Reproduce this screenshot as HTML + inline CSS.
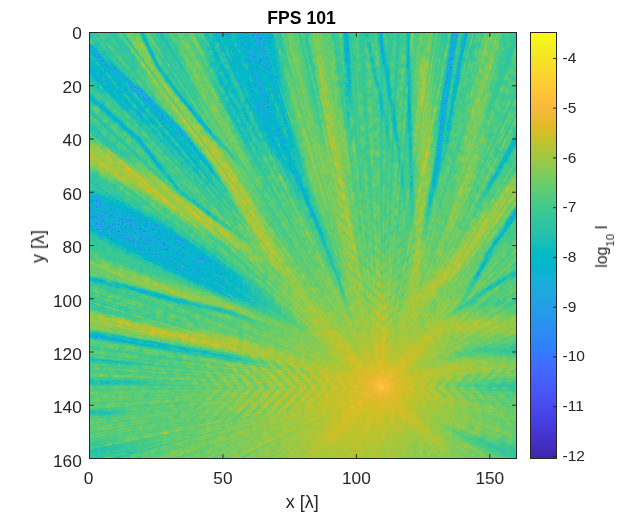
<!DOCTYPE html><html><head><meta charset="utf-8"><style>html,body{margin:0;padding:0;background:#fff;overflow:hidden}svg{position:absolute;left:0;top:0;display:block}</style></head><body><svg width="631" height="518" viewBox="0 0 631 518"><defs><filter id="b3" x="65" y="8" width="476" height="475" filterUnits="userSpaceOnUse"><feGaussianBlur stdDeviation="3"/></filter><filter id="b1" x="65" y="8" width="476" height="475" filterUnits="userSpaceOnUse"><feGaussianBlur stdDeviation="1"/></filter><linearGradient id="g0" gradientUnits="userSpaceOnUse" x1="381.5" y1="387.3" x2="270" y2="276"><stop offset="0" stop-color="rgb(0,154,0)"/><stop offset="0.4" stop-color="rgb(0,154,0)"/><stop offset="1" stop-color="rgb(0,154,0)" stop-opacity="0"/></linearGradient><linearGradient id="g1" gradientUnits="userSpaceOnUse" x1="381.5" y1="387.3" x2="493" y2="276"><stop offset="0" stop-color="rgb(0,154,0)"/><stop offset="0.4" stop-color="rgb(0,154,0)"/><stop offset="1" stop-color="rgb(0,154,0)" stop-opacity="0"/></linearGradient><linearGradient id="g2" gradientUnits="userSpaceOnUse" x1="381.5" y1="387.3" x2="300" y2="469"><stop offset="0" stop-color="rgb(0,154,0)"/><stop offset="0.5" stop-color="rgb(0,154,0)"/><stop offset="1" stop-color="rgb(0,154,0)" stop-opacity="0"/></linearGradient><linearGradient id="g3" gradientUnits="userSpaceOnUse" x1="381.5" y1="387.3" x2="463" y2="469"><stop offset="0" stop-color="rgb(0,154,0)"/><stop offset="0.5" stop-color="rgb(0,154,0)"/><stop offset="1" stop-color="rgb(0,154,0)" stop-opacity="0"/></linearGradient><linearGradient id="g4" gradientUnits="userSpaceOnUse" x1="381.5" y1="387.3" x2="381.5" y2="250"><stop offset="0" stop-color="rgb(0,163,0)"/><stop offset="0.4" stop-color="rgb(0,163,0)"/><stop offset="1" stop-color="rgb(0,163,0)" stop-opacity="0"/></linearGradient><linearGradient id="g5" gradientUnits="userSpaceOnUse" x1="381.5" y1="387.3" x2="180" y2="387"><stop offset="0" stop-color="rgb(0,154,0)"/><stop offset="0.5" stop-color="rgb(0,154,0)"/><stop offset="1" stop-color="rgb(0,154,0)" stop-opacity="0"/></linearGradient><linearGradient id="g6" gradientUnits="userSpaceOnUse" x1="381.5" y1="387.3" x2="480" y2="387"><stop offset="0" stop-color="rgb(0,154,0)"/><stop offset="0.5" stop-color="rgb(0,154,0)"/><stop offset="1" stop-color="rgb(0,154,0)" stop-opacity="0"/></linearGradient><linearGradient id="g7" gradientUnits="userSpaceOnUse" x1="84" y1="58" x2="245" y2="230"><stop offset="0" stop-color="rgb(0,87,0)"/><stop offset="0.65" stop-color="rgb(0,87,0)"/><stop offset="1" stop-color="rgb(0,87,0)" stop-opacity="0"/></linearGradient><linearGradient id="g8" gradientUnits="userSpaceOnUse" x1="128" y1="22" x2="330" y2="330"><stop offset="0" stop-color="rgb(0,159,0)"/><stop offset="0.3" stop-color="rgb(0,170,0)"/><stop offset="0.5" stop-color="rgb(0,181,0)"/><stop offset="0.68" stop-color="rgb(0,182,0)"/><stop offset="1" stop-color="rgb(0,183,0)" stop-opacity="0"/></linearGradient><linearGradient id="g12" gradientUnits="userSpaceOnUse" x1="84" y1="150" x2="290" y2="280"><stop offset="0" stop-color="rgb(0,187,0)"/><stop offset="0.55" stop-color="rgb(0,187,0)"/><stop offset="1" stop-color="rgb(0,187,0)" stop-opacity="0"/></linearGradient><linearGradient id="g13" gradientUnits="userSpaceOnUse" x1="84" y1="208" x2="320" y2="337"><stop offset="0" stop-color="rgb(0,66,0)"/><stop offset="0.65" stop-color="rgb(0,66,0)"/><stop offset="1" stop-color="rgb(0,66,0)" stop-opacity="0"/></linearGradient><linearGradient id="g14" gradientUnits="userSpaceOnUse" x1="84" y1="264" x2="320" y2="345"><stop offset="0" stop-color="rgb(0,167,0)"/><stop offset="0.6" stop-color="rgb(0,167,0)"/><stop offset="1" stop-color="rgb(0,167,0)" stop-opacity="0"/></linearGradient><linearGradient id="g16" gradientUnits="userSpaceOnUse" x1="84" y1="320" x2="330" y2="372"><stop offset="0" stop-color="rgb(0,181,0)"/><stop offset="0.6" stop-color="rgb(0,181,0)"/><stop offset="1" stop-color="rgb(0,181,0)" stop-opacity="0"/></linearGradient><linearGradient id="g21" gradientUnits="userSpaceOnUse" x1="84" y1="452" x2="180" y2="440"><stop offset="0" stop-color="rgb(0,92,0)"/><stop offset="0.4" stop-color="rgb(0,92,0)"/><stop offset="1" stop-color="rgb(0,92,0)" stop-opacity="0"/></linearGradient><linearGradient id="g22" gradientUnits="userSpaceOnUse" x1="222" y1="22" x2="272" y2="185"><stop offset="0" stop-color="rgb(0,92,0)"/><stop offset="0.6" stop-color="rgb(0,92,0)"/><stop offset="1" stop-color="rgb(0,92,0)" stop-opacity="0"/></linearGradient><linearGradient id="g23" gradientUnits="userSpaceOnUse" x1="182" y1="22" x2="275" y2="230"><stop offset="0" stop-color="rgb(0,159,0)"/><stop offset="0.6" stop-color="rgb(0,159,0)"/><stop offset="1" stop-color="rgb(0,159,0)" stop-opacity="0"/></linearGradient><linearGradient id="g24" gradientUnits="userSpaceOnUse" x1="248" y1="22" x2="346" y2="300"><stop offset="0" stop-color="rgb(0,82,0)"/><stop offset="0.7" stop-color="rgb(0,82,0)"/><stop offset="1" stop-color="rgb(0,82,0)" stop-opacity="0"/></linearGradient><linearGradient id="g25" gradientUnits="userSpaceOnUse" x1="252" y1="22" x2="346" y2="300"><stop offset="0" stop-color="rgb(0,64,0)"/><stop offset="0.7" stop-color="rgb(0,64,0)"/><stop offset="1" stop-color="rgb(0,64,0)" stop-opacity="0"/></linearGradient><linearGradient id="g26" gradientUnits="userSpaceOnUse" x1="290" y1="22" x2="342" y2="280"><stop offset="0" stop-color="rgb(0,159,0)"/><stop offset="0.6" stop-color="rgb(0,159,0)"/><stop offset="1" stop-color="rgb(0,159,0)" stop-opacity="0"/></linearGradient><linearGradient id="g27" gradientUnits="userSpaceOnUse" x1="317" y1="22" x2="375" y2="360"><stop offset="0" stop-color="rgb(0,172,0)"/><stop offset="0.65" stop-color="rgb(0,172,0)"/><stop offset="1" stop-color="rgb(0,172,0)" stop-opacity="0"/></linearGradient><linearGradient id="g32" gradientUnits="userSpaceOnUse" x1="424" y1="22" x2="411" y2="318"><stop offset="0" stop-color="rgb(0,150,0)"/><stop offset="0.7" stop-color="rgb(0,150,0)"/><stop offset="1" stop-color="rgb(0,150,0)" stop-opacity="0"/></linearGradient><linearGradient id="g33" gradientUnits="userSpaceOnUse" x1="425" y1="60" x2="405" y2="340"><stop offset="0" stop-color="rgb(0,176,0)"/><stop offset="0.65" stop-color="rgb(0,176,0)"/><stop offset="1" stop-color="rgb(0,176,0)" stop-opacity="0"/></linearGradient><linearGradient id="g37" gradientUnits="userSpaceOnUse" x1="494" y1="22" x2="430" y2="280"><stop offset="0" stop-color="rgb(0,159,0)"/><stop offset="0.6" stop-color="rgb(0,159,0)"/><stop offset="1" stop-color="rgb(0,159,0)" stop-opacity="0"/></linearGradient><linearGradient id="g39" gradientUnits="userSpaceOnUse" x1="522" y1="178" x2="395" y2="330"><stop offset="0" stop-color="rgb(0,167,0)"/><stop offset="0.6" stop-color="rgb(0,167,0)"/><stop offset="1" stop-color="rgb(0,167,0)" stop-opacity="0"/></linearGradient><linearGradient id="g42" gradientUnits="userSpaceOnUse" x1="522" y1="302" x2="430" y2="330"><stop offset="0" stop-color="rgb(0,97,0)"/><stop offset="0.5" stop-color="rgb(0,97,0)"/><stop offset="1" stop-color="rgb(0,97,0)" stop-opacity="0"/></linearGradient><linearGradient id="g43" gradientUnits="userSpaceOnUse" x1="522" y1="325" x2="405" y2="355"><stop offset="0" stop-color="rgb(0,159,0)"/><stop offset="0.5" stop-color="rgb(0,159,0)"/><stop offset="1" stop-color="rgb(0,159,0)" stop-opacity="0"/></linearGradient><linearGradient id="g44" gradientUnits="userSpaceOnUse" x1="522" y1="350" x2="410" y2="375"><stop offset="0" stop-color="rgb(0,82,0)"/><stop offset="0.5" stop-color="rgb(0,82,0)"/><stop offset="1" stop-color="rgb(0,82,0)" stop-opacity="0"/></linearGradient><linearGradient id="g45" gradientUnits="userSpaceOnUse" x1="522" y1="368" x2="410" y2="376"><stop offset="0" stop-color="rgb(0,154,0)"/><stop offset="0.5" stop-color="rgb(0,154,0)"/><stop offset="1" stop-color="rgb(0,154,0)" stop-opacity="0"/></linearGradient><linearGradient id="g46" gradientUnits="userSpaceOnUse" x1="522" y1="387" x2="415" y2="387"><stop offset="0" stop-color="rgb(0,82,0)"/><stop offset="0.5" stop-color="rgb(0,82,0)"/><stop offset="1" stop-color="rgb(0,82,0)" stop-opacity="0"/></linearGradient><linearGradient id="g47" gradientUnits="userSpaceOnUse" x1="522" y1="455" x2="415" y2="412"><stop offset="0" stop-color="rgb(0,82,0)"/><stop offset="0.5" stop-color="rgb(0,82,0)"/><stop offset="1" stop-color="rgb(0,82,0)" stop-opacity="0"/></linearGradient><linearGradient id="g9" gradientUnits="userSpaceOnUse" x1="88" y1="45" x2="245" y2="220"><stop offset="0" stop-color="rgb(0,61,0)"/><stop offset="0.7" stop-color="rgb(0,61,0)"/><stop offset="1" stop-color="rgb(0,61,0)" stop-opacity="0"/></linearGradient><linearGradient id="g10" gradientUnits="userSpaceOnUse" x1="138" y1="22" x2="250" y2="175"><stop offset="0" stop-color="rgb(0,36,0)"/><stop offset="0.7" stop-color="rgb(0,36,0)"/><stop offset="1" stop-color="rgb(0,36,0)" stop-opacity="0"/></linearGradient><linearGradient id="g11" gradientUnits="userSpaceOnUse" x1="84" y1="92" x2="260" y2="250"><stop offset="0" stop-color="rgb(0,66,0)"/><stop offset="0.7" stop-color="rgb(0,66,0)"/><stop offset="1" stop-color="rgb(0,66,0)" stop-opacity="0"/></linearGradient><linearGradient id="g15" gradientUnits="userSpaceOnUse" x1="84" y1="277" x2="290" y2="335"><stop offset="0" stop-color="rgb(0,76,0)"/><stop offset="0.7" stop-color="rgb(0,76,0)"/><stop offset="1" stop-color="rgb(0,76,0)" stop-opacity="0"/></linearGradient><linearGradient id="g17" gradientUnits="userSpaceOnUse" x1="84" y1="334" x2="290" y2="370"><stop offset="0" stop-color="rgb(0,66,0)"/><stop offset="0.7" stop-color="rgb(0,66,0)"/><stop offset="1" stop-color="rgb(0,66,0)" stop-opacity="0"/></linearGradient><linearGradient id="g18" gradientUnits="userSpaceOnUse" x1="84" y1="360" x2="160" y2="366"><stop offset="0" stop-color="rgb(0,92,0)"/><stop offset="0.5" stop-color="rgb(0,92,0)"/><stop offset="1" stop-color="rgb(0,92,0)" stop-opacity="0"/></linearGradient><linearGradient id="g19" gradientUnits="userSpaceOnUse" x1="84" y1="382" x2="180" y2="384"><stop offset="0" stop-color="rgb(0,71,0)"/><stop offset="0.5" stop-color="rgb(0,71,0)"/><stop offset="1" stop-color="rgb(0,71,0)" stop-opacity="0"/></linearGradient><linearGradient id="g20" gradientUnits="userSpaceOnUse" x1="84" y1="412" x2="140" y2="410"><stop offset="0" stop-color="rgb(0,76,0)"/><stop offset="0.5" stop-color="rgb(0,76,0)"/><stop offset="1" stop-color="rgb(0,76,0)" stop-opacity="0"/></linearGradient><linearGradient id="g28" gradientUnits="userSpaceOnUse" x1="345" y1="22" x2="352" y2="150"><stop offset="0" stop-color="rgb(0,76,0)"/><stop offset="0.5" stop-color="rgb(0,76,0)"/><stop offset="1" stop-color="rgb(0,76,0)" stop-opacity="0"/></linearGradient><linearGradient id="g29" gradientUnits="userSpaceOnUse" x1="378" y1="22" x2="408" y2="230"><stop offset="0" stop-color="rgb(0,76,0)"/><stop offset="0.6" stop-color="rgb(0,76,0)"/><stop offset="1" stop-color="rgb(0,76,0)" stop-opacity="0"/></linearGradient><linearGradient id="g30" gradientUnits="userSpaceOnUse" x1="364" y1="22" x2="398" y2="180"><stop offset="0" stop-color="rgb(0,82,0)"/><stop offset="0.6" stop-color="rgb(0,82,0)"/><stop offset="1" stop-color="rgb(0,82,0)" stop-opacity="0"/></linearGradient><linearGradient id="g31" gradientUnits="userSpaceOnUse" x1="296" y1="172" x2="355" y2="330"><stop offset="0" stop-color="rgb(0,56,0)"/><stop offset="0.7" stop-color="rgb(0,56,0)"/><stop offset="1" stop-color="rgb(0,56,0)" stop-opacity="0"/></linearGradient><linearGradient id="g34" gradientUnits="userSpaceOnUse" x1="408" y1="22" x2="414" y2="250"><stop offset="0" stop-color="rgb(0,66,0)"/><stop offset="0.7" stop-color="rgb(0,66,0)"/><stop offset="1" stop-color="rgb(0,66,0)" stop-opacity="0"/></linearGradient><linearGradient id="g35" gradientUnits="userSpaceOnUse" x1="457" y1="22" x2="418" y2="260"><stop offset="0" stop-color="rgb(0,56,0)"/><stop offset="0.7" stop-color="rgb(0,56,0)"/><stop offset="1" stop-color="rgb(0,56,0)" stop-opacity="0"/></linearGradient><linearGradient id="g36" gradientUnits="userSpaceOnUse" x1="468" y1="22" x2="432" y2="200"><stop offset="0" stop-color="rgb(0,71,0)"/><stop offset="0.6" stop-color="rgb(0,71,0)"/><stop offset="1" stop-color="rgb(0,71,0)" stop-opacity="0"/></linearGradient><linearGradient id="g38" gradientUnits="userSpaceOnUse" x1="522" y1="125" x2="475" y2="210"><stop offset="0" stop-color="rgb(0,71,0)"/><stop offset="0.6" stop-color="rgb(0,71,0)"/><stop offset="1" stop-color="rgb(0,71,0)" stop-opacity="0"/></linearGradient><linearGradient id="g40" gradientUnits="userSpaceOnUse" x1="522" y1="203" x2="450" y2="320"><stop offset="0" stop-color="rgb(0,56,0)"/><stop offset="0.6" stop-color="rgb(0,56,0)"/><stop offset="1" stop-color="rgb(0,56,0)" stop-opacity="0"/></linearGradient><linearGradient id="g41" gradientUnits="userSpaceOnUse" x1="522" y1="268" x2="440" y2="320"><stop offset="0" stop-color="rgb(0,66,0)"/><stop offset="0.6" stop-color="rgb(0,66,0)"/><stop offset="1" stop-color="rgb(0,66,0)" stop-opacity="0"/></linearGradient><pattern id="hp0" width="7.4" height="7.4" patternUnits="userSpaceOnUse" patternTransform="translate(381.5 387.3) rotate(-45)"><rect width="2" height="7.4" fill="rgb(0,92,0)"/></pattern><linearGradient id="hm0g" gradientUnits="userSpaceOnUse" x1="381.5" y1="387.3" x2="381.5" y2="170"><stop offset="0" stop-color="#fff" stop-opacity="0.15"/><stop offset="0.35" stop-color="#fff" stop-opacity="0.8"/><stop offset="1" stop-color="#fff" stop-opacity="0.2"/></linearGradient><mask id="hm0" maskUnits="userSpaceOnUse" x="65" y="8" width="476" height="475"><path d="M381.5 387.3L381.5 170L325 170Z" fill="url(#hm0g)"/></mask><pattern id="hp1" width="7.4" height="7.4" patternUnits="userSpaceOnUse" patternTransform="translate(381.5 387.3) rotate(45)"><rect width="2" height="7.4" fill="rgb(0,92,0)"/></pattern><linearGradient id="hm1g" gradientUnits="userSpaceOnUse" x1="381.5" y1="387.3" x2="381.5" y2="170"><stop offset="0" stop-color="#fff" stop-opacity="0.15"/><stop offset="0.35" stop-color="#fff" stop-opacity="0.8"/><stop offset="1" stop-color="#fff" stop-opacity="0.2"/></linearGradient><mask id="hm1" maskUnits="userSpaceOnUse" x="65" y="8" width="476" height="475"><path d="M381.5 387.3L381.5 170L438 170Z" fill="url(#hm1g)"/></mask><pattern id="hp2" width="7.4" height="7.4" patternUnits="userSpaceOnUse" patternTransform="translate(381.5 387.3) rotate(-45)"><rect width="2" height="7.4" fill="rgb(0,69,0)"/></pattern><linearGradient id="hm2g" gradientUnits="userSpaceOnUse" x1="381.5" y1="387.3" x2="120" y2="387.3"><stop offset="0" stop-color="#fff" stop-opacity="0.15"/><stop offset="0.3" stop-color="#fff" stop-opacity="0.9"/><stop offset="1" stop-color="#fff" stop-opacity="0"/></linearGradient><mask id="hm2" maskUnits="userSpaceOnUse" x="65" y="8" width="476" height="475"><path d="M381.5 387.3L240 352L89 345L89 387.3Z" fill="url(#hm2g)"/></mask><pattern id="hp3" width="7.4" height="7.4" patternUnits="userSpaceOnUse" patternTransform="translate(381.5 387.3) rotate(45)"><rect width="2" height="7.4" fill="rgb(0,69,0)"/></pattern><linearGradient id="hm3g" gradientUnits="userSpaceOnUse" x1="381.5" y1="387.3" x2="120" y2="387.3"><stop offset="0" stop-color="#fff" stop-opacity="0.15"/><stop offset="0.3" stop-color="#fff" stop-opacity="0.9"/><stop offset="1" stop-color="#fff" stop-opacity="0"/></linearGradient><mask id="hm3" maskUnits="userSpaceOnUse" x="65" y="8" width="476" height="475"><path d="M381.5 387.3L240 422L89 430L89 387.3Z" fill="url(#hm3g)"/></mask><pattern id="hp4" width="7.4" height="7.4" patternUnits="userSpaceOnUse" patternTransform="translate(381.5 387.3) rotate(45)"><rect width="2" height="7.4" fill="rgb(0,69,0)"/></pattern><linearGradient id="hm4g" gradientUnits="userSpaceOnUse" x1="381.5" y1="387.3" x2="517" y2="387.3"><stop offset="0" stop-color="#fff" stop-opacity="0.15"/><stop offset="0.45" stop-color="#fff" stop-opacity="0.9"/><stop offset="1" stop-color="#fff" stop-opacity="0.4"/></linearGradient><mask id="hm4" maskUnits="userSpaceOnUse" x="65" y="8" width="476" height="475"><path d="M381.5 387.3L517 365L517 387.3Z" fill="url(#hm4g)"/></mask><pattern id="hp5" width="7.4" height="7.4" patternUnits="userSpaceOnUse" patternTransform="translate(381.5 387.3) rotate(-45)"><rect width="2" height="7.4" fill="rgb(0,69,0)"/></pattern><linearGradient id="hm5g" gradientUnits="userSpaceOnUse" x1="381.5" y1="387.3" x2="517" y2="387.3"><stop offset="0" stop-color="#fff" stop-opacity="0.15"/><stop offset="0.45" stop-color="#fff" stop-opacity="0.9"/><stop offset="1" stop-color="#fff" stop-opacity="0.4"/></linearGradient><mask id="hm5" maskUnits="userSpaceOnUse" x="65" y="8" width="476" height="475"><path d="M381.5 387.3L517 410L517 387.3Z" fill="url(#hm5g)"/></mask><radialGradient id="rs0" gradientUnits="userSpaceOnUse" cx="381.5" cy="387.3" r="560"><stop offset="0.0000" stop-color="rgb(255,0,0)"/><stop offset="0.0003" stop-color="rgb(255,0,0)"/><stop offset="0.0011" stop-color="rgb(246,0,0)"/><stop offset="0.0018" stop-color="rgb(236,0,0)"/><stop offset="0.0025" stop-color="rgb(233,0,0)"/><stop offset="0.0044" stop-color="rgb(226,0,0)"/><stop offset="0.0054" stop-color="rgb(223,0,0)"/><stop offset="0.0069" stop-color="rgb(221,0,0)"/><stop offset="0.0100" stop-color="rgb(218,0,0)"/><stop offset="0.0136" stop-color="rgb(215,0,0)"/><stop offset="0.0143" stop-color="rgb(214,0,0)"/><stop offset="0.0178" stop-color="rgb(211,0,0)"/><stop offset="0.0225" stop-color="rgb(208,0,0)"/><stop offset="0.0268" stop-color="rgb(205,0,0)"/><stop offset="0.0278" stop-color="rgb(205,0,0)"/><stop offset="0.0336" stop-color="rgb(203,0,0)"/><stop offset="0.0400" stop-color="rgb(201,0,0)"/><stop offset="0.0469" stop-color="rgb(198,0,0)"/><stop offset="0.0536" stop-color="rgb(196,0,0)"/><stop offset="0.0544" stop-color="rgb(196,0,0)"/><stop offset="0.0625" stop-color="rgb(194,0,0)"/><stop offset="0.0711" stop-color="rgb(193,0,0)"/><stop offset="0.0803" stop-color="rgb(191,0,0)"/><stop offset="0.0900" stop-color="rgb(189,0,0)"/><stop offset="0.1003" stop-color="rgb(187,0,0)"/><stop offset="0.1071" stop-color="rgb(186,0,0)"/><stop offset="0.1111" stop-color="rgb(185,0,0)"/><stop offset="0.1225" stop-color="rgb(184,0,0)"/><stop offset="0.1344" stop-color="rgb(182,0,0)"/><stop offset="0.1469" stop-color="rgb(181,0,0)"/><stop offset="0.1600" stop-color="rgb(179,0,0)"/><stop offset="0.1736" stop-color="rgb(177,0,0)"/><stop offset="0.1786" stop-color="rgb(177,0,0)"/><stop offset="0.1878" stop-color="rgb(176,0,0)"/><stop offset="0.2025" stop-color="rgb(174,0,0)"/><stop offset="0.2178" stop-color="rgb(173,0,0)"/><stop offset="0.2336" stop-color="rgb(171,0,0)"/><stop offset="0.2500" stop-color="rgb(170,0,0)"/><stop offset="0.2669" stop-color="rgb(168,0,0)"/><stop offset="0.2679" stop-color="rgb(168,0,0)"/><stop offset="0.2844" stop-color="rgb(167,0,0)"/><stop offset="0.3025" stop-color="rgb(166,0,0)"/><stop offset="0.3211" stop-color="rgb(165,0,0)"/><stop offset="0.3403" stop-color="rgb(163,0,0)"/><stop offset="0.3600" stop-color="rgb(162,0,0)"/><stop offset="0.3803" stop-color="rgb(161,0,0)"/><stop offset="0.3929" stop-color="rgb(160,0,0)"/><stop offset="0.4011" stop-color="rgb(160,0,0)"/><stop offset="0.4225" stop-color="rgb(159,0,0)"/><stop offset="0.4444" stop-color="rgb(159,0,0)"/><stop offset="0.4669" stop-color="rgb(158,0,0)"/><stop offset="0.4900" stop-color="rgb(157,0,0)"/><stop offset="0.5136" stop-color="rgb(157,0,0)"/><stop offset="0.5357" stop-color="rgb(156,0,0)"/><stop offset="0.5378" stop-color="rgb(156,0,0)"/><stop offset="0.5625" stop-color="rgb(155,0,0)"/><stop offset="0.5878" stop-color="rgb(155,0,0)"/><stop offset="0.6136" stop-color="rgb(154,0,0)"/><stop offset="0.6400" stop-color="rgb(153,0,0)"/><stop offset="0.6669" stop-color="rgb(153,0,0)"/><stop offset="0.6944" stop-color="rgb(152,0,0)"/><stop offset="0.7143" stop-color="rgb(151,0,0)"/><stop offset="0.7225" stop-color="rgb(151,0,0)"/><stop offset="0.7511" stop-color="rgb(151,0,0)"/><stop offset="0.7803" stop-color="rgb(151,0,0)"/><stop offset="0.8100" stop-color="rgb(150,0,0)"/><stop offset="0.8403" stop-color="rgb(150,0,0)"/><stop offset="0.8711" stop-color="rgb(150,0,0)"/><stop offset="0.9025" stop-color="rgb(149,0,0)"/><stop offset="0.9344" stop-color="rgb(149,0,0)"/><stop offset="0.9669" stop-color="rgb(149,0,0)"/><stop offset="1.0000" stop-color="rgb(148,0,0)"/></radialGradient><radialGradient id="nsg" gradientUnits="userSpaceOnUse" cx="381.5" cy="387.3" r="70"><stop offset="0" stop-color="#fff" stop-opacity="0.9"/><stop offset="0.5" stop-color="#fff" stop-opacity="0.6"/><stop offset="1" stop-color="#fff" stop-opacity="0"/></radialGradient><mask id="nsm" maskUnits="userSpaceOnUse" x="65" y="8" width="476" height="475"><rect x="65" y="8" width="476" height="475" fill="url(#nsg)"/></mask><filter id="bs" x="65" y="8" width="476" height="475" filterUnits="userSpaceOnUse"><feGaussianBlur stdDeviation="18"/></filter><radialGradient id="rg" gradientUnits="userSpaceOnUse" cx="381.5" cy="387.3" r="560"><stop offset="0.0000" stop-color="rgb(254,0,0)"/><stop offset="0.0003" stop-color="rgb(250,0,0)"/><stop offset="0.0011" stop-color="rgb(237,0,0)"/><stop offset="0.0018" stop-color="rgb(227,0,0)"/><stop offset="0.0025" stop-color="rgb(225,0,0)"/><stop offset="0.0044" stop-color="rgb(217,0,0)"/><stop offset="0.0054" stop-color="rgb(214,0,0)"/><stop offset="0.0069" stop-color="rgb(212,0,0)"/><stop offset="0.0100" stop-color="rgb(209,0,0)"/><stop offset="0.0136" stop-color="rgb(206,0,0)"/><stop offset="0.0143" stop-color="rgb(205,0,0)"/><stop offset="0.0178" stop-color="rgb(202,0,0)"/><stop offset="0.0225" stop-color="rgb(199,0,0)"/><stop offset="0.0268" stop-color="rgb(196,0,0)"/><stop offset="0.0278" stop-color="rgb(196,0,0)"/><stop offset="0.0336" stop-color="rgb(194,0,0)"/><stop offset="0.0400" stop-color="rgb(192,0,0)"/><stop offset="0.0469" stop-color="rgb(189,0,0)"/><stop offset="0.0536" stop-color="rgb(187,0,0)"/><stop offset="0.0544" stop-color="rgb(187,0,0)"/><stop offset="0.0625" stop-color="rgb(185,0,0)"/><stop offset="0.0711" stop-color="rgb(184,0,0)"/><stop offset="0.0803" stop-color="rgb(182,0,0)"/><stop offset="0.0900" stop-color="rgb(180,0,0)"/><stop offset="0.1003" stop-color="rgb(178,0,0)"/><stop offset="0.1071" stop-color="rgb(177,0,0)"/><stop offset="0.1111" stop-color="rgb(176,0,0)"/><stop offset="0.1225" stop-color="rgb(175,0,0)"/><stop offset="0.1344" stop-color="rgb(173,0,0)"/><stop offset="0.1469" stop-color="rgb(172,0,0)"/><stop offset="0.1600" stop-color="rgb(170,0,0)"/><stop offset="0.1736" stop-color="rgb(168,0,0)"/><stop offset="0.1786" stop-color="rgb(168,0,0)"/><stop offset="0.1878" stop-color="rgb(167,0,0)"/><stop offset="0.2025" stop-color="rgb(165,0,0)"/><stop offset="0.2178" stop-color="rgb(164,0,0)"/><stop offset="0.2336" stop-color="rgb(162,0,0)"/><stop offset="0.2500" stop-color="rgb(161,0,0)"/><stop offset="0.2669" stop-color="rgb(159,0,0)"/><stop offset="0.2679" stop-color="rgb(159,0,0)"/><stop offset="0.2844" stop-color="rgb(158,0,0)"/><stop offset="0.3025" stop-color="rgb(157,0,0)"/><stop offset="0.3211" stop-color="rgb(156,0,0)"/><stop offset="0.3403" stop-color="rgb(155,0,0)"/><stop offset="0.3600" stop-color="rgb(153,0,0)"/><stop offset="0.3803" stop-color="rgb(152,0,0)"/><stop offset="0.3929" stop-color="rgb(151,0,0)"/><stop offset="0.4011" stop-color="rgb(151,0,0)"/><stop offset="0.4225" stop-color="rgb(151,0,0)"/><stop offset="0.4444" stop-color="rgb(150,0,0)"/><stop offset="0.4669" stop-color="rgb(149,0,0)"/><stop offset="0.4900" stop-color="rgb(148,0,0)"/><stop offset="0.5136" stop-color="rgb(148,0,0)"/><stop offset="0.5357" stop-color="rgb(147,0,0)"/><stop offset="0.5378" stop-color="rgb(147,0,0)"/><stop offset="0.5625" stop-color="rgb(146,0,0)"/><stop offset="0.5878" stop-color="rgb(146,0,0)"/><stop offset="0.6136" stop-color="rgb(145,0,0)"/><stop offset="0.6400" stop-color="rgb(144,0,0)"/><stop offset="0.6669" stop-color="rgb(144,0,0)"/><stop offset="0.6944" stop-color="rgb(143,0,0)"/><stop offset="0.7143" stop-color="rgb(143,0,0)"/><stop offset="0.7225" stop-color="rgb(142,0,0)"/><stop offset="0.7511" stop-color="rgb(142,0,0)"/><stop offset="0.7803" stop-color="rgb(142,0,0)"/><stop offset="0.8100" stop-color="rgb(142,0,0)"/><stop offset="0.8403" stop-color="rgb(141,0,0)"/><stop offset="0.8711" stop-color="rgb(141,0,0)"/><stop offset="0.9025" stop-color="rgb(141,0,0)"/><stop offset="0.9344" stop-color="rgb(140,0,0)"/><stop offset="0.9669" stop-color="rgb(140,0,0)"/><stop offset="1.0000" stop-color="rgb(140,0,0)"/></radialGradient><linearGradient id="cb" x1="0" y1="1" x2="0" y2="0"><stop offset="0" stop-color="#3e26a8"/><stop offset="0.02" stop-color="#402bb7"/><stop offset="0.04" stop-color="#4330c5"/><stop offset="0.06" stop-color="#4535d2"/><stop offset="0.08" stop-color="#463bde"/><stop offset="0.1" stop-color="#4742e6"/><stop offset="0.12" stop-color="#4849ed"/><stop offset="0.14" stop-color="#4850f3"/><stop offset="0.16" stop-color="#4757f7"/><stop offset="0.18" stop-color="#465efb"/><stop offset="0.2" stop-color="#4465fd"/><stop offset="0.22" stop-color="#406dfe"/><stop offset="0.24" stop-color="#3974ff"/><stop offset="0.25" stop-color="#327cfc"/><stop offset="0.27" stop-color="#2e83f9"/><stop offset="0.29" stop-color="#2d8af5"/><stop offset="0.31" stop-color="#2c90f0"/><stop offset="0.33" stop-color="#2797eb"/><stop offset="0.35" stop-color="#259ce7"/><stop offset="0.37" stop-color="#22a2e4"/><stop offset="0.39" stop-color="#1da8e1"/><stop offset="0.41" stop-color="#19addc"/><stop offset="0.43" stop-color="#10b2d5"/><stop offset="0.45" stop-color="#04b6ce"/><stop offset="0.47" stop-color="#00bac6"/><stop offset="0.49" stop-color="#09bdbd"/><stop offset="0.51" stop-color="#1ac0b5"/><stop offset="0.53" stop-color="#27c2ac"/><stop offset="0.55" stop-color="#2fc5a3"/><stop offset="0.57" stop-color="#36c899"/><stop offset="0.59" stop-color="#40ca8d"/><stop offset="0.61" stop-color="#4ecc81"/><stop offset="0.63" stop-color="#5ecd74"/><stop offset="0.65" stop-color="#6ecd66"/><stop offset="0.67" stop-color="#81cc59"/><stop offset="0.69" stop-color="#93ca4b"/><stop offset="0.71" stop-color="#a4c83e"/><stop offset="0.73" stop-color="#b5c533"/><stop offset="0.75" stop-color="#c5c22a"/><stop offset="0.76" stop-color="#d3bf27"/><stop offset="0.78" stop-color="#e1bc2a"/><stop offset="0.8" stop-color="#ecba32"/><stop offset="0.82" stop-color="#f7ba3d"/><stop offset="0.84" stop-color="#febe3c"/><stop offset="0.86" stop-color="#fec537"/><stop offset="0.88" stop-color="#fdcd31"/><stop offset="0.9" stop-color="#fad52e"/><stop offset="0.92" stop-color="#f7dd2a"/><stop offset="0.94" stop-color="#f5e526"/><stop offset="0.96" stop-color="#f5ec22"/><stop offset="0.98" stop-color="#f7f41c"/><stop offset="1" stop-color="#f9fb15"/><stop offset="1" stop-color="#f9fb15"/></linearGradient><filter id="cm" x="65" y="8" width="476" height="475" filterUnits="userSpaceOnUse" color-interpolation-filters="sRGB"><feColorMatrix in="SourceGraphic" type="matrix" values="1 0 0 0 0 1 0 0 0 0 1 0 0 0 0 0 0 0 1 0" result="rr"/><feComponentTransfer in="rr" result="amp"><feFuncR type="table" tableValues="0.997 0.997 0.997 0.997 0.997 0.997 0.997 0.997 0.997 0.997 0.997 0.997 0.997 0.997 0.997 0.997 0.997 0.997 0.997 0.997 0.997 0.997 0.997 0.997 0.997 0.997 0.997 0.997 0.997 0.997 0.997 0.997 0.997 0.997 0.997 0.997 0.985 0.975 0.932 0.899 0.857 0.830 0.803 0.730 0.651 0.591 0.526 0.458 0.418 0.382 0.362 0.347 0.334 0.322 0.314 0.311 0.308 0.305 0.304 0.304 0.303 0.302 0.301 0.301 0.300"/><feFuncG type="table" tableValues="0.997 0.997 0.997 0.997 0.997 0.997 0.997 0.997 0.997 0.997 0.997 0.997 0.997 0.997 0.997 0.997 0.997 0.997 0.997 0.997 0.997 0.997 0.997 0.997 0.997 0.997 0.997 0.997 0.997 0.997 0.997 0.997 0.997 0.997 0.997 0.997 0.985 0.975 0.932 0.899 0.857 0.830 0.803 0.730 0.651 0.591 0.526 0.458 0.418 0.382 0.362 0.347 0.334 0.322 0.314 0.311 0.308 0.305 0.304 0.304 0.303 0.302 0.301 0.301 0.300"/><feFuncB type="table" tableValues="0.997 0.997 0.997 0.997 0.997 0.997 0.997 0.997 0.997 0.997 0.997 0.997 0.997 0.997 0.997 0.997 0.997 0.997 0.997 0.997 0.997 0.997 0.997 0.997 0.997 0.997 0.997 0.997 0.997 0.997 0.997 0.997 0.997 0.997 0.997 0.997 0.985 0.975 0.932 0.899 0.857 0.830 0.803 0.730 0.651 0.591 0.526 0.458 0.418 0.382 0.362 0.347 0.334 0.322 0.314 0.311 0.308 0.305 0.304 0.304 0.303 0.302 0.301 0.301 0.300"/></feComponentTransfer><feColorMatrix in="SourceGraphic" type="matrix" values="0 1 0 0 0 0 1 0 0 0 0 1 0 0 0 0 0 0 1 0" result="gg"/><feColorMatrix in="SourceGraphic" type="matrix" values="0 0 1 0 0 0 0 1 0 0 0 0 1 0 0 0 0 0 1 0" result="bb"/><feTurbulence type="fractalNoise" baseFrequency="0.16" numOctaves="2" seed="3" result="tu"/><feColorMatrix in="tu" type="matrix" values="1 0 0 0 0 1 0 0 0 0 1 0 0 0 0 0 0 0 0 1" result="nz0"/><feComponentTransfer in="nz0" result="nz"><feFuncR type="linear" slope="1.4" intercept="-0.1"/><feFuncG type="linear" slope="1.4" intercept="-0.1"/><feFuncB type="linear" slope="1.4" intercept="-0.1"/></feComponentTransfer><feComposite in="bb" in2="nz" operator="arithmetic" k1="0.4" k2="0" k3="-0.2000" k4="0.5" result="bn"/><feComposite in="gg" in2="bn" operator="arithmetic" k1="0" k2="1" k3="1" k4="-0.5" result="dev1"/><feComposite in="dev1" in2="nz" operator="arithmetic" k1="0" k2="1" k3="0.12" k4="-0.0600" result="dev2"/><feComposite in="amp" in2="dev2" operator="arithmetic" k1="1" k2="-0.5" k3="0" k4="0.5" result="mod"/><feComposite in="rr" in2="mod" operator="arithmetic" k1="0" k2="1" k3="0.5829" k4="-0.2914" result="v"/><feComponentTransfer in="v" result="blu"><feFuncR type="table" tableValues="1.000 1.000 1.000 1.000 1.000 1.000 1.000 1.000 1.000 1.000 1.000 1.000 1.000 1.000 1.000 0.813 0.500 0.188 0.000 0.000 0.000 0.000 0.000 0.000 0.000 0.000 0.000 0.000 0.000 0.000 0.000 0.000 0.000"/><feFuncG type="table" tableValues="1.000 1.000 1.000 1.000 1.000 1.000 1.000 1.000 1.000 1.000 1.000 1.000 1.000 1.000 1.000 0.813 0.500 0.188 0.000 0.000 0.000 0.000 0.000 0.000 0.000 0.000 0.000 0.000 0.000 0.000 0.000 0.000 0.000"/><feFuncB type="table" tableValues="1.000 1.000 1.000 1.000 1.000 1.000 1.000 1.000 1.000 1.000 1.000 1.000 1.000 1.000 1.000 0.813 0.500 0.188 0.000 0.000 0.000 0.000 0.000 0.000 0.000 0.000 0.000 0.000 0.000 0.000 0.000 0.000 0.000"/></feComponentTransfer><feTurbulence type="fractalNoise" baseFrequency="0.55" numOctaves="1" seed="5" result="t2"/><feColorMatrix in="t2" type="matrix" values="1 0 0 0 0 1 0 0 0 0 1 0 0 0 0 0 0 0 0 1" result="t2b"/><feComponentTransfer in="t2b" result="dots"><feFuncR type="linear" slope="15.385" intercept="-9.615"/><feFuncG type="linear" slope="15.385" intercept="-9.615"/><feFuncB type="linear" slope="15.385" intercept="-9.615"/></feComponentTransfer><feComposite in="blu" in2="dots" operator="arithmetic" k1="1" k2="0" k3="0" k4="0" result="bd0"/><feColorMatrix in="bd0" type="matrix" values="-1 0 0 0 1 0 -1 0 0 1 0 0 -1 0 1 0 0 0 0 1" result="bdi"/><feComposite in="v" in2="bdi" operator="arithmetic" k1="0" k2="1" k3="0.200" k4="-0.200" result="v2"/><feComponentTransfer in="v2"><feFuncR type="table" tableValues="0.242 0.244 0.246 0.248 0.25 0.252 0.254 0.256 0.258 0.259 0.261 0.263 0.265 0.266 0.268 0.269 0.27 0.272 0.273 0.274 0.275 0.276 0.277 0.277 0.278 0.279 0.279 0.28 0.28 0.281 0.281 0.281 0.281 0.281 0.281 0.281 0.281 0.281 0.281 0.28 0.28 0.279 0.278 0.278 0.277 0.275 0.274 0.273 0.271 0.269 0.267 0.265 0.262 0.259 0.256 0.252 0.247 0.242 0.237 0.231 0.225 0.219 0.213 0.207 0.201 0.195 0.19 0.187 0.185 0.183 0.182 0.181 0.179 0.178 0.178 0.177 0.177 0.176 0.175 0.174 0.172 0.169 0.165 0.161 0.157 0.154 0.151 0.149 0.147 0.146 0.145 0.143 0.141 0.138 0.135 0.132 0.129 0.125 0.122 0.118 0.115 0.112 0.108 0.105 0.101 0.096 0.091 0.086 0.079 0.071 0.063 0.053 0.043 0.033 0.023 0.015 0.009 0.005 0.002 0.001 0.002 0.005 0.009 0.016 0.025 0.037 0.05 0.064 0.077 0.09 0.102 0.114 0.125 0.135 0.145 0.153 0.161 0.168 0.174 0.18 0.185 0.191 0.195 0.2 0.206 0.212 0.218 0.224 0.232 0.24 0.249 0.259 0.27 0.281 0.293 0.305 0.318 0.33 0.342 0.355 0.367 0.38 0.392 0.405 0.418 0.432 0.446 0.461 0.475 0.49 0.504 0.519 0.533 0.547 0.561 0.575 0.589 0.602 0.616 0.63 0.643 0.657 0.67 0.683 0.696 0.709 0.722 0.734 0.747 0.759 0.771 0.783 0.794 0.806 0.817 0.828 0.839 0.85 0.86 0.87 0.88 0.89 0.9 0.909 0.918 0.927 0.936 0.944 0.952 0.961 0.969 0.977 0.984 0.99 0.995 0.997 0.997 0.997 0.997 0.997 0.997 0.996 0.996 0.995 0.994 0.992 0.991 0.989 0.986 0.984 0.981 0.978 0.975 0.972 0.969 0.967 0.965 0.963 0.962 0.961 0.96 0.96 0.96 0.96 0.96 0.961 0.962 0.963 0.964 0.966 0.967 0.969 0.971 0.973 0.975 0.977"/><feFuncG type="table" tableValues="0.15 0.153 0.157 0.161 0.165 0.169 0.173 0.177 0.181 0.185 0.189 0.193 0.197 0.201 0.205 0.209 0.214 0.218 0.223 0.228 0.233 0.238 0.243 0.249 0.254 0.26 0.265 0.271 0.276 0.282 0.287 0.293 0.298 0.304 0.309 0.315 0.32 0.326 0.331 0.337 0.342 0.347 0.353 0.358 0.364 0.369 0.375 0.38 0.386 0.392 0.397 0.403 0.409 0.414 0.42 0.426 0.432 0.438 0.444 0.45 0.456 0.462 0.468 0.474 0.48 0.486 0.492 0.497 0.503 0.508 0.514 0.519 0.524 0.53 0.535 0.54 0.545 0.55 0.555 0.56 0.566 0.571 0.576 0.581 0.585 0.59 0.595 0.6 0.604 0.609 0.614 0.618 0.623 0.627 0.632 0.636 0.641 0.645 0.65 0.654 0.658 0.663 0.667 0.671 0.675 0.679 0.683 0.686 0.69 0.694 0.697 0.701 0.704 0.707 0.71 0.713 0.716 0.719 0.722 0.725 0.728 0.73 0.733 0.735 0.738 0.74 0.742 0.745 0.747 0.749 0.751 0.753 0.755 0.757 0.759 0.761 0.763 0.766 0.768 0.77 0.772 0.774 0.776 0.779 0.781 0.783 0.785 0.787 0.789 0.79 0.792 0.794 0.795 0.796 0.797 0.798 0.799 0.8 0.801 0.802 0.802 0.803 0.803 0.803 0.803 0.803 0.802 0.802 0.801 0.8 0.799 0.798 0.797 0.796 0.794 0.793 0.791 0.79 0.788 0.786 0.784 0.782 0.78 0.777 0.775 0.773 0.77 0.768 0.765 0.763 0.76 0.758 0.755 0.753 0.75 0.748 0.746 0.744 0.741 0.739 0.737 0.735 0.734 0.732 0.731 0.73 0.729 0.729 0.728 0.729 0.729 0.73 0.733 0.737 0.741 0.746 0.751 0.757 0.763 0.768 0.774 0.78 0.786 0.791 0.797 0.803 0.809 0.816 0.822 0.828 0.834 0.84 0.847 0.853 0.859 0.865 0.872 0.878 0.884 0.89 0.896 0.902 0.908 0.914 0.92 0.926 0.932 0.938 0.944 0.949 0.955 0.961 0.967 0.972 0.978 0.984"/><feFuncB type="table" tableValues="0.66 0.673 0.685 0.696 0.707 0.718 0.729 0.739 0.75 0.761 0.772 0.783 0.794 0.804 0.815 0.825 0.835 0.844 0.853 0.861 0.869 0.877 0.884 0.891 0.897 0.903 0.909 0.915 0.92 0.925 0.93 0.935 0.94 0.944 0.948 0.952 0.956 0.96 0.964 0.967 0.97 0.973 0.976 0.979 0.982 0.984 0.986 0.988 0.99 0.991 0.992 0.994 0.995 0.996 0.997 0.997 0.998 0.999 1 1 0.999 0.997 0.995 0.993 0.991 0.989 0.987 0.984 0.982 0.979 0.977 0.974 0.971 0.968 0.964 0.96 0.956 0.952 0.947 0.943 0.939 0.936 0.932 0.929 0.925 0.922 0.918 0.915 0.911 0.908 0.905 0.902 0.9 0.897 0.895 0.893 0.891 0.889 0.886 0.883 0.88 0.877 0.873 0.87 0.865 0.861 0.856 0.851 0.846 0.841 0.836 0.83 0.824 0.818 0.812 0.806 0.8 0.794 0.788 0.781 0.775 0.769 0.762 0.756 0.749 0.743 0.736 0.729 0.722 0.716 0.709 0.702 0.695 0.688 0.681 0.674 0.667 0.66 0.653 0.645 0.638 0.63 0.623 0.615 0.607 0.598 0.59 0.581 0.573 0.564 0.555 0.545 0.536 0.527 0.517 0.507 0.497 0.488 0.477 0.467 0.456 0.445 0.434 0.423 0.412 0.401 0.39 0.38 0.369 0.359 0.348 0.337 0.327 0.316 0.305 0.294 0.283 0.273 0.262 0.252 0.242 0.233 0.224 0.215 0.207 0.2 0.192 0.185 0.178 0.172 0.166 0.161 0.157 0.155 0.153 0.154 0.155 0.156 0.159 0.162 0.165 0.17 0.175 0.181 0.189 0.197 0.206 0.215 0.224 0.231 0.237 0.242 0.245 0.243 0.239 0.235 0.231 0.227 0.222 0.218 0.214 0.209 0.205 0.201 0.197 0.194 0.191 0.188 0.185 0.182 0.179 0.176 0.173 0.17 0.167 0.164 0.161 0.158 0.156 0.153 0.151 0.148 0.145 0.142 0.138 0.134 0.13 0.126 0.122 0.117 0.112 0.106 0.1 0.094 0.087 0.081"/></feComponentTransfer></filter><clipPath id="clip"><rect x="89" y="32" width="428" height="427"/></clipPath></defs><g clip-path="url(#clip)"><g filter="url(#cm)"><rect x="65" y="8" width="476" height="475" fill="url(#rg)"/><g filter="url(#bs)"><path d="M381.5 387.3L60 360L60 500L381.5 500Z" fill="url(#rs0)"/></g><g style="mix-blend-mode:screen"><g filter="url(#b3)"><rect x="65" y="8" width="476" height="475" fill="rgb(0,128,0)"/><path d="M381.85 386.95L344.24 341.75L307.07 298.93L278.49 267.51L261.51 284.49L292.93 313.07L335.76 350.25L381.15 387.65Z" fill="url(#g0)"/><path d="M381.85 387.65L427.24 350.25L470.07 313.07L501.49 284.49L484.51 267.51L455.93 298.93L418.76 341.75L381.15 386.95Z" fill="url(#g1)"/><path d="M381.15 386.95L335.75 424.76L292.93 461.93L307.07 476.07L344.25 433.24L381.85 387.65Z" fill="url(#g2)"/><path d="M381.15 387.65L418.75 433.24L455.93 476.07L470.07 461.93L427.25 424.76L381.85 386.95Z" fill="url(#g3)"/><path d="M382 387.3L387.5 340L391.5 290L393.5 250L369.5 250L371.5 290L375.5 340L381 387.3Z" fill="url(#g4)"/><path d="M381.5 386.8L330.04 372L260 362L180 357L180 417L260 412L329.96 402L381.5 387.8Z" fill="url(#g5)"/><path d="M381.5 387.8L430.04 400L480 405L480 369L429.96 374L381.5 386.8Z" fill="url(#g6)"/><path d="M75.44 67.78L91.36 81.72L111.58 99.91L131.97 114.92L152.03 133.59L172.45 154.56L193.78 177.03L217.26 203.68L241.83 232.43L248.17 227.57L226.74 196.32L206.22 166.97L187.55 141.44L167.97 118.41L148.03 97.08L128.42 80.09L108.64 62.28L92.56 48.22Z" fill="url(#g7)"/><path d="M120.6 30.14L129.08 36.75L147.12 82.75L165.06 108.85L187.82 136.48L204.09 155.58L221.67 181.03L238.96 208.54L259.96 243.26L296.76 292.34L328 331.5L332 328.5L303.24 287.66L270.04 236.74L251.04 201.46L234.33 172.97L216.91 146.02L200.18 126.32L178.74 98.75L163.48 75.25L148.92 27.25L135.4 13.86Z" fill="url(#g8)"/><path d="M78.54 159.55L99.84 171.71L139.24 190.68L180.94 215.74L217.23 236.9L246.17 255.25L287.3 283.6L292.7 276.4L253.83 244.75L225.97 223.5L190.46 200.46L149.16 173.32L110.16 152.29L89.46 140.45Z" fill="url(#g12)"/><path d="M75.46 226.08L110.81 243.88L148.31 262.63L185.71 280.57L223.95 299.33L256.49 312.52L291.97 327.18L318.71 339.14L321.29 334.86L298.03 316.82L267.51 293.48L240.05 271.67L204.29 247.43L167.69 225.37L129.19 206.12L92.54 189.92Z" fill="url(#g13)"/><path d="M81.7 270.61L127.95 286.69L170.3 297.27L230.35 312.85L278.63 328.22L319.11 346.79L320.89 343.21L281.37 321.78L233.65 302.35L173.7 284.73L132.05 273.31L86.3 257.39Z" fill="url(#g14)"/><path d="M82.89 326.4L128.89 334.41L163.99 340.42L199.11 344.93L230.73 349.35L278.9 361.85L329.46 373.93L330.54 370.07L281.1 354.15L233.27 338.65L200.89 333.07L166.01 327.58L131.11 321.59L85.11 313.6Z" fill="url(#g16)"/><path d="M84.39 460.99L130.87 456.95L180.78 443.92L179.22 436.08L129.13 443.05L83.61 443.01Z" fill="url(#g21)"/><path d="M204.22 24.81L210.46 64.05L224.82 105.06L239.79 136.48L253.58 163.18L267.36 186.86L276.64 183.14L270.42 156.82L264.21 127.52L255.18 94.94L245.54 55.95L239.78 19.19Z" fill="url(#g22)"/><path d="M172.38 24.75L180.53 53.2L195.68 93.64L212.94 136.23L232.03 169.18L248.84 198.32L271.53 231.98L278.47 228.02L261.16 191.68L247.97 160.82L231.06 127.77L214.32 86.36L199.47 46.8L191.62 19.25Z" fill="url(#g23)"/><path d="M227.57 30.17L230.58 37.04L240.45 77.24L253.89 120.44L273.48 156.26L289.23 180.29L304.7 208.47L316.38 232.27L331.72 273.4L343.65 300.84L348.35 299.16L340.28 270.6L329.62 227.73L321.3 201.53L310.77 169.71L298.52 143.74L286.11 109.56L279.55 68.76L273.42 26.96L268.43 13.83Z" fill="url(#g24)"/><path d="M242.1 23.41L246.11 51.45L254.16 91.57L265.4 127.15L282.64 157.46L298.36 181.65L317.72 231.21L333.65 272.84L344.59 300.5L347.41 299.5L338.35 271.16L324.28 228.79L305.64 178.35L291.36 152.54L276.6 122.85L269.84 88.43L265.89 48.55L261.9 20.59Z" fill="url(#g25)"/><path d="M282.06 23.02L291.15 101.62L306.31 177.7L322.2 231.78L338.11 280.93L345.89 279.07L337.8 228.22L329.69 172.3L308.85 98.38L297.94 20.98Z" fill="url(#g26)"/><path d="M310.14 23.37L312.08 33.06L321.08 101.16L326.1 149.39L335.08 201.12L342.09 241.12L350.62 281.14L362.11 320.92L373.05 360.44L376.95 359.56L369.89 319.08L361.38 278.86L355.91 238.88L350.92 198.88L345.9 146.61L336.92 98.84L325.92 30.94L323.86 20.63Z" fill="url(#g27)"/><path d="M407 22L413 99.93L416.01 174.71L413.02 243.58L408.01 317.72L413.99 318.28L422.98 244.42L429.99 175.29L435 100.07L441 22Z" fill="url(#g32)"/><path d="M421 60L420 114.96L419.01 174.73L414.02 243.65L411.52 289.66L403.52 339.73L406.48 340.27L416.48 290.34L421.98 244.35L428.99 175.27L430 115.04L429 60Z" fill="url(#g33)"/><path d="M486.13 20.59L472.13 98.56L459.18 173.43L445.27 228.38L427.21 278.89L432.79 281.11L454.73 231.62L472.82 176.57L487.87 101.44L501.87 23.41Z" fill="url(#g37)"/><path d="M514.89 172.48L478.36 219.52L447.73 263.4L416.35 296.58L393.08 328.4L396.92 331.6L423.65 303.42L458.27 272.6L492.64 230.48L529.11 183.52Z" fill="url(#g39)"/><path d="M521.85 298L469.13 301.13L429.18 328.74L430.82 331.26L470.87 306.87L522.15 306Z" fill="url(#g42)"/><path d="M521.8 317L438.51 321.19L403.75 353.44L406.25 356.56L441.49 332.81L522.2 333Z" fill="url(#g43)"/><path d="M522 344L479.46 345.53L439.16 357.65L409.55 374.11L410.45 375.89L440.84 362.35L480.54 354.47L522 356Z" fill="url(#g44)"/><path d="M522 361L443.64 363.01L409.54 374.05L410.46 377.95L444.36 372.99L522 375Z" fill="url(#g45)"/><path d="M522.12 382L480 382L439.97 385L415 386L415 388L440.03 389L480 390L521.88 392Z" fill="url(#g46)"/><path d="M524.04 448.3L500.86 442.3L471.36 434.24L438.85 424.19L415.52 411.15L414.48 412.85L437.15 427.81L468.64 441.76L497.14 453.7L519.96 461.7Z" fill="url(#g47)"/></g><g filter="url(#b1)"><path d="M85.9 47.14L95.18 56.22L120.11 81.25L142.25 97.78L158.68 114.22L178 133.44L192.08 149.6L205.79 166.08L223.34 191.11L243.75 220.83L246.25 219.17L226.66 188.89L209.81 163.12L195.92 146.4L182.4 129.36L162.92 109.98L146.15 93.22L124.09 76.75L99.42 51.98L90.1 42.86Z" fill="url(#g9)"/><path d="M136.77 22.43L140.31 32.52L155.88 65.76L175.97 93.6L201.02 124.06L229.12 154.32L249.27 175.68L250.73 174.32L230.88 152.68L202.98 122.34L178.03 92L158.12 64.44L142.69 31.48L139.23 21.57Z" fill="url(#g10)"/><path d="M82.69 93.51L112.68 119.51L137.53 141.35L162.04 173.25L178.83 193.06L203.8 212.5L230.99 231.63L259.13 251.22L260.87 248.78L233.01 228.77L206.2 209.3L181.57 190.14L165.16 170.75L140.47 138.65L115.32 116.49L85.31 90.49Z" fill="url(#g11)"/><path d="M83.39 279.43L159.41 298.43L231.43 314.92L289.47 336.4L290.53 333.6L232.57 311.08L160.59 293.57L84.61 274.57Z" fill="url(#g15)"/><path d="M83.56 336.97L157.52 347.96L231.53 360.46L289.7 371.47L290.3 368.53L232.47 355.54L158.48 342.04L84.44 331.03Z" fill="url(#g17)"/><path d="M83.8 362.49L159.84 367.99L160.16 364.01L84.2 357.51Z" fill="url(#g18)"/><path d="M84 384.5L129.96 384L179.94 385.5L180.06 382.5L130.04 380L84 379.5Z" fill="url(#g19)"/><path d="M83.87 414.5L103.09 415.5L140.12 411.5L139.88 408.5L102.91 410.5L84.13 409.5Z" fill="url(#g20)"/><path d="M342 22.16L344 60.13L346.5 115.14L350.01 150.17L353.99 149.83L351.5 114.86L350 59.87L348 21.84Z" fill="url(#g28)"/><path d="M376.03 22.33L389.02 100.31L400.51 175.19L407.01 230.11L408.99 229.89L403.49 174.81L392.98 99.69L379.97 21.67Z" fill="url(#g29)"/><path d="M362.53 22.31L383.53 120.32L396.53 180.32L399.47 179.68L386.47 119.68L365.47 21.69Z" fill="url(#g30)"/><path d="M294.15 172.76L318.14 230.74L334.35 272.59L343.57 300.47L354.05 330.32L355.95 329.68L346.43 299.53L337.65 271.41L321.86 229.26L297.85 171.24Z" fill="url(#g31)"/><path d="M406.5 22.02L407.5 100.03L409.5 175.05L412.75 250.05L415.25 249.95L412.5 174.95L410.5 99.97L409.5 21.98Z" fill="url(#g34)"/><path d="M454.06 21.41L452.03 31.54L442.03 99.6L433.33 174.61L422.74 229.59L416.54 259.67L419.46 260.33L426.66 230.41L438.27 175.39L447.97 100.4L457.97 32.46L459.94 22.59Z" fill="url(#g35)"/><path d="M466.04 21.59L458.03 59.65L443.04 149.61L430.55 199.62L433.45 200.38L446.96 150.39L461.97 60.35L469.96 22.41Z" fill="url(#g36)"/><path d="M519.15 124.05L515.33 135.64L494.35 173.73L473.3 208.95L476.7 211.05L498.65 176.27L520.67 138.36L524.85 125.95Z" fill="url(#g38)"/><path d="M519.5 201.34L515.5 207.34L489.85 246.72L467.27 289.99L448.75 319.18L451.25 320.82L470.73 292.01L494.15 249.28L520.5 210.66L524.5 204.66Z" fill="url(#g40)"/><path d="M520.23 266.23L516.71 269.86L484.43 288.31L465.04 303.54L439.38 318.92L440.62 321.08L466.96 306.46L486.57 291.69L519.29 274.14L523.77 269.77Z" fill="url(#g41)"/><rect x="65" y="8" width="476" height="475" fill="url(#hp0)" mask="url(#hm0)"/><rect x="65" y="8" width="476" height="475" fill="url(#hp1)" mask="url(#hm1)"/><rect x="65" y="8" width="476" height="475" fill="url(#hp2)" mask="url(#hm2)"/><rect x="65" y="8" width="476" height="475" fill="url(#hp3)" mask="url(#hm3)"/><rect x="65" y="8" width="476" height="475" fill="url(#hp4)" mask="url(#hm4)"/><rect x="65" y="8" width="476" height="475" fill="url(#hp5)" mask="url(#hm5)"/></g></g><g style="mix-blend-mode:screen"><rect x="65" y="8" width="476" height="475" fill="rgb(0,0,128)"/><path d="M381.5 387.3L381.5 -332.7L385.84 -332.69z" fill="rgb(0,0,78)"/><path d="M381.5 387.3L385.27 -332.69L389.61 -332.65z" fill="rgb(0,0,143)"/><path d="M381.5 387.3L389.04 -332.66L393.37 -332.6z" fill="rgb(0,0,168)"/><path d="M381.5 387.3L392.81 -332.61L397.14 -332.53z" fill="rgb(0,0,107)"/><path d="M381.5 387.3L396.58 -332.54L400.91 -332.44z" fill="rgb(0,0,73)"/><path d="M381.5 387.3L400.35 -332.45L404.68 -332.33z" fill="rgb(0,0,125)"/><path d="M381.5 387.3L404.12 -332.34L408.45 -332.2z" fill="rgb(0,0,147)"/><path d="M381.5 387.3L407.88 -332.22L412.22 -332.04z" fill="rgb(0,0,172)"/><path d="M381.5 387.3L411.65 -332.07L415.98 -331.87z" fill="rgb(0,0,78)"/><path d="M381.5 387.3L415.42 -331.9L419.75 -331.68z" fill="rgb(0,0,75)"/><path d="M381.5 387.3L419.18 -331.71L423.51 -331.47z" fill="rgb(0,0,156)"/><path d="M381.5 387.3L422.95 -331.51L427.27 -331.24z" fill="rgb(0,0,147)"/><path d="M381.5 387.3L426.71 -331.28L431.04 -330.99z" fill="rgb(0,0,190)"/><path d="M381.5 387.3L430.47 -331.03L434.8 -330.72z" fill="rgb(0,0,168)"/><path d="M381.5 387.3L434.23 -330.77L438.55 -330.44z" fill="rgb(0,0,123)"/><path d="M381.5 387.3L437.99 -330.48L442.31 -330.13z" fill="rgb(0,0,116)"/><path d="M381.5 387.3L441.75 -330.17L446.07 -329.8z" fill="rgb(0,0,232)"/><path d="M381.5 387.3L445.5 -329.85L449.82 -329.45z" fill="rgb(0,0,116)"/><path d="M381.5 387.3L449.26 -329.5L453.57 -329.08z" fill="rgb(0,0,95)"/><path d="M381.5 387.3L453.01 -329.14L457.32 -328.7z" fill="rgb(0,0,81)"/><path d="M381.5 387.3L456.76 -328.76L461.07 -328.29z" fill="rgb(0,0,131)"/><path d="M381.5 387.3L460.51 -328.35L464.82 -327.86z" fill="rgb(0,0,133)"/><path d="M381.5 387.3L464.25 -327.93L468.56 -327.42z" fill="rgb(0,0,113)"/><path d="M381.5 387.3L468 -327.49L472.3 -326.95z" fill="rgb(0,0,125)"/><path d="M381.5 387.3L471.74 -327.02L476.04 -326.47z" fill="rgb(0,0,139)"/><path d="M381.5 387.3L475.48 -326.54L479.78 -325.96z" fill="rgb(0,0,156)"/><path d="M381.5 387.3L479.22 -326.04L483.51 -325.44z" fill="rgb(0,0,172)"/><path d="M381.5 387.3L482.95 -325.52L487.24 -324.89z" fill="rgb(0,0,136)"/><path d="M381.5 387.3L486.68 -324.98L490.97 -324.33z" fill="rgb(0,0,54)"/><path d="M381.5 387.3L490.41 -324.42L494.69 -323.75z" fill="rgb(0,0,156)"/><path d="M381.5 387.3L494.13 -323.84L498.41 -323.14z" fill="rgb(0,0,70)"/><path d="M381.5 387.3L497.85 -323.24L502.13 -322.52z" fill="rgb(0,0,121)"/><path d="M381.5 387.3L501.57 -322.62L505.85 -321.88z" fill="rgb(0,0,67)"/><path d="M381.5 387.3L505.29 -321.98L509.56 -321.22z" fill="rgb(0,0,128)"/><path d="M381.5 387.3L509 -321.32L513.27 -320.54z" fill="rgb(0,0,96)"/><path d="M381.5 387.3L512.71 -320.64L516.97 -319.84z" fill="rgb(0,0,136)"/><path d="M381.5 387.3L516.41 -319.95L520.67 -319.12z" fill="rgb(0,0,255)"/><path d="M381.5 387.3L520.12 -319.23L524.37 -318.38z" fill="rgb(0,0,126)"/><path d="M381.5 387.3L523.81 -318.5L528.06 -317.63z" fill="rgb(0,0,162)"/><path d="M381.5 387.3L527.51 -317.74L531.75 -316.85z" fill="rgb(0,0,74)"/><path d="M381.5 387.3L531.2 -316.97L535.43 -316.05z" fill="rgb(0,0,116)"/><path d="M381.5 387.3L534.88 -316.17L539.11 -315.24z" fill="rgb(0,0,155)"/><path d="M381.5 387.3L538.56 -315.36L542.79 -314.4z" fill="rgb(0,0,124)"/><path d="M381.5 387.3L542.24 -314.53L546.46 -313.55z" fill="rgb(0,0,143)"/><path d="M381.5 387.3L545.91 -313.68L550.13 -312.67z" fill="rgb(0,0,132)"/><path d="M381.5 387.3L549.58 -312.81L553.79 -311.78z" fill="rgb(0,0,86)"/><path d="M381.5 387.3L553.24 -311.92L557.45 -310.87z" fill="rgb(0,0,151)"/><path d="M381.5 387.3L556.9 -311.01L561.1 -309.94z" fill="rgb(0,0,94)"/><path d="M381.5 387.3L560.56 -310.08L564.75 -308.99z" fill="rgb(0,0,204)"/><path d="M381.5 387.3L564.21 -309.13L568.4 -308.02z" fill="rgb(0,0,107)"/><path d="M381.5 387.3L567.85 -308.17L572.03 -307.03z" fill="rgb(0,0,155)"/><path d="M381.5 387.3L571.49 -307.18L575.67 -306.02z" fill="rgb(0,0,128)"/><path d="M381.5 387.3L575.12 -306.18L579.29 -305z" fill="rgb(0,0,166)"/><path d="M381.5 387.3L578.75 -305.15L582.92 -303.95z" fill="rgb(0,0,103)"/><path d="M381.5 387.3L582.37 -304.11L586.53 -302.89z" fill="rgb(0,0,168)"/><path d="M381.5 387.3L585.99 -303.05L590.14 -301.81z" fill="rgb(0,0,122)"/><path d="M381.5 387.3L589.6 -301.97L593.75 -300.7z" fill="rgb(0,0,179)"/><path d="M381.5 387.3L593.21 -300.87L597.35 -299.58z" fill="rgb(0,0,153)"/><path d="M381.5 387.3L596.81 -299.75L600.94 -298.44z" fill="rgb(0,0,133)"/><path d="M381.5 387.3L600.4 -298.62L604.53 -297.29z" fill="rgb(0,0,96)"/><path d="M381.5 387.3L603.99 -297.46L608.11 -296.11z" fill="rgb(0,0,159)"/><path d="M381.5 387.3L607.57 -296.29L611.69 -294.91z" fill="rgb(0,0,147)"/><path d="M381.5 387.3L611.15 -295.09L615.26 -293.7z" fill="rgb(0,0,194)"/><path d="M381.5 387.3L614.72 -293.88L618.82 -292.46z" fill="rgb(0,0,112)"/><path d="M381.5 387.3L618.28 -292.65L622.37 -291.21z" fill="rgb(0,0,150)"/><path d="M381.5 387.3L621.84 -291.4L625.92 -289.94z" fill="rgb(0,0,148)"/><path d="M381.5 387.3L625.39 -290.13L629.47 -288.65z" fill="rgb(0,0,139)"/><path d="M381.5 387.3L628.93 -288.85L633 -287.35z" fill="rgb(0,0,136)"/><path d="M381.5 387.3L632.47 -287.54L636.53 -286.02z" fill="rgb(0,0,135)"/><path d="M381.5 387.3L636 -286.22L640.05 -284.68z" fill="rgb(0,0,103)"/><path d="M381.5 387.3L639.52 -284.88L643.57 -283.31z" fill="rgb(0,0,86)"/><path d="M381.5 387.3L643.04 -283.52L647.08 -281.93z" fill="rgb(0,0,111)"/><path d="M381.5 387.3L646.55 -282.14L650.58 -280.53z" fill="rgb(0,0,152)"/><path d="M381.5 387.3L650.05 -280.74L654.07 -279.11z" fill="rgb(0,0,189)"/><path d="M381.5 387.3L653.55 -279.33L657.55 -277.68z" fill="rgb(0,0,167)"/><path d="M381.5 387.3L657.03 -277.89L661.03 -276.22z" fill="rgb(0,0,170)"/><path d="M381.5 387.3L660.51 -276.44L664.5 -274.75z" fill="rgb(0,0,159)"/><path d="M381.5 387.3L663.98 -274.97L667.97 -273.26z" fill="rgb(0,0,156)"/><path d="M381.5 387.3L667.45 -273.48L671.42 -271.75z" fill="rgb(0,0,135)"/><path d="M381.5 387.3L670.9 -271.98L674.87 -270.22z" fill="rgb(0,0,159)"/><path d="M381.5 387.3L674.35 -270.45L678.31 -268.68z" fill="rgb(0,0,200)"/><path d="M381.5 387.3L677.79 -268.91L681.74 -267.11z" fill="rgb(0,0,114)"/><path d="M381.5 387.3L681.22 -267.35L685.16 -265.53z" fill="rgb(0,0,99)"/><path d="M381.5 387.3L684.65 -265.77L688.57 -263.93z" fill="rgb(0,0,207)"/><path d="M381.5 387.3L688.06 -264.18L691.98 -262.32z" fill="rgb(0,0,137)"/><path d="M381.5 387.3L691.47 -262.56L695.38 -260.68z" fill="rgb(0,0,167)"/><path d="M381.5 387.3L694.87 -260.93L698.76 -259.03z" fill="rgb(0,0,163)"/><path d="M381.5 387.3L698.26 -259.28L702.14 -257.36z" fill="rgb(0,0,81)"/><path d="M381.5 387.3L701.64 -257.61L705.51 -255.67z" fill="rgb(0,0,227)"/><path d="M381.5 387.3L705.01 -255.93L708.88 -253.97z" fill="rgb(0,0,200)"/><path d="M381.5 387.3L708.37 -254.22L712.23 -252.24z" fill="rgb(0,0,135)"/><path d="M381.5 387.3L711.73 -252.5L715.57 -250.5z" fill="rgb(0,0,158)"/><path d="M381.5 387.3L715.07 -250.77L718.91 -248.75z" fill="rgb(0,0,133)"/><path d="M381.5 387.3L718.41 -249.01L722.23 -246.97z" fill="rgb(0,0,91)"/><path d="M381.5 387.3L721.74 -247.24L725.55 -245.18z" fill="rgb(0,0,123)"/><path d="M381.5 387.3L725.05 -245.45L728.86 -243.37z" fill="rgb(0,0,143)"/><path d="M381.5 387.3L728.36 -243.64L732.16 -241.54z" fill="rgb(0,0,173)"/><path d="M381.5 387.3L731.66 -241.82L735.44 -239.7z" fill="rgb(0,0,156)"/><path d="M381.5 387.3L734.95 -239.97L738.72 -237.83z" fill="rgb(0,0,130)"/><path d="M381.5 387.3L738.23 -238.11L741.99 -235.96z" fill="rgb(0,0,183)"/><path d="M381.5 387.3L741.5 -236.24L745.25 -234.06z" fill="rgb(0,0,96)"/><path d="M381.5 387.3L744.76 -234.34L748.5 -232.15z" fill="rgb(0,0,160)"/><path d="M381.5 387.3L748.01 -232.43L751.73 -230.22z" fill="rgb(0,0,173)"/><path d="M381.5 387.3L751.25 -230.51L754.96 -228.27z" fill="rgb(0,0,116)"/><path d="M381.5 387.3L754.48 -228.56L758.18 -226.31z" fill="rgb(0,0,54)"/><path d="M381.5 387.3L757.7 -226.6L761.39 -224.32z" fill="rgb(0,0,91)"/><path d="M381.5 387.3L760.91 -224.62L764.59 -222.33z" fill="rgb(0,0,137)"/><path d="M381.5 387.3L764.11 -222.63L767.77 -220.31z" fill="rgb(0,0,149)"/><path d="M381.5 387.3L767.3 -220.62L770.95 -218.28z" fill="rgb(0,0,191)"/><path d="M381.5 387.3L770.47 -218.59L774.11 -216.23z" fill="rgb(0,0,87)"/><path d="M381.5 387.3L773.64 -216.54L777.27 -214.17z" fill="rgb(0,0,128)"/><path d="M381.5 387.3L776.8 -214.48L780.41 -212.09z" fill="rgb(0,0,154)"/><path d="M381.5 387.3L779.94 -212.4L783.55 -209.99z" fill="rgb(0,0,121)"/><path d="M381.5 387.3L783.08 -210.31L786.67 -207.88z" fill="rgb(0,0,31)"/><path d="M381.5 387.3L786.2 -208.2L789.78 -205.75z" fill="rgb(0,0,160)"/><path d="M381.5 387.3L789.31 -206.07L792.88 -203.6z" fill="rgb(0,0,222)"/><path d="M381.5 387.3L792.41 -203.93L795.97 -201.44z" fill="rgb(0,0,168)"/><path d="M381.5 387.3L795.5 -201.77L799.04 -199.26z" fill="rgb(0,0,90)"/><path d="M381.5 387.3L798.58 -199.59L802.11 -197.07z" fill="rgb(0,0,111)"/><path d="M381.5 387.3L801.65 -197.4L805.16 -194.86z" fill="rgb(0,0,137)"/><path d="M381.5 387.3L804.71 -195.19L808.21 -192.63z" fill="rgb(0,0,229)"/><path d="M381.5 387.3L807.75 -192.97L811.24 -190.39z" fill="rgb(0,0,153)"/><path d="M381.5 387.3L810.78 -190.73L814.25 -188.13z" fill="rgb(0,0,132)"/><path d="M381.5 387.3L813.8 -188.47L817.26 -185.86z" fill="rgb(0,0,191)"/><path d="M381.5 387.3L816.81 -186.2L820.26 -183.57z" fill="rgb(0,0,124)"/><path d="M381.5 387.3L819.81 -183.91L823.24 -181.26z" fill="rgb(0,0,203)"/><path d="M381.5 387.3L822.79 -181.61L826.21 -178.94z" fill="rgb(0,0,100)"/><path d="M381.5 387.3L825.77 -179.29L829.17 -176.61z" fill="rgb(0,0,108)"/><path d="M381.5 387.3L828.73 -176.96L832.12 -174.26z" fill="rgb(0,0,157)"/><path d="M381.5 387.3L831.67 -174.61L835.05 -171.89z" fill="rgb(0,0,186)"/><path d="M381.5 387.3L834.61 -172.25L837.97 -169.51z" fill="rgb(0,0,154)"/><path d="M381.5 387.3L837.53 -169.86L840.88 -167.11z" fill="rgb(0,0,140)"/><path d="M381.5 387.3L840.45 -167.47L843.78 -164.7z" fill="rgb(0,0,53)"/><path d="M381.5 387.3L843.34 -165.06L846.66 -162.27z" fill="rgb(0,0,98)"/><path d="M381.5 387.3L846.23 -162.63L849.53 -159.82z" fill="rgb(0,0,103)"/><path d="M381.5 387.3L849.1 -160.19L852.39 -157.37z" fill="rgb(0,0,106)"/><path d="M381.5 387.3L851.96 -157.74L855.24 -154.89z" fill="rgb(0,0,151)"/><path d="M381.5 387.3L854.81 -155.27L858.07 -152.41z" fill="rgb(0,0,114)"/><path d="M381.5 387.3L857.64 -152.78L860.89 -149.9z" fill="rgb(0,0,160)"/><path d="M381.5 387.3L860.47 -150.28L863.69 -147.39z" fill="rgb(0,0,131)"/><path d="M381.5 387.3L863.27 -147.76L866.49 -144.85z" fill="rgb(0,0,114)"/><path d="M381.5 387.3L866.07 -145.23L869.27 -142.31z" fill="rgb(0,0,132)"/><path d="M381.5 387.3L868.85 -142.69L872.03 -139.75z" fill="rgb(0,0,145)"/><path d="M381.5 387.3L871.62 -140.13L874.79 -137.17z" fill="rgb(0,0,163)"/><path d="M381.5 387.3L874.37 -137.56L877.53 -134.58z" fill="rgb(0,0,108)"/><path d="M381.5 387.3L877.12 -134.97L880.25 -131.98z" fill="rgb(0,0,118)"/><path d="M381.5 387.3L879.84 -132.37L882.96 -129.36z" fill="rgb(0,0,72)"/><path d="M381.5 387.3L882.56 -129.75L885.66 -126.72z" fill="rgb(0,0,193)"/><path d="M381.5 387.3L885.26 -127.12L888.35 -124.08z" fill="rgb(0,0,187)"/><path d="M381.5 387.3L887.94 -124.48L891.02 -121.42z" fill="rgb(0,0,120)"/><path d="M381.5 387.3L890.62 -121.82L893.67 -118.74z" fill="rgb(0,0,108)"/><path d="M381.5 387.3L893.28 -119.14L896.32 -116.05z" fill="rgb(0,0,77)"/><path d="M381.5 387.3L895.92 -116.46L898.94 -113.35z" fill="rgb(0,0,134)"/><path d="M381.5 387.3L898.55 -113.76L901.56 -110.63z" fill="rgb(0,0,136)"/><path d="M381.5 387.3L901.17 -111.04L904.16 -107.9z" fill="rgb(0,0,217)"/><path d="M381.5 387.3L903.77 -108.32L906.74 -105.16z" fill="rgb(0,0,138)"/><path d="M381.5 387.3L906.36 -105.57L909.32 -102.4z" fill="rgb(0,0,96)"/><path d="M381.5 387.3L908.93 -102.82L911.87 -99.63z" fill="rgb(0,0,28)"/><path d="M381.5 387.3L911.49 -100.05L914.41 -96.85z" fill="rgb(0,0,185)"/><path d="M381.5 387.3L914.03 -97.27L916.94 -94.05z" fill="rgb(0,0,135)"/><path d="M381.5 387.3L916.56 -94.47L919.46 -91.24z" fill="rgb(0,0,62)"/><path d="M381.5 387.3L919.08 -91.67L921.95 -88.42z" fill="rgb(0,0,135)"/><path d="M381.5 387.3L921.58 -88.84L924.44 -85.58z" fill="rgb(0,0,62)"/><path d="M381.5 387.3L924.07 -86.01L926.91 -82.73z" fill="rgb(0,0,255)"/><path d="M381.5 387.3L926.54 -83.16L929.36 -79.87z" fill="rgb(0,0,173)"/><path d="M381.5 387.3L928.99 -80.3L931.8 -77z" fill="rgb(0,0,151)"/><path d="M381.5 387.3L931.43 -77.43L934.22 -74.11z" fill="rgb(0,0,120)"/><path d="M381.5 387.3L933.86 -74.54L936.63 -71.21z" fill="rgb(0,0,40)"/><path d="M381.5 387.3L936.27 -71.65L939.02 -68.3z" fill="rgb(0,0,122)"/><path d="M381.5 387.3L938.66 -68.73L941.4 -65.37z" fill="rgb(0,0,64)"/><path d="M381.5 387.3L941.05 -65.81L943.76 -62.43z" fill="rgb(0,0,152)"/><path d="M381.5 387.3L943.41 -62.87L946.11 -59.48z" fill="rgb(0,0,40)"/><path d="M381.5 387.3L945.76 -59.93L948.44 -56.52z" fill="rgb(0,0,90)"/><path d="M381.5 387.3L948.09 -56.97L950.76 -53.55z" fill="rgb(0,0,177)"/><path d="M381.5 387.3L950.41 -53.99L953.06 -50.56z" fill="rgb(0,0,195)"/><path d="M381.5 387.3L952.71 -51.01L955.34 -47.56z" fill="rgb(0,0,79)"/><path d="M381.5 387.3L955 -48.01L957.61 -44.55z" fill="rgb(0,0,65)"/><path d="M381.5 387.3L957.27 -45L959.87 -41.53z" fill="rgb(0,0,163)"/><path d="M381.5 387.3L959.53 -41.98L962.1 -38.49z" fill="rgb(0,0,162)"/><path d="M381.5 387.3L961.77 -38.95L964.32 -35.45z" fill="rgb(0,0,87)"/><path d="M381.5 387.3L963.99 -35.91L966.53 -32.39z" fill="rgb(0,0,99)"/><path d="M381.5 387.3L966.2 -32.85L968.72 -29.32z" fill="rgb(0,0,99)"/><path d="M381.5 387.3L968.39 -29.78L970.89 -26.24z" fill="rgb(0,0,79)"/><path d="M381.5 387.3L970.57 -26.7L973.05 -23.15z" fill="rgb(0,0,100)"/><path d="M381.5 387.3L972.73 -23.61L975.19 -20.05z" fill="rgb(0,0,179)"/><path d="M381.5 387.3L974.87 -20.51L977.32 -16.93z" fill="rgb(0,0,156)"/><path d="M381.5 387.3L977 -17.4L979.42 -13.81z" fill="rgb(0,0,211)"/><path d="M381.5 387.3L979.11 -14.28L981.52 -10.67z" fill="rgb(0,0,124)"/><path d="M381.5 387.3L981.2 -11.14L983.59 -7.52z" fill="rgb(0,0,122)"/><path d="M381.5 387.3L983.28 -8L985.65 -4.37z" fill="rgb(0,0,87)"/><path d="M381.5 387.3L985.34 -4.84L987.69 -1.2z" fill="rgb(0,0,122)"/><path d="M381.5 387.3L987.39 -1.67L989.72 1.98z" fill="rgb(0,0,74)"/><path d="M381.5 387.3L989.42 1.5L991.73 5.17z" fill="rgb(0,0,55)"/><path d="M381.5 387.3L991.43 4.69L993.72 8.37z" fill="rgb(0,0,156)"/><path d="M381.5 387.3L993.42 7.89L995.7 11.58z" fill="rgb(0,0,186)"/><path d="M381.5 387.3L995.4 11.1L997.66 14.8z" fill="rgb(0,0,162)"/><path d="M381.5 387.3L997.36 14.32L999.6 18.04z" fill="rgb(0,0,182)"/><path d="M381.5 387.3L999.31 17.55L1001.52 21.28z" fill="rgb(0,0,138)"/><path d="M381.5 387.3L1001.23 20.79L1003.43 24.53z" fill="rgb(0,0,98)"/><path d="M381.5 387.3L1003.14 24.04L1005.32 27.79z" fill="rgb(0,0,131)"/><path d="M381.5 387.3L1005.04 27.3L1007.19 31.06z" fill="rgb(0,0,112)"/><path d="M381.5 387.3L1006.91 30.57L1009.05 34.34z" fill="rgb(0,0,82)"/><path d="M381.5 387.3L1008.77 33.85L1010.89 37.63z" fill="rgb(0,0,58)"/><path d="M381.5 387.3L1010.62 37.14L1012.71 40.93z" fill="rgb(0,0,67)"/><path d="M381.5 387.3L1012.44 40.44L1014.52 44.24z" fill="rgb(0,0,127)"/><path d="M381.5 387.3L1014.25 43.75L1016.31 47.56z" fill="rgb(0,0,134)"/><path d="M381.5 387.3L1016.04 47.06L1018.08 50.89z" fill="rgb(0,0,108)"/><path d="M381.5 387.3L1017.81 50.39L1019.83 54.23z" fill="rgb(0,0,186)"/><path d="M381.5 387.3L1019.57 53.73L1021.56 57.57z" fill="rgb(0,0,135)"/><path d="M381.5 387.3L1021.3 57.07L1023.28 60.93z" fill="rgb(0,0,151)"/><path d="M381.5 387.3L1023.02 60.43L1024.98 64.3z" fill="rgb(0,0,177)"/><path d="M381.5 387.3L1024.73 63.79L1026.66 67.67z" fill="rgb(0,0,94)"/><path d="M381.5 387.3L1026.41 67.16L1028.33 71.05z" fill="rgb(0,0,47)"/><path d="M381.5 387.3L1028.08 70.54L1029.98 74.44z" fill="rgb(0,0,158)"/><path d="M381.5 387.3L1029.73 73.93L1031.6 77.84z" fill="rgb(0,0,99)"/><path d="M381.5 387.3L1031.36 77.33L1033.22 81.25z" fill="rgb(0,0,181)"/><path d="M381.5 387.3L1032.98 80.74L1034.81 84.67z" fill="rgb(0,0,141)"/><path d="M381.5 387.3L1034.57 84.15L1036.39 88.09z" fill="rgb(0,0,169)"/><path d="M381.5 387.3L1036.15 87.58L1037.94 91.53z" fill="rgb(0,0,159)"/><path d="M381.5 387.3L1037.71 91.01L1039.48 94.97z" fill="rgb(0,0,43)"/><path d="M381.5 387.3L1039.25 94.45L1041 98.42z" fill="rgb(0,0,157)"/><path d="M381.5 387.3L1040.78 97.9L1042.51 101.87z" fill="rgb(0,0,100)"/><path d="M381.5 387.3L1042.28 101.35L1043.99 105.34z" fill="rgb(0,0,97)"/><path d="M381.5 387.3L1043.77 104.82L1045.46 108.81z" fill="rgb(0,0,110)"/><path d="M381.5 387.3L1045.24 108.29L1046.91 112.29z" fill="rgb(0,0,159)"/><path d="M381.5 387.3L1046.69 111.77L1048.34 115.78z" fill="rgb(0,0,164)"/><path d="M381.5 387.3L1048.13 115.25L1049.75 119.27z" fill="rgb(0,0,169)"/><path d="M381.5 387.3L1049.54 118.75L1051.15 122.78z" fill="rgb(0,0,60)"/><path d="M381.5 387.3L1050.94 122.25L1052.52 126.29z" fill="rgb(0,0,103)"/><path d="M381.5 387.3L1052.32 125.76L1053.88 129.8z" fill="rgb(0,0,31)"/><path d="M381.5 387.3L1053.68 129.28L1055.22 133.33z" fill="rgb(0,0,123)"/><path d="M381.5 387.3L1055.02 132.8L1056.54 136.86z" fill="rgb(0,0,152)"/><path d="M381.5 387.3L1056.34 136.33L1057.84 140.4z" fill="rgb(0,0,96)"/><path d="M381.5 387.3L1057.65 139.87L1059.13 143.94z" fill="rgb(0,0,137)"/><path d="M381.5 387.3L1058.93 143.41L1060.39 147.49z" fill="rgb(0,0,137)"/><path d="M381.5 387.3L1060.2 146.96L1061.64 151.05z" fill="rgb(0,0,169)"/><path d="M381.5 387.3L1061.45 150.52L1062.86 154.61z" fill="rgb(0,0,94)"/><path d="M381.5 387.3L1062.68 154.08L1064.07 158.19z" fill="rgb(0,0,94)"/><path d="M381.5 387.3L1063.89 157.65L1065.26 161.76z" fill="rgb(0,0,96)"/><path d="M381.5 387.3L1065.09 161.23L1066.44 165.35z" fill="rgb(0,0,199)"/><path d="M381.5 387.3L1066.26 164.81L1067.59 168.93z" fill="rgb(0,0,172)"/><path d="M381.5 387.3L1067.42 168.4L1068.72 172.53z" fill="rgb(0,0,122)"/><path d="M381.5 387.3L1068.55 171.99L1069.84 176.13z" fill="rgb(0,0,137)"/><path d="M381.5 387.3L1069.67 175.59L1070.93 179.74z" fill="rgb(0,0,132)"/><path d="M381.5 387.3L1070.77 179.2L1072.01 183.35z" fill="rgb(0,0,136)"/><path d="M381.5 387.3L1071.85 182.81L1073.07 186.97z" fill="rgb(0,0,119)"/><path d="M381.5 387.3L1072.91 186.43L1074.11 190.59z" fill="rgb(0,0,114)"/><path d="M381.5 387.3L1073.95 190.05L1075.13 194.22z" fill="rgb(0,0,76)"/><path d="M381.5 387.3L1074.98 193.68L1076.13 197.86z" fill="rgb(0,0,101)"/><path d="M381.5 387.3L1075.98 197.31L1077.11 201.5z" fill="rgb(0,0,195)"/><path d="M381.5 387.3L1076.97 200.95L1078.08 205.14z" fill="rgb(0,0,149)"/><path d="M381.5 387.3L1077.93 204.59L1079.02 208.79z" fill="rgb(0,0,130)"/><path d="M381.5 387.3L1078.88 208.24L1079.95 212.45z" fill="rgb(0,0,119)"/><path d="M381.5 387.3L1079.81 211.9L1080.85 216.11z" fill="rgb(0,0,130)"/><path d="M381.5 387.3L1080.72 215.56L1081.74 219.77z" fill="rgb(0,0,142)"/><path d="M381.5 387.3L1081.61 219.22L1082.61 223.44z" fill="rgb(0,0,101)"/><path d="M381.5 387.3L1082.48 222.89L1083.45 227.11z" fill="rgb(0,0,136)"/><path d="M381.5 387.3L1083.33 226.56L1084.28 230.79z" fill="rgb(0,0,137)"/><path d="M381.5 387.3L1084.16 230.24L1085.09 234.47z" fill="rgb(0,0,97)"/><path d="M381.5 387.3L1084.97 233.92L1085.88 238.16z" fill="rgb(0,0,95)"/><path d="M381.5 387.3L1085.77 237.6L1086.65 241.85z" fill="rgb(0,0,87)"/><path d="M381.5 387.3L1086.54 241.29L1087.41 245.54z" fill="rgb(0,0,84)"/><path d="M381.5 387.3L1087.3 244.99L1088.14 249.24z" fill="rgb(0,0,164)"/><path d="M381.5 387.3L1088.03 248.68L1088.85 252.94z" fill="rgb(0,0,31)"/><path d="M381.5 387.3L1088.75 252.39L1089.55 256.65z" fill="rgb(0,0,117)"/><path d="M381.5 387.3L1089.44 256.09L1090.22 260.36z" fill="rgb(0,0,103)"/><path d="M381.5 387.3L1090.12 259.8L1090.88 264.07z" fill="rgb(0,0,102)"/><path d="M381.5 387.3L1090.78 263.51L1091.51 267.78z" fill="rgb(0,0,131)"/><path d="M381.5 387.3L1091.42 267.23L1092.13 271.5z" fill="rgb(0,0,174)"/><path d="M381.5 387.3L1092.04 270.95L1092.72 275.23z" fill="rgb(0,0,131)"/><path d="M381.5 387.3L1092.64 274.67L1093.3 278.95z" fill="rgb(0,0,122)"/><path d="M381.5 387.3L1093.22 278.39L1093.86 282.68z" fill="rgb(0,0,103)"/><path d="M381.5 387.3L1093.78 282.12L1094.4 286.41z" fill="rgb(0,0,122)"/><path d="M381.5 387.3L1094.32 285.85L1094.91 290.15z" fill="rgb(0,0,165)"/><path d="M381.5 387.3L1094.84 289.58L1095.41 293.88z" fill="rgb(0,0,111)"/><path d="M381.5 387.3L1095.34 293.32L1095.89 297.62z" fill="rgb(0,0,81)"/><path d="M381.5 387.3L1095.82 297.06L1096.35 301.36z" fill="rgb(0,0,76)"/><path d="M381.5 387.3L1096.29 300.8L1096.79 305.11z" fill="rgb(0,0,82)"/><path d="M381.5 387.3L1096.73 304.55L1097.21 308.85z" fill="rgb(0,0,71)"/><path d="M381.5 387.3L1097.15 308.29L1097.61 312.6z" fill="rgb(0,0,172)"/><path d="M381.5 387.3L1097.56 312.04L1098 316.35z" fill="rgb(0,0,142)"/><path d="M381.5 387.3L1097.94 315.79L1098.36 320.11z" fill="rgb(0,0,118)"/><path d="M381.5 387.3L1098.3 319.54L1098.7 323.86z" fill="rgb(0,0,187)"/><path d="M381.5 387.3L1098.65 323.3L1099.02 327.62z" fill="rgb(0,0,101)"/><path d="M381.5 387.3L1098.97 327.05L1099.32 331.37z" fill="rgb(0,0,158)"/><path d="M381.5 387.3L1099.28 330.81L1099.61 335.13z" fill="rgb(0,0,160)"/><path d="M381.5 387.3L1099.57 334.57L1099.87 338.89z" fill="rgb(0,0,64)"/><path d="M381.5 387.3L1099.83 338.33L1100.11 342.66z" fill="rgb(0,0,64)"/><path d="M381.5 387.3L1100.08 342.09L1100.34 346.42z" fill="rgb(0,0,90)"/><path d="M381.5 387.3L1100.31 345.85L1100.54 350.18z" fill="rgb(0,0,164)"/><path d="M381.5 387.3L1100.51 349.62L1100.73 353.95z" fill="rgb(0,0,180)"/><path d="M381.5 387.3L1100.7 353.38L1100.89 357.71z" fill="rgb(0,0,77)"/><path d="M381.5 387.3L1100.87 357.15L1101.04 361.48z" fill="rgb(0,0,170)"/><path d="M381.5 387.3L1101.02 360.92L1101.16 365.25z" fill="rgb(0,0,112)"/><path d="M381.5 387.3L1101.14 364.68L1101.27 369.02z" fill="rgb(0,0,111)"/><path d="M381.5 387.3L1101.25 368.45L1101.35 372.79z" fill="rgb(0,0,105)"/><path d="M381.5 387.3L1101.34 372.22L1101.42 376.56z" fill="rgb(0,0,114)"/><path d="M381.5 387.3L1101.41 375.99L1101.47 380.33z" fill="rgb(0,0,53)"/><path d="M381.5 387.3L1101.46 379.76L1101.49 384.1z" fill="rgb(0,0,87)"/><path d="M381.5 387.3L1101.49 383.53L1101.5 387.87z" fill="rgb(0,0,77)"/><path d="M381.5 387.3L1101.5 387.3L1101.49 391.64z" fill="rgb(0,0,148)"/><path d="M381.5 387.3L1101.49 391.07L1101.45 395.41z" fill="rgb(0,0,213)"/><path d="M381.5 387.3L1101.46 394.84L1101.4 399.17z" fill="rgb(0,0,239)"/><path d="M381.5 387.3L1101.41 398.61L1101.33 402.94z" fill="rgb(0,0,114)"/><path d="M381.5 387.3L1101.34 402.38L1101.24 406.71z" fill="rgb(0,0,57)"/><path d="M381.5 387.3L1101.25 406.15L1101.13 410.48z" fill="rgb(0,0,111)"/><path d="M381.5 387.3L1101.14 409.92L1101 414.25z" fill="rgb(0,0,89)"/><path d="M381.5 387.3L1101.02 413.68L1100.84 418.02z" fill="rgb(0,0,208)"/><path d="M381.5 387.3L1100.87 417.45L1100.67 421.78z" fill="rgb(0,0,151)"/><path d="M381.5 387.3L1100.7 421.22L1100.48 425.55z" fill="rgb(0,0,98)"/><path d="M381.5 387.3L1100.51 424.98L1100.27 429.31z" fill="rgb(0,0,166)"/><path d="M381.5 387.3L1100.31 428.75L1100.04 433.07z" fill="rgb(0,0,149)"/><path d="M381.5 387.3L1100.08 432.51L1099.79 436.84z" fill="rgb(0,0,61)"/><path d="M381.5 387.3L1099.83 436.27L1099.52 440.6z" fill="rgb(0,0,106)"/><path d="M381.5 387.3L1099.57 440.03L1099.24 444.35z" fill="rgb(0,0,118)"/><path d="M381.5 387.3L1099.28 443.79L1098.93 448.11z" fill="rgb(0,0,128)"/><path d="M381.5 387.3L1098.97 447.55L1098.6 451.87z" fill="rgb(0,0,133)"/><path d="M381.5 387.3L1098.65 451.3L1098.25 455.62z" fill="rgb(0,0,114)"/><path d="M381.5 387.3L1098.3 455.06L1097.88 459.37z" fill="rgb(0,0,135)"/><path d="M381.5 387.3L1097.94 458.81L1097.5 463.12z" fill="rgb(0,0,104)"/><path d="M381.5 387.3L1097.56 462.56L1097.09 466.87z" fill="rgb(0,0,91)"/><path d="M381.5 387.3L1097.15 466.31L1096.66 470.62z" fill="rgb(0,0,189)"/><path d="M381.5 387.3L1096.73 470.05L1096.22 474.36z" fill="rgb(0,0,142)"/><path d="M381.5 387.3L1096.29 473.8L1095.75 478.1z" fill="rgb(0,0,145)"/><path d="M381.5 387.3L1095.82 477.54L1095.27 481.84z" fill="rgb(0,0,62)"/><path d="M381.5 387.3L1095.34 481.28L1094.76 485.58z" fill="rgb(0,0,121)"/><path d="M381.5 387.3L1094.84 485.02L1094.24 489.31z" fill="rgb(0,0,161)"/><path d="M381.5 387.3L1094.32 488.75L1093.69 493.04z" fill="rgb(0,0,75)"/><path d="M381.5 387.3L1093.78 492.48L1093.13 496.77z" fill="rgb(0,0,172)"/><path d="M381.5 387.3L1093.22 496.21L1092.55 500.49z" fill="rgb(0,0,112)"/><path d="M381.5 387.3L1092.64 499.93L1091.94 504.21z" fill="rgb(0,0,144)"/><path d="M381.5 387.3L1092.04 503.65L1091.32 507.93z" fill="rgb(0,0,122)"/><path d="M381.5 387.3L1091.42 507.37L1090.68 511.65z" fill="rgb(0,0,136)"/><path d="M381.5 387.3L1090.78 511.09L1090.02 515.36z" fill="rgb(0,0,177)"/><path d="M381.5 387.3L1090.12 514.8L1089.34 519.07z" fill="rgb(0,0,111)"/><path d="M381.5 387.3L1089.44 518.51L1088.64 522.77z" fill="rgb(0,0,191)"/><path d="M381.5 387.3L1088.75 522.21L1087.92 526.47z" fill="rgb(0,0,96)"/><path d="M381.5 387.3L1088.03 525.92L1087.18 530.17z" fill="rgb(0,0,89)"/><path d="M381.5 387.3L1087.3 529.61L1086.43 533.86z" fill="rgb(0,0,157)"/><path d="M381.5 387.3L1086.54 533.31L1085.65 537.55z" fill="rgb(0,0,84)"/><path d="M381.5 387.3L1085.77 537L1084.85 541.23z" fill="rgb(0,0,112)"/><path d="M381.5 387.3L1084.97 540.68L1084.04 544.91z" fill="rgb(0,0,165)"/><path d="M381.5 387.3L1084.16 544.36L1083.2 548.59z" fill="rgb(0,0,177)"/><path d="M381.5 387.3L1083.33 548.04L1082.35 552.26z" fill="rgb(0,0,55)"/><path d="M381.5 387.3L1082.48 551.71L1081.47 555.93z" fill="rgb(0,0,148)"/><path d="M381.5 387.3L1081.61 555.38L1080.58 559.59z" fill="rgb(0,0,204)"/><path d="M381.5 387.3L1080.72 559.04L1079.67 563.25z" fill="rgb(0,0,176)"/><path d="M381.5 387.3L1079.81 562.7L1078.74 566.9z" fill="rgb(0,0,118)"/><path d="M381.5 387.3L1078.88 566.36L1077.79 570.55z" fill="rgb(0,0,103)"/><path d="M381.5 387.3L1077.93 570.01L1076.82 574.2z" fill="rgb(0,0,115)"/><path d="M381.5 387.3L1076.97 573.65L1075.83 577.83z" fill="rgb(0,0,80)"/><path d="M381.5 387.3L1075.98 577.29L1074.82 581.47z" fill="rgb(0,0,117)"/><path d="M381.5 387.3L1074.98 580.92L1073.8 585.09z" fill="rgb(0,0,120)"/><path d="M381.5 387.3L1073.95 584.55L1072.75 588.72z" fill="rgb(0,0,122)"/><path d="M381.5 387.3L1072.91 588.17L1071.69 592.33z" fill="rgb(0,0,176)"/><path d="M381.5 387.3L1071.85 591.79L1070.61 595.94z" fill="rgb(0,0,118)"/><path d="M381.5 387.3L1070.77 595.4L1069.5 599.55z" fill="rgb(0,0,68)"/><path d="M381.5 387.3L1069.67 599.01L1068.38 603.15z" fill="rgb(0,0,170)"/><path d="M381.5 387.3L1068.55 602.61L1067.24 606.74z" fill="rgb(0,0,84)"/><path d="M381.5 387.3L1067.42 606.2L1066.09 610.33z" fill="rgb(0,0,109)"/><path d="M381.5 387.3L1066.26 609.79L1064.91 613.91z" fill="rgb(0,0,122)"/><path d="M381.5 387.3L1065.09 613.37L1063.71 617.49z" fill="rgb(0,0,113)"/><path d="M381.5 387.3L1063.89 616.95L1062.5 621.06z" fill="rgb(0,0,87)"/><path d="M381.5 387.3L1062.68 620.52L1061.26 624.62z" fill="rgb(0,0,117)"/><path d="M381.5 387.3L1061.45 624.08L1060.01 628.17z" fill="rgb(0,0,217)"/><path d="M381.5 387.3L1060.2 627.64L1058.74 631.72z" fill="rgb(0,0,103)"/><path d="M381.5 387.3L1058.93 631.19L1057.45 635.27z" fill="rgb(0,0,122)"/><path d="M381.5 387.3L1057.65 634.73L1056.15 638.8z" fill="rgb(0,0,173)"/><path d="M381.5 387.3L1056.34 638.27L1054.82 642.33z" fill="rgb(0,0,158)"/><path d="M381.5 387.3L1055.02 641.8L1053.48 645.85z" fill="rgb(0,0,159)"/><path d="M381.5 387.3L1053.68 645.32L1052.11 649.37z" fill="rgb(0,0,163)"/><path d="M381.5 387.3L1052.32 648.84L1050.73 652.88z" fill="rgb(0,0,47)"/><path d="M381.5 387.3L1050.94 652.35L1049.33 656.38z" fill="rgb(0,0,92)"/><path d="M381.5 387.3L1049.54 655.85L1047.91 659.87z" fill="rgb(0,0,133)"/><path d="M381.5 387.3L1048.13 659.35L1046.48 663.35z" fill="rgb(0,0,148)"/><path d="M381.5 387.3L1046.69 662.83L1045.02 666.83z" fill="rgb(0,0,180)"/><path d="M381.5 387.3L1045.24 666.31L1043.55 670.3z" fill="rgb(0,0,147)"/><path d="M381.5 387.3L1043.77 669.78L1042.06 673.77z" fill="rgb(0,0,118)"/><path d="M381.5 387.3L1042.28 673.25L1040.55 677.22z" fill="rgb(0,0,129)"/><path d="M381.5 387.3L1040.78 676.7L1039.02 680.67z" fill="rgb(0,0,119)"/><path d="M381.5 387.3L1039.25 680.15L1037.48 684.11z" fill="rgb(0,0,138)"/><path d="M381.5 387.3L1037.71 683.59L1035.91 687.54z" fill="rgb(0,0,155)"/><path d="M381.5 387.3L1036.15 687.02L1034.33 690.96z" fill="rgb(0,0,114)"/><path d="M381.5 387.3L1034.57 690.45L1032.73 694.37z" fill="rgb(0,0,94)"/><path d="M381.5 387.3L1032.98 693.86L1031.12 697.78z" fill="rgb(0,0,93)"/><path d="M381.5 387.3L1031.36 697.27L1029.48 701.18z" fill="rgb(0,0,172)"/><path d="M381.5 387.3L1029.73 700.67L1027.83 704.56z" fill="rgb(0,0,180)"/><path d="M381.5 387.3L1028.08 704.06L1026.16 707.94z" fill="rgb(0,0,168)"/><path d="M381.5 387.3L1026.41 707.44L1024.47 711.31z" fill="rgb(0,0,162)"/><path d="M381.5 387.3L1024.73 710.81L1022.77 714.68z" fill="rgb(0,0,161)"/><path d="M381.5 387.3L1023.02 714.17L1021.04 718.03z" fill="rgb(0,0,127)"/><path d="M381.5 387.3L1021.3 717.53L1019.3 721.37z" fill="rgb(0,0,155)"/><path d="M381.5 387.3L1019.57 720.87L1017.55 724.71z" fill="rgb(0,0,85)"/><path d="M381.5 387.3L1017.81 724.21L1015.77 728.03z" fill="rgb(0,0,119)"/><path d="M381.5 387.3L1016.04 727.54L1013.98 731.35z" fill="rgb(0,0,98)"/><path d="M381.5 387.3L1014.25 730.85L1012.17 734.66z" fill="rgb(0,0,157)"/><path d="M381.5 387.3L1012.44 734.16L1010.34 737.96z" fill="rgb(0,0,104)"/><path d="M381.5 387.3L1010.62 737.46L1008.5 741.24z" fill="rgb(0,0,123)"/><path d="M381.5 387.3L1008.77 740.75L1006.63 744.52z" fill="rgb(0,0,144)"/><path d="M381.5 387.3L1006.91 744.03L1004.76 747.79z" fill="rgb(0,0,183)"/><path d="M381.5 387.3L1005.04 747.3L1002.86 751.05z" fill="rgb(0,0,95)"/><path d="M381.5 387.3L1003.14 750.56L1000.95 754.3z" fill="rgb(0,0,89)"/><path d="M381.5 387.3L1001.23 753.81L999.02 757.53z" fill="rgb(0,0,161)"/><path d="M381.5 387.3L999.31 757.05L997.07 760.76z" fill="rgb(0,0,82)"/><path d="M381.5 387.3L997.36 760.28L995.11 763.98z" fill="rgb(0,0,146)"/><path d="M381.5 387.3L995.4 763.5L993.12 767.19z" fill="rgb(0,0,104)"/><path d="M381.5 387.3L993.42 766.71L991.13 770.39z" fill="rgb(0,0,123)"/><path d="M381.5 387.3L991.43 769.91L989.11 773.57z" fill="rgb(0,0,53)"/><path d="M381.5 387.3L989.42 773.1L987.08 776.75z" fill="rgb(0,0,157)"/><path d="M381.5 387.3L987.39 776.27L985.03 779.91z" fill="rgb(0,0,107)"/><path d="M381.5 387.3L985.34 779.44L982.97 783.07z" fill="rgb(0,0,91)"/><path d="M381.5 387.3L983.28 782.6L980.89 786.21z" fill="rgb(0,0,212)"/><path d="M381.5 387.3L981.2 785.74L978.79 789.35z" fill="rgb(0,0,157)"/><path d="M381.5 387.3L979.11 788.88L976.68 792.47z" fill="rgb(0,0,255)"/><path d="M381.5 387.3L977 792L974.55 795.58z" fill="rgb(0,0,144)"/><path d="M381.5 387.3L974.87 795.11L972.4 798.68z" fill="rgb(0,0,113)"/><path d="M381.5 387.3L972.73 798.21L970.24 801.77z" fill="rgb(0,0,132)"/><path d="M381.5 387.3L970.57 801.3L968.06 804.84z" fill="rgb(0,0,193)"/><path d="M381.5 387.3L968.39 804.38L965.87 807.91z" fill="rgb(0,0,126)"/><path d="M381.5 387.3L966.2 807.45L963.66 810.96z" fill="rgb(0,0,146)"/><path d="M381.5 387.3L963.99 810.51L961.43 814.01z" fill="rgb(0,0,149)"/><path d="M381.5 387.3L961.77 813.55L959.19 817.04z" fill="rgb(0,0,90)"/><path d="M381.5 387.3L959.53 816.58L956.93 820.05z" fill="rgb(0,0,133)"/><path d="M381.5 387.3L957.27 819.6L954.66 823.06z" fill="rgb(0,0,107)"/><path d="M381.5 387.3L955 822.61L952.37 826.06z" fill="rgb(0,0,77)"/><path d="M381.5 387.3L952.71 825.61L950.06 829.04z" fill="rgb(0,0,163)"/><path d="M381.5 387.3L950.41 828.59L947.74 832.01z" fill="rgb(0,0,155)"/><path d="M381.5 387.3L948.09 831.57L945.41 834.97z" fill="rgb(0,0,131)"/><path d="M381.5 387.3L945.76 834.53L943.06 837.92z" fill="rgb(0,0,90)"/><path d="M381.5 387.3L943.41 837.47L940.69 840.85z" fill="rgb(0,0,46)"/><path d="M381.5 387.3L941.05 840.41L938.31 843.77z" fill="rgb(0,0,147)"/><path d="M381.5 387.3L938.66 843.33L935.91 846.68z" fill="rgb(0,0,124)"/><path d="M381.5 387.3L936.27 846.25L933.5 849.58z" fill="rgb(0,0,59)"/><path d="M381.5 387.3L933.86 849.14L931.07 852.46z" fill="rgb(0,0,125)"/><path d="M381.5 387.3L931.43 852.03L928.62 855.33z" fill="rgb(0,0,65)"/><path d="M381.5 387.3L928.99 854.9L926.17 858.19z" fill="rgb(0,0,126)"/><path d="M381.5 387.3L926.54 857.76L923.69 861.04z" fill="rgb(0,0,133)"/><path d="M381.5 387.3L924.07 860.61L921.21 863.87z" fill="rgb(0,0,142)"/><path d="M381.5 387.3L921.58 863.44L918.7 866.69z" fill="rgb(0,0,136)"/><path d="M381.5 387.3L919.08 866.27L916.19 869.49z" fill="rgb(0,0,134)"/><path d="M381.5 387.3L916.56 869.07L913.65 872.29z" fill="rgb(0,0,81)"/><path d="M381.5 387.3L914.03 871.87L911.11 875.07z" fill="rgb(0,0,112)"/><path d="M381.5 387.3L911.49 874.65L908.55 877.83z" fill="rgb(0,0,107)"/><path d="M381.5 387.3L908.93 877.42L905.97 880.59z" fill="rgb(0,0,118)"/><path d="M381.5 387.3L906.36 880.17L903.38 883.33z" fill="rgb(0,0,139)"/><path d="M381.5 387.3L903.77 882.92L900.78 886.05z" fill="rgb(0,0,153)"/><path d="M381.5 387.3L901.17 885.64L898.16 888.76z" fill="rgb(0,0,194)"/><path d="M381.5 387.3L898.55 888.36L895.52 891.46z" fill="rgb(0,0,23)"/><path d="M381.5 387.3L895.92 891.06L892.88 894.15z" fill="rgb(0,0,144)"/><path d="M381.5 387.3L893.28 893.74L890.22 896.82z" fill="rgb(0,0,119)"/><path d="M381.5 387.3L890.62 896.42L887.54 899.47z" fill="rgb(0,0,220)"/><path d="M381.5 387.3L887.94 899.08L884.85 902.12z" fill="rgb(0,0,166)"/><path d="M381.5 387.3L885.26 901.72L882.15 904.74z" fill="rgb(0,0,60)"/><path d="M381.5 387.3L882.56 904.35L879.43 907.36z" fill="rgb(0,0,144)"/><path d="M381.5 387.3L879.84 906.97L876.7 909.96z" fill="rgb(0,0,106)"/><path d="M381.5 387.3L877.12 909.57L873.96 912.54z" fill="rgb(0,0,168)"/><path d="M381.5 387.3L874.37 912.16L871.2 915.12z" fill="rgb(0,0,84)"/><path d="M381.5 387.3L871.62 914.73L868.43 917.67z" fill="rgb(0,0,123)"/><path d="M381.5 387.3L868.85 917.29L865.65 920.21z" fill="rgb(0,0,122)"/><path d="M381.5 387.3L866.07 919.83L862.85 922.74z" fill="rgb(0,0,124)"/><path d="M381.5 387.3L863.27 922.36L860.04 925.26z" fill="rgb(0,0,104)"/><path d="M381.5 387.3L860.47 924.88L857.22 927.75z" fill="rgb(0,0,53)"/><path d="M381.5 387.3L857.64 927.38L854.38 930.24z" fill="rgb(0,0,146)"/><path d="M381.5 387.3L854.81 929.87L851.53 932.71z" fill="rgb(0,0,168)"/><path d="M381.5 387.3L851.96 932.34L848.67 935.16z" fill="rgb(0,0,125)"/><path d="M381.5 387.3L849.1 934.79L845.8 937.6z" fill="rgb(0,0,86)"/><path d="M381.5 387.3L846.23 937.23L842.91 940.02z" fill="rgb(0,0,136)"/><path d="M381.5 387.3L843.34 939.66L840.01 942.43z" fill="rgb(0,0,151)"/><path d="M381.5 387.3L840.45 942.07L837.1 944.82z" fill="rgb(0,0,120)"/><path d="M381.5 387.3L837.53 944.46L834.17 947.2z" fill="rgb(0,0,127)"/><path d="M381.5 387.3L834.61 946.85L831.23 949.56z" fill="rgb(0,0,185)"/><path d="M381.5 387.3L831.67 949.21L828.28 951.91z" fill="rgb(0,0,82)"/><path d="M381.5 387.3L828.73 951.56L825.32 954.24z" fill="rgb(0,0,105)"/><path d="M381.5 387.3L825.77 953.89L822.35 956.56z" fill="rgb(0,0,50)"/><path d="M381.5 387.3L822.79 956.21L819.36 958.86z" fill="rgb(0,0,99)"/><path d="M381.5 387.3L819.81 958.51L816.36 961.14z" fill="rgb(0,0,97)"/><path d="M381.5 387.3L816.81 960.8L813.35 963.41z" fill="rgb(0,0,88)"/><path d="M381.5 387.3L813.8 963.07L810.33 965.67z" fill="rgb(0,0,99)"/><path d="M381.5 387.3L810.78 965.33L807.29 967.9z" fill="rgb(0,0,201)"/><path d="M381.5 387.3L807.75 967.57L804.25 970.12z" fill="rgb(0,0,119)"/><path d="M381.5 387.3L804.71 969.79L801.19 972.33z" fill="rgb(0,0,123)"/><path d="M381.5 387.3L801.65 972L798.12 974.52z" fill="rgb(0,0,217)"/><path d="M381.5 387.3L798.58 974.19L795.04 976.69z" fill="rgb(0,0,125)"/><path d="M381.5 387.3L795.5 976.37L791.95 978.85z" fill="rgb(0,0,57)"/><path d="M381.5 387.3L792.41 978.53L788.85 980.99z" fill="rgb(0,0,144)"/><path d="M381.5 387.3L789.31 980.67L785.73 983.12z" fill="rgb(0,0,89)"/><path d="M381.5 387.3L786.2 982.8L782.61 985.22z" fill="rgb(0,0,194)"/><path d="M381.5 387.3L783.08 984.91L779.47 987.32z" fill="rgb(0,0,77)"/><path d="M381.5 387.3L779.94 987L776.32 989.39z" fill="rgb(0,0,104)"/><path d="M381.5 387.3L776.8 989.08L773.17 991.45z" fill="rgb(0,0,62)"/><path d="M381.5 387.3L773.64 991.14L770 993.49z" fill="rgb(0,0,131)"/><path d="M381.5 387.3L770.47 993.19L766.82 995.52z" fill="rgb(0,0,86)"/><path d="M381.5 387.3L767.3 995.22L763.63 997.53z" fill="rgb(0,0,125)"/><path d="M381.5 387.3L764.11 997.23L760.43 999.52z" fill="rgb(0,0,112)"/><path d="M381.5 387.3L760.91 999.22L757.22 1001.5z" fill="rgb(0,0,102)"/><path d="M381.5 387.3L757.7 1001.2L754 1003.46z" fill="rgb(0,0,166)"/><path d="M381.5 387.3L754.48 1003.16L750.76 1005.4z" fill="rgb(0,0,166)"/><path d="M381.5 387.3L751.25 1005.11L747.52 1007.32z" fill="rgb(0,0,130)"/><path d="M381.5 387.3L748.01 1007.03L744.27 1009.23z" fill="rgb(0,0,91)"/><path d="M381.5 387.3L744.76 1008.94L741.01 1011.12z" fill="rgb(0,0,84)"/><path d="M381.5 387.3L741.5 1010.84L737.74 1012.99z" fill="rgb(0,0,139)"/><path d="M381.5 387.3L738.23 1012.71L734.46 1014.85z" fill="rgb(0,0,225)"/><path d="M381.5 387.3L734.95 1014.57L731.17 1016.69z" fill="rgb(0,0,109)"/><path d="M381.5 387.3L731.66 1016.42L727.87 1018.51z" fill="rgb(0,0,95)"/><path d="M381.5 387.3L728.36 1018.24L724.56 1020.32z" fill="rgb(0,0,99)"/><path d="M381.5 387.3L725.05 1020.05L721.24 1022.11z" fill="rgb(0,0,83)"/><path d="M381.5 387.3L721.74 1021.84L717.91 1023.88z" fill="rgb(0,0,88)"/><path d="M381.5 387.3L718.41 1023.61L714.57 1025.63z" fill="rgb(0,0,119)"/><path d="M381.5 387.3L715.07 1025.37L711.23 1027.36z" fill="rgb(0,0,186)"/><path d="M381.5 387.3L711.73 1027.1L707.87 1029.08z" fill="rgb(0,0,127)"/><path d="M381.5 387.3L708.37 1028.82L704.5 1030.78z" fill="rgb(0,0,107)"/><path d="M381.5 387.3L705.01 1030.53L701.13 1032.46z" fill="rgb(0,0,62)"/><path d="M381.5 387.3L701.64 1032.21L697.75 1034.13z" fill="rgb(0,0,136)"/><path d="M381.5 387.3L698.26 1033.88L694.36 1035.78z" fill="rgb(0,0,126)"/><path d="M381.5 387.3L694.87 1035.53L690.96 1037.4z" fill="rgb(0,0,77)"/><path d="M381.5 387.3L691.47 1037.16L687.55 1039.02z" fill="rgb(0,0,83)"/><path d="M381.5 387.3L688.06 1038.78L684.13 1040.61z" fill="rgb(0,0,126)"/><path d="M381.5 387.3L684.65 1040.37L680.71 1042.19z" fill="rgb(0,0,169)"/><path d="M381.5 387.3L681.22 1041.95L677.27 1043.74z" fill="rgb(0,0,153)"/><path d="M381.5 387.3L677.79 1043.51L673.83 1045.28z" fill="rgb(0,0,136)"/><path d="M381.5 387.3L674.35 1045.05L670.38 1046.8z" fill="rgb(0,0,114)"/><path d="M381.5 387.3L670.9 1046.58L666.93 1048.31z" fill="rgb(0,0,141)"/><path d="M381.5 387.3L667.45 1048.08L663.46 1049.79z" fill="rgb(0,0,127)"/><path d="M381.5 387.3L663.98 1049.57L659.99 1051.26z" fill="rgb(0,0,216)"/><path d="M381.5 387.3L660.51 1051.04L656.51 1052.71z" fill="rgb(0,0,81)"/><path d="M381.5 387.3L657.03 1052.49L653.02 1054.14z" fill="rgb(0,0,112)"/><path d="M381.5 387.3L653.55 1053.93L649.53 1055.55z" fill="rgb(0,0,179)"/><path d="M381.5 387.3L650.05 1055.34L646.02 1056.95z" fill="rgb(0,0,117)"/><path d="M381.5 387.3L646.55 1056.74L642.51 1058.32z" fill="rgb(0,0,186)"/><path d="M381.5 387.3L643.04 1058.12L639 1059.68z" fill="rgb(0,0,126)"/><path d="M381.5 387.3L639.52 1059.48L635.47 1061.02z" fill="rgb(0,0,133)"/><path d="M381.5 387.3L636 1060.82L631.94 1062.34z" fill="rgb(0,0,112)"/><path d="M381.5 387.3L632.47 1062.14L628.4 1063.64z" fill="rgb(0,0,71)"/><path d="M381.5 387.3L628.93 1063.45L624.86 1064.93z" fill="rgb(0,0,88)"/><path d="M381.5 387.3L625.39 1064.73L621.31 1066.19z" fill="rgb(0,0,218)"/><path d="M381.5 387.3L621.84 1066L617.75 1067.44z" fill="rgb(0,0,154)"/><path d="M381.5 387.3L618.28 1067.25L614.19 1068.66z" fill="rgb(0,0,152)"/><path d="M381.5 387.3L614.72 1068.48L610.61 1069.87z" fill="rgb(0,0,166)"/><path d="M381.5 387.3L611.15 1069.69L607.04 1071.06z" fill="rgb(0,0,151)"/><path d="M381.5 387.3L607.57 1070.89L603.45 1072.24z" fill="rgb(0,0,169)"/><path d="M381.5 387.3L603.99 1072.06L599.87 1073.39z" fill="rgb(0,0,117)"/><path d="M381.5 387.3L600.4 1073.22L596.27 1074.52z" fill="rgb(0,0,118)"/><path d="M381.5 387.3L596.81 1074.35L592.67 1075.64z" fill="rgb(0,0,168)"/><path d="M381.5 387.3L593.21 1075.47L589.06 1076.73z" fill="rgb(0,0,113)"/><path d="M381.5 387.3L589.6 1076.57L585.45 1077.81z" fill="rgb(0,0,73)"/><path d="M381.5 387.3L585.99 1077.65L581.83 1078.87z" fill="rgb(0,0,118)"/><path d="M381.5 387.3L582.37 1078.71L578.21 1079.91z" fill="rgb(0,0,105)"/><path d="M381.5 387.3L578.75 1079.75L574.58 1080.93z" fill="rgb(0,0,153)"/><path d="M381.5 387.3L575.12 1080.78L570.94 1081.93z" fill="rgb(0,0,98)"/><path d="M381.5 387.3L571.49 1081.78L567.3 1082.91z" fill="rgb(0,0,84)"/><path d="M381.5 387.3L567.85 1082.77L563.66 1083.88z" fill="rgb(0,0,114)"/><path d="M381.5 387.3L564.21 1083.73L560.01 1084.82z" fill="rgb(0,0,191)"/><path d="M381.5 387.3L560.56 1084.68L556.35 1085.75z" fill="rgb(0,0,126)"/><path d="M381.5 387.3L556.9 1085.61L552.69 1086.65z" fill="rgb(0,0,134)"/><path d="M381.5 387.3L553.24 1086.52L549.03 1087.54z" fill="rgb(0,0,128)"/><path d="M381.5 387.3L549.58 1087.41L545.36 1088.41z" fill="rgb(0,0,140)"/><path d="M381.5 387.3L545.91 1088.28L541.69 1089.25z" fill="rgb(0,0,165)"/><path d="M381.5 387.3L542.24 1089.13L538.01 1090.08z" fill="rgb(0,0,184)"/><path d="M381.5 387.3L538.56 1089.96L534.33 1090.89z" fill="rgb(0,0,60)"/><path d="M381.5 387.3L534.88 1090.77L530.64 1091.68z" fill="rgb(0,0,183)"/><path d="M381.5 387.3L531.2 1091.57L526.95 1092.45z" fill="rgb(0,0,127)"/><path d="M381.5 387.3L527.51 1092.34L523.26 1093.21z" fill="rgb(0,0,114)"/><path d="M381.5 387.3L523.81 1093.1L519.56 1093.94z" fill="rgb(0,0,225)"/><path d="M381.5 387.3L520.12 1093.83L515.86 1094.65z" fill="rgb(0,0,121)"/><path d="M381.5 387.3L516.41 1094.55L512.15 1095.35z" fill="rgb(0,0,207)"/><path d="M381.5 387.3L512.71 1095.24L508.44 1096.02z" fill="rgb(0,0,167)"/><path d="M381.5 387.3L509 1095.92L504.73 1096.68z" fill="rgb(0,0,85)"/><path d="M381.5 387.3L505.29 1096.58L501.02 1097.31z" fill="rgb(0,0,147)"/><path d="M381.5 387.3L501.57 1097.22L497.3 1097.93z" fill="rgb(0,0,158)"/><path d="M381.5 387.3L497.85 1097.84L493.57 1098.52z" fill="rgb(0,0,122)"/><path d="M381.5 387.3L494.13 1098.44L489.85 1099.1z" fill="rgb(0,0,33)"/><path d="M381.5 387.3L490.41 1099.02L486.12 1099.66z" fill="rgb(0,0,113)"/><path d="M381.5 387.3L486.68 1099.58L482.39 1100.2z" fill="rgb(0,0,120)"/><path d="M381.5 387.3L482.95 1100.12L478.65 1100.71z" fill="rgb(0,0,82)"/><path d="M381.5 387.3L479.22 1100.64L474.92 1101.21z" fill="rgb(0,0,202)"/><path d="M381.5 387.3L475.48 1101.14L471.18 1101.69z" fill="rgb(0,0,118)"/><path d="M381.5 387.3L471.74 1101.62L467.44 1102.15z" fill="rgb(0,0,111)"/><path d="M381.5 387.3L468 1102.09L463.69 1102.59z" fill="rgb(0,0,115)"/><path d="M381.5 387.3L464.25 1102.53L459.95 1103.01z" fill="rgb(0,0,96)"/><path d="M381.5 387.3L460.51 1102.95L456.2 1103.41z" fill="rgb(0,0,96)"/><path d="M381.5 387.3L456.76 1103.36L452.45 1103.8z" fill="rgb(0,0,131)"/><path d="M381.5 387.3L453.01 1103.74L448.69 1104.16z" fill="rgb(0,0,140)"/><path d="M381.5 387.3L449.26 1104.1L444.94 1104.5z" fill="rgb(0,0,107)"/><path d="M381.5 387.3L445.5 1104.45L441.18 1104.82z" fill="rgb(0,0,124)"/><path d="M381.5 387.3L441.75 1104.77L437.43 1105.12z" fill="rgb(0,0,71)"/><path d="M381.5 387.3L437.99 1105.08L433.67 1105.41z" fill="rgb(0,0,149)"/><path d="M381.5 387.3L434.23 1105.37L429.91 1105.67z" fill="rgb(0,0,97)"/><path d="M381.5 387.3L430.47 1105.63L426.14 1105.91z" fill="rgb(0,0,136)"/><path d="M381.5 387.3L426.71 1105.88L422.38 1106.14z" fill="rgb(0,0,91)"/><path d="M381.5 387.3L422.95 1106.11L418.62 1106.34z" fill="rgb(0,0,106)"/><path d="M381.5 387.3L419.18 1106.31L414.85 1106.53z" fill="rgb(0,0,136)"/><path d="M381.5 387.3L415.42 1106.5L411.09 1106.69z" fill="rgb(0,0,78)"/><path d="M381.5 387.3L411.65 1106.67L407.32 1106.84z" fill="rgb(0,0,228)"/><path d="M381.5 387.3L407.88 1106.82L403.55 1106.96z" fill="rgb(0,0,126)"/><path d="M381.5 387.3L404.12 1106.94L399.78 1107.07z" fill="rgb(0,0,125)"/><path d="M381.5 387.3L400.35 1107.05L396.01 1107.15z" fill="rgb(0,0,98)"/><path d="M381.5 387.3L396.58 1107.14L392.24 1107.22z" fill="rgb(0,0,193)"/><path d="M381.5 387.3L392.81 1107.21L388.47 1107.27z" fill="rgb(0,0,184)"/><path d="M381.5 387.3L389.04 1107.26L384.7 1107.29z" fill="rgb(0,0,140)"/><path d="M381.5 387.3L385.27 1107.29L380.93 1107.3z" fill="rgb(0,0,72)"/><path d="M381.5 387.3L381.5 1107.3L377.16 1107.29z" fill="rgb(0,0,107)"/><path d="M381.5 387.3L377.73 1107.29L373.39 1107.25z" fill="rgb(0,0,153)"/><path d="M381.5 387.3L373.96 1107.26L369.63 1107.2z" fill="rgb(0,0,107)"/><path d="M381.5 387.3L370.19 1107.21L365.86 1107.13z" fill="rgb(0,0,79)"/><path d="M381.5 387.3L366.42 1107.14L362.09 1107.04z" fill="rgb(0,0,79)"/><path d="M381.5 387.3L362.65 1107.05L358.32 1106.93z" fill="rgb(0,0,96)"/><path d="M381.5 387.3L358.88 1106.94L354.55 1106.8z" fill="rgb(0,0,128)"/><path d="M381.5 387.3L355.12 1106.82L350.78 1106.64z" fill="rgb(0,0,101)"/><path d="M381.5 387.3L351.35 1106.67L347.02 1106.47z" fill="rgb(0,0,128)"/><path d="M381.5 387.3L347.58 1106.5L343.25 1106.28z" fill="rgb(0,0,241)"/><path d="M381.5 387.3L343.82 1106.31L339.49 1106.07z" fill="rgb(0,0,200)"/><path d="M381.5 387.3L340.05 1106.11L335.73 1105.84z" fill="rgb(0,0,85)"/><path d="M381.5 387.3L336.29 1105.88L331.96 1105.59z" fill="rgb(0,0,142)"/><path d="M381.5 387.3L332.53 1105.63L328.2 1105.32z" fill="rgb(0,0,131)"/><path d="M381.5 387.3L328.77 1105.37L324.45 1105.04z" fill="rgb(0,0,122)"/><path d="M381.5 387.3L325.01 1105.08L320.69 1104.73z" fill="rgb(0,0,170)"/><path d="M381.5 387.3L321.25 1104.77L316.93 1104.4z" fill="rgb(0,0,114)"/><path d="M381.5 387.3L317.5 1104.45L313.18 1104.05z" fill="rgb(0,0,114)"/><path d="M381.5 387.3L313.74 1104.1L309.43 1103.68z" fill="rgb(0,0,112)"/><path d="M381.5 387.3L309.99 1103.74L305.68 1103.3z" fill="rgb(0,0,123)"/><path d="M381.5 387.3L306.24 1103.36L301.93 1102.89z" fill="rgb(0,0,180)"/><path d="M381.5 387.3L302.49 1102.95L298.18 1102.46z" fill="rgb(0,0,159)"/><path d="M381.5 387.3L298.75 1102.53L294.44 1102.02z" fill="rgb(0,0,73)"/><path d="M381.5 387.3L295 1102.09L290.7 1101.55z" fill="rgb(0,0,109)"/><path d="M381.5 387.3L291.26 1101.62L286.96 1101.07z" fill="rgb(0,0,95)"/><path d="M381.5 387.3L287.52 1101.14L283.22 1100.56z" fill="rgb(0,0,161)"/><path d="M381.5 387.3L283.78 1100.64L279.49 1100.04z" fill="rgb(0,0,137)"/><path d="M381.5 387.3L280.05 1100.12L275.76 1099.49z" fill="rgb(0,0,164)"/><path d="M381.5 387.3L276.32 1099.58L272.03 1098.93z" fill="rgb(0,0,125)"/><path d="M381.5 387.3L272.59 1099.02L268.31 1098.35z" fill="rgb(0,0,50)"/><path d="M381.5 387.3L268.87 1098.44L264.59 1097.74z" fill="rgb(0,0,146)"/><path d="M381.5 387.3L265.15 1097.84L260.87 1097.12z" fill="rgb(0,0,137)"/><path d="M381.5 387.3L261.43 1097.22L257.15 1096.48z" fill="rgb(0,0,148)"/><path d="M381.5 387.3L257.71 1096.58L253.44 1095.82z" fill="rgb(0,0,74)"/><path d="M381.5 387.3L254 1095.92L249.73 1095.14z" fill="rgb(0,0,131)"/><path d="M381.5 387.3L250.29 1095.24L246.03 1094.44z" fill="rgb(0,0,99)"/><path d="M381.5 387.3L246.59 1094.55L242.33 1093.72z" fill="rgb(0,0,99)"/><path d="M381.5 387.3L242.88 1093.83L238.63 1092.98z" fill="rgb(0,0,142)"/><path d="M381.5 387.3L239.19 1093.1L234.94 1092.23z" fill="rgb(0,0,142)"/><path d="M381.5 387.3L235.49 1092.34L231.25 1091.45z" fill="rgb(0,0,91)"/><path d="M381.5 387.3L231.8 1091.57L227.57 1090.65z" fill="rgb(0,0,58)"/><path d="M381.5 387.3L228.12 1090.77L223.89 1089.84z" fill="rgb(0,0,27)"/><path d="M381.5 387.3L224.44 1089.96L220.21 1089z" fill="rgb(0,0,104)"/><path d="M381.5 387.3L220.76 1089.13L216.54 1088.15z" fill="rgb(0,0,173)"/><path d="M381.5 387.3L217.09 1088.28L212.87 1087.27z" fill="rgb(0,0,125)"/><path d="M381.5 387.3L213.42 1087.41L209.21 1086.38z" fill="rgb(0,0,36)"/><path d="M381.5 387.3L209.76 1086.52L205.55 1085.47z" fill="rgb(0,0,92)"/><path d="M381.5 387.3L206.1 1085.61L201.9 1084.54z" fill="rgb(0,0,145)"/><path d="M381.5 387.3L202.44 1084.68L198.25 1083.59z" fill="rgb(0,0,196)"/><path d="M381.5 387.3L198.79 1083.73L194.6 1082.62z" fill="rgb(0,0,175)"/><path d="M381.5 387.3L195.15 1082.77L190.97 1081.63z" fill="rgb(0,0,142)"/><path d="M381.5 387.3L191.51 1081.78L187.33 1080.62z" fill="rgb(0,0,136)"/><path d="M381.5 387.3L187.88 1080.78L183.71 1079.6z" fill="rgb(0,0,84)"/><path d="M381.5 387.3L184.25 1079.75L180.08 1078.55z" fill="rgb(0,0,109)"/><path d="M381.5 387.3L180.63 1078.71L176.47 1077.49z" fill="rgb(0,0,114)"/><path d="M381.5 387.3L177.01 1077.65L172.86 1076.41z" fill="rgb(0,0,96)"/><path d="M381.5 387.3L173.4 1076.57L169.25 1075.3z" fill="rgb(0,0,130)"/><path d="M381.5 387.3L169.79 1075.47L165.65 1074.18z" fill="rgb(0,0,111)"/><path d="M381.5 387.3L166.19 1074.35L162.06 1073.04z" fill="rgb(0,0,141)"/><path d="M381.5 387.3L162.6 1073.22L158.47 1071.89z" fill="rgb(0,0,186)"/><path d="M381.5 387.3L159.01 1072.06L154.89 1070.71z" fill="rgb(0,0,158)"/><path d="M381.5 387.3L155.43 1070.89L151.31 1069.51z" fill="rgb(0,0,145)"/><path d="M381.5 387.3L151.85 1069.69L147.74 1068.3z" fill="rgb(0,0,118)"/><path d="M381.5 387.3L148.28 1068.48L144.18 1067.06z" fill="rgb(0,0,65)"/><path d="M381.5 387.3L144.72 1067.25L140.63 1065.81z" fill="rgb(0,0,123)"/><path d="M381.5 387.3L141.16 1066L137.08 1064.54z" fill="rgb(0,0,150)"/><path d="M381.5 387.3L137.61 1064.73L133.53 1063.25z" fill="rgb(0,0,86)"/><path d="M381.5 387.3L134.07 1063.45L130 1061.95z" fill="rgb(0,0,179)"/><path d="M381.5 387.3L130.53 1062.14L126.47 1060.62z" fill="rgb(0,0,114)"/><path d="M381.5 387.3L127 1060.82L122.95 1059.28z" fill="rgb(0,0,143)"/><path d="M381.5 387.3L123.48 1059.48L119.43 1057.91z" fill="rgb(0,0,114)"/><path d="M381.5 387.3L119.96 1058.12L115.92 1056.53z" fill="rgb(0,0,76)"/><path d="M381.5 387.3L116.45 1056.74L112.42 1055.13z" fill="rgb(0,0,212)"/><path d="M381.5 387.3L112.95 1055.34L108.93 1053.71z" fill="rgb(0,0,80)"/><path d="M381.5 387.3L109.45 1053.93L105.45 1052.28z" fill="rgb(0,0,165)"/><path d="M381.5 387.3L105.97 1052.49L101.97 1050.82z" fill="rgb(0,0,105)"/><path d="M381.5 387.3L102.49 1051.04L98.5 1049.35z" fill="rgb(0,0,139)"/><path d="M381.5 387.3L99.02 1049.57L95.03 1047.86z" fill="rgb(0,0,95)"/><path d="M381.5 387.3L95.55 1048.08L91.58 1046.35z" fill="rgb(0,0,111)"/><path d="M381.5 387.3L92.1 1046.58L88.13 1044.82z" fill="rgb(0,0,165)"/><path d="M381.5 387.3L88.65 1045.05L84.69 1043.28z" fill="rgb(0,0,207)"/><path d="M381.5 387.3L85.21 1043.51L81.26 1041.71z" fill="rgb(0,0,93)"/><path d="M381.5 387.3L81.78 1041.95L77.84 1040.13z" fill="rgb(0,0,128)"/><path d="M381.5 387.3L78.35 1040.37L74.43 1038.53z" fill="rgb(0,0,166)"/><path d="M381.5 387.3L74.94 1038.78L71.02 1036.92z" fill="rgb(0,0,102)"/><path d="M381.5 387.3L71.53 1037.16L67.62 1035.28z" fill="rgb(0,0,156)"/><path d="M381.5 387.3L68.13 1035.53L64.24 1033.63z" fill="rgb(0,0,95)"/><path d="M381.5 387.3L64.74 1033.88L60.86 1031.96z" fill="rgb(0,0,152)"/><path d="M381.5 387.3L61.36 1032.21L57.49 1030.27z" fill="rgb(0,0,145)"/><path d="M381.5 387.3L57.99 1030.53L54.12 1028.57z" fill="rgb(0,0,177)"/><path d="M381.5 387.3L54.63 1028.82L50.77 1026.84z" fill="rgb(0,0,142)"/><path d="M381.5 387.3L51.27 1027.1L47.43 1025.1z" fill="rgb(0,0,79)"/><path d="M381.5 387.3L47.93 1025.37L44.09 1023.35z" fill="rgb(0,0,155)"/><path d="M381.5 387.3L44.59 1023.61L40.77 1021.57z" fill="rgb(0,0,83)"/><path d="M381.5 387.3L41.26 1021.84L37.45 1019.78z" fill="rgb(0,0,158)"/><path d="M381.5 387.3L37.95 1020.05L34.14 1017.97z" fill="rgb(0,0,189)"/><path d="M381.5 387.3L34.64 1018.24L30.84 1016.14z" fill="rgb(0,0,152)"/><path d="M381.5 387.3L31.34 1016.42L27.56 1014.3z" fill="rgb(0,0,105)"/><path d="M381.5 387.3L28.05 1014.57L24.28 1012.43z" fill="rgb(0,0,176)"/><path d="M381.5 387.3L24.77 1012.71L21.01 1010.56z" fill="rgb(0,0,134)"/><path d="M381.5 387.3L21.5 1010.84L17.75 1008.66z" fill="rgb(0,0,77)"/><path d="M381.5 387.3L18.24 1008.94L14.5 1006.75z" fill="rgb(0,0,113)"/><path d="M381.5 387.3L14.99 1007.03L11.27 1004.82z" fill="rgb(0,0,185)"/><path d="M381.5 387.3L11.75 1005.11L8.04 1002.87z" fill="rgb(0,0,115)"/><path d="M381.5 387.3L8.52 1003.16L4.82 1000.91z" fill="rgb(0,0,132)"/><path d="M381.5 387.3L5.3 1001.2L1.61 998.92z" fill="rgb(0,0,114)"/><path d="M381.5 387.3L2.09 999.22L-1.59 996.93z" fill="rgb(0,0,59)"/><path d="M381.5 387.3L-1.11 997.23L-4.77 994.91z" fill="rgb(0,0,107)"/><path d="M381.5 387.3L-4.3 995.22L-7.95 992.88z" fill="rgb(0,0,142)"/><path d="M381.5 387.3L-7.47 993.19L-11.11 990.83z" fill="rgb(0,0,136)"/><path d="M381.5 387.3L-10.64 991.14L-14.27 988.77z" fill="rgb(0,0,120)"/><path d="M381.5 387.3L-13.8 989.08L-17.41 986.69z" fill="rgb(0,0,40)"/><path d="M381.5 387.3L-16.94 987L-20.55 984.59z" fill="rgb(0,0,177)"/><path d="M381.5 387.3L-20.08 984.91L-23.67 982.48z" fill="rgb(0,0,157)"/><path d="M381.5 387.3L-23.2 982.8L-26.78 980.35z" fill="rgb(0,0,169)"/><path d="M381.5 387.3L-26.31 980.67L-29.88 978.2z" fill="rgb(0,0,181)"/><path d="M381.5 387.3L-29.41 978.53L-32.97 976.04z" fill="rgb(0,0,109)"/><path d="M381.5 387.3L-32.5 976.37L-36.04 973.86z" fill="rgb(0,0,103)"/><path d="M381.5 387.3L-35.58 974.19L-39.11 971.67z" fill="rgb(0,0,140)"/><path d="M381.5 387.3L-38.65 972L-42.16 969.46z" fill="rgb(0,0,196)"/><path d="M381.5 387.3L-41.71 969.79L-45.21 967.23z" fill="rgb(0,0,59)"/><path d="M381.5 387.3L-44.75 967.57L-48.24 964.99z" fill="rgb(0,0,118)"/><path d="M381.5 387.3L-47.78 965.33L-51.25 962.73z" fill="rgb(0,0,98)"/><path d="M381.5 387.3L-50.8 963.07L-54.26 960.46z" fill="rgb(0,0,150)"/><path d="M381.5 387.3L-53.81 960.8L-57.26 958.17z" fill="rgb(0,0,187)"/><path d="M381.5 387.3L-56.81 958.51L-60.24 955.86z" fill="rgb(0,0,115)"/><path d="M381.5 387.3L-59.79 956.21L-63.21 953.54z" fill="rgb(0,0,77)"/><path d="M381.5 387.3L-62.77 953.89L-66.17 951.21z" fill="rgb(0,0,130)"/><path d="M381.5 387.3L-65.73 951.56L-69.12 948.86z" fill="rgb(0,0,116)"/><path d="M381.5 387.3L-68.67 949.21L-72.05 946.49z" fill="rgb(0,0,65)"/><path d="M381.5 387.3L-71.61 946.85L-74.97 944.11z" fill="rgb(0,0,164)"/><path d="M381.5 387.3L-74.53 944.46L-77.88 941.71z" fill="rgb(0,0,106)"/><path d="M381.5 387.3L-77.45 942.07L-80.78 939.3z" fill="rgb(0,0,155)"/><path d="M381.5 387.3L-80.34 939.66L-83.66 936.87z" fill="rgb(0,0,74)"/><path d="M381.5 387.3L-83.23 937.23L-86.53 934.42z" fill="rgb(0,0,172)"/><path d="M381.5 387.3L-86.1 934.79L-89.39 931.97z" fill="rgb(0,0,69)"/><path d="M381.5 387.3L-88.96 932.34L-92.24 929.49z" fill="rgb(0,0,170)"/><path d="M381.5 387.3L-91.81 929.87L-95.07 927.01z" fill="rgb(0,0,54)"/><path d="M381.5 387.3L-94.64 927.38L-97.89 924.5z" fill="rgb(0,0,184)"/><path d="M381.5 387.3L-97.47 924.88L-100.69 921.99z" fill="rgb(0,0,112)"/><path d="M381.5 387.3L-100.27 922.36L-103.49 919.45z" fill="rgb(0,0,64)"/><path d="M381.5 387.3L-103.07 919.83L-106.27 916.91z" fill="rgb(0,0,118)"/><path d="M381.5 387.3L-105.85 917.29L-109.03 914.35z" fill="rgb(0,0,141)"/><path d="M381.5 387.3L-108.62 914.73L-111.79 911.77z" fill="rgb(0,0,87)"/><path d="M381.5 387.3L-111.37 912.16L-114.53 909.18z" fill="rgb(0,0,107)"/><path d="M381.5 387.3L-114.12 909.57L-117.25 906.58z" fill="rgb(0,0,138)"/><path d="M381.5 387.3L-116.84 906.97L-119.96 903.96z" fill="rgb(0,0,121)"/><path d="M381.5 387.3L-119.56 904.35L-122.66 901.32z" fill="rgb(0,0,2)"/><path d="M381.5 387.3L-122.26 901.72L-125.35 898.68z" fill="rgb(0,0,110)"/><path d="M381.5 387.3L-124.94 899.08L-128.02 896.02z" fill="rgb(0,0,145)"/><path d="M381.5 387.3L-127.62 896.42L-130.67 893.34z" fill="rgb(0,0,140)"/><path d="M381.5 387.3L-130.28 893.74L-133.32 890.65z" fill="rgb(0,0,169)"/><path d="M381.5 387.3L-132.92 891.06L-135.94 887.95z" fill="rgb(0,0,99)"/><path d="M381.5 387.3L-135.55 888.36L-138.56 885.23z" fill="rgb(0,0,232)"/><path d="M381.5 387.3L-138.17 885.64L-141.16 882.5z" fill="rgb(0,0,160)"/><path d="M381.5 387.3L-140.77 882.92L-143.74 879.76z" fill="rgb(0,0,140)"/><path d="M381.5 387.3L-143.36 880.17L-146.32 877z" fill="rgb(0,0,172)"/><path d="M381.5 387.3L-145.93 877.42L-148.87 874.23z" fill="rgb(0,0,166)"/><path d="M381.5 387.3L-148.49 874.65L-151.41 871.45z" fill="rgb(0,0,132)"/><path d="M381.5 387.3L-151.03 871.87L-153.94 868.65z" fill="rgb(0,0,102)"/><path d="M381.5 387.3L-153.56 869.07L-156.46 865.84z" fill="rgb(0,0,169)"/><path d="M381.5 387.3L-156.08 866.27L-158.95 863.02z" fill="rgb(0,0,145)"/><path d="M381.5 387.3L-158.58 863.44L-161.44 860.18z" fill="rgb(0,0,50)"/><path d="M381.5 387.3L-161.07 860.61L-163.91 857.33z" fill="rgb(0,0,82)"/><path d="M381.5 387.3L-163.54 857.76L-166.36 854.47z" fill="rgb(0,0,147)"/><path d="M381.5 387.3L-165.99 854.9L-168.8 851.6z" fill="rgb(0,0,132)"/><path d="M381.5 387.3L-168.43 852.03L-171.22 848.71z" fill="rgb(0,0,139)"/><path d="M381.5 387.3L-170.86 849.14L-173.63 845.81z" fill="rgb(0,0,154)"/><path d="M381.5 387.3L-173.27 846.25L-176.02 842.9z" fill="rgb(0,0,133)"/><path d="M381.5 387.3L-175.66 843.33L-178.4 839.97z" fill="rgb(0,0,192)"/><path d="M381.5 387.3L-178.05 840.41L-180.76 837.03z" fill="rgb(0,0,103)"/><path d="M381.5 387.3L-180.41 837.47L-183.11 834.08z" fill="rgb(0,0,111)"/><path d="M381.5 387.3L-182.76 834.53L-185.44 831.12z" fill="rgb(0,0,141)"/><path d="M381.5 387.3L-185.09 831.57L-187.76 828.15z" fill="rgb(0,0,158)"/><path d="M381.5 387.3L-187.41 828.59L-190.06 825.16z" fill="rgb(0,0,160)"/><path d="M381.5 387.3L-189.71 825.61L-192.34 822.16z" fill="rgb(0,0,188)"/><path d="M381.5 387.3L-192 822.61L-194.61 819.15z" fill="rgb(0,0,108)"/><path d="M381.5 387.3L-194.27 819.6L-196.87 816.13z" fill="rgb(0,0,175)"/><path d="M381.5 387.3L-196.53 816.58L-199.1 813.09z" fill="rgb(0,0,147)"/><path d="M381.5 387.3L-198.77 813.55L-201.32 810.05z" fill="rgb(0,0,85)"/><path d="M381.5 387.3L-200.99 810.51L-203.53 806.99z" fill="rgb(0,0,122)"/><path d="M381.5 387.3L-203.2 807.45L-205.72 803.92z" fill="rgb(0,0,213)"/><path d="M381.5 387.3L-205.39 804.38L-207.89 800.84z" fill="rgb(0,0,160)"/><path d="M381.5 387.3L-207.57 801.3L-210.05 797.75z" fill="rgb(0,0,108)"/><path d="M381.5 387.3L-209.73 798.21L-212.19 794.65z" fill="rgb(0,0,30)"/><path d="M381.5 387.3L-211.87 795.11L-214.32 791.53z" fill="rgb(0,0,97)"/><path d="M381.5 387.3L-214 792L-216.42 788.41z" fill="rgb(0,0,99)"/><path d="M381.5 387.3L-216.11 788.88L-218.52 785.27z" fill="rgb(0,0,131)"/><path d="M381.5 387.3L-218.2 785.74L-220.59 782.12z" fill="rgb(0,0,222)"/><path d="M381.5 387.3L-220.28 782.6L-222.65 778.97z" fill="rgb(0,0,158)"/><path d="M381.5 387.3L-222.34 779.44L-224.69 775.8z" fill="rgb(0,0,140)"/><path d="M381.5 387.3L-224.39 776.27L-226.72 772.62z" fill="rgb(0,0,89)"/><path d="M381.5 387.3L-226.42 773.1L-228.73 769.43z" fill="rgb(0,0,79)"/><path d="M381.5 387.3L-228.43 769.91L-230.72 766.23z" fill="rgb(0,0,119)"/><path d="M381.5 387.3L-230.42 766.71L-232.7 763.02z" fill="rgb(0,0,108)"/><path d="M381.5 387.3L-232.4 763.5L-234.66 759.8z" fill="rgb(0,0,250)"/><path d="M381.5 387.3L-234.36 760.28L-236.6 756.56z" fill="rgb(0,0,111)"/><path d="M381.5 387.3L-236.31 757.05L-238.52 753.32z" fill="rgb(0,0,102)"/><path d="M381.5 387.3L-238.23 753.81L-240.43 750.07z" fill="rgb(0,0,174)"/><path d="M381.5 387.3L-240.14 750.56L-242.32 746.81z" fill="rgb(0,0,131)"/><path d="M381.5 387.3L-242.04 747.3L-244.19 743.54z" fill="rgb(0,0,77)"/><path d="M381.5 387.3L-243.91 744.03L-246.05 740.26z" fill="rgb(0,0,180)"/><path d="M381.5 387.3L-245.77 740.75L-247.89 736.97z" fill="rgb(0,0,115)"/><path d="M381.5 387.3L-247.62 737.46L-249.71 733.67z" fill="rgb(0,0,73)"/><path d="M381.5 387.3L-249.44 734.16L-251.52 730.36z" fill="rgb(0,0,141)"/><path d="M381.5 387.3L-251.25 730.85L-253.31 727.04z" fill="rgb(0,0,147)"/><path d="M381.5 387.3L-253.04 727.54L-255.08 723.71z" fill="rgb(0,0,114)"/><path d="M381.5 387.3L-254.81 724.21L-256.83 720.37z" fill="rgb(0,0,156)"/><path d="M381.5 387.3L-256.57 720.87L-258.56 717.03z" fill="rgb(0,0,161)"/><path d="M381.5 387.3L-258.3 717.53L-260.28 713.67z" fill="rgb(0,0,92)"/><path d="M381.5 387.3L-260.02 714.17L-261.98 710.3z" fill="rgb(0,0,44)"/><path d="M381.5 387.3L-261.73 710.81L-263.66 706.93z" fill="rgb(0,0,30)"/><path d="M381.5 387.3L-263.41 707.44L-265.33 703.55z" fill="rgb(0,0,122)"/><path d="M381.5 387.3L-265.08 704.06L-266.98 700.16z" fill="rgb(0,0,178)"/><path d="M381.5 387.3L-266.73 700.67L-268.6 696.76z" fill="rgb(0,0,168)"/><path d="M381.5 387.3L-268.36 697.27L-270.22 693.35z" fill="rgb(0,0,184)"/><path d="M381.5 387.3L-269.98 693.86L-271.81 689.93z" fill="rgb(0,0,203)"/><path d="M381.5 387.3L-271.57 690.45L-273.39 686.51z" fill="rgb(0,0,128)"/><path d="M381.5 387.3L-273.15 687.02L-274.94 683.07z" fill="rgb(0,0,171)"/><path d="M381.5 387.3L-274.71 683.59L-276.48 679.63z" fill="rgb(0,0,65)"/><path d="M381.5 387.3L-276.25 680.15L-278 676.18z" fill="rgb(0,0,156)"/><path d="M381.5 387.3L-277.78 676.7L-279.51 672.73z" fill="rgb(0,0,144)"/><path d="M381.5 387.3L-279.28 673.25L-280.99 669.26z" fill="rgb(0,0,124)"/><path d="M381.5 387.3L-280.77 669.78L-282.46 665.79z" fill="rgb(0,0,109)"/><path d="M381.5 387.3L-282.24 666.31L-283.91 662.31z" fill="rgb(0,0,82)"/><path d="M381.5 387.3L-283.69 662.83L-285.34 658.82z" fill="rgb(0,0,133)"/><path d="M381.5 387.3L-285.13 659.35L-286.75 655.33z" fill="rgb(0,0,180)"/><path d="M381.5 387.3L-286.54 655.85L-288.15 651.82z" fill="rgb(0,0,113)"/><path d="M381.5 387.3L-287.94 652.35L-289.52 648.31z" fill="rgb(0,0,149)"/><path d="M381.5 387.3L-289.32 648.84L-290.88 644.8z" fill="rgb(0,0,100)"/><path d="M381.5 387.3L-290.68 645.32L-292.22 641.27z" fill="rgb(0,0,138)"/><path d="M381.5 387.3L-292.02 641.8L-293.54 637.74z" fill="rgb(0,0,86)"/><path d="M381.5 387.3L-293.34 638.27L-294.84 634.2z" fill="rgb(0,0,143)"/><path d="M381.5 387.3L-294.65 634.73L-296.13 630.66z" fill="rgb(0,0,119)"/><path d="M381.5 387.3L-295.93 631.19L-297.39 627.11z" fill="rgb(0,0,140)"/><path d="M381.5 387.3L-297.2 627.64L-298.64 623.55z" fill="rgb(0,0,103)"/><path d="M381.5 387.3L-298.45 624.08L-299.86 619.99z" fill="rgb(0,0,80)"/><path d="M381.5 387.3L-299.68 620.52L-301.07 616.41z" fill="rgb(0,0,114)"/><path d="M381.5 387.3L-300.89 616.95L-302.26 612.84z" fill="rgb(0,0,170)"/><path d="M381.5 387.3L-302.09 613.37L-303.44 609.25z" fill="rgb(0,0,192)"/><path d="M381.5 387.3L-303.26 609.79L-304.59 605.67z" fill="rgb(0,0,114)"/><path d="M381.5 387.3L-304.42 606.2L-305.72 602.07z" fill="rgb(0,0,160)"/><path d="M381.5 387.3L-305.55 602.61L-306.84 598.47z" fill="rgb(0,0,158)"/><path d="M381.5 387.3L-306.67 599.01L-307.93 594.86z" fill="rgb(0,0,144)"/><path d="M381.5 387.3L-307.77 595.4L-309.01 591.25z" fill="rgb(0,0,64)"/><path d="M381.5 387.3L-308.85 591.79L-310.07 587.63z" fill="rgb(0,0,141)"/><path d="M381.5 387.3L-309.91 588.17L-311.11 584.01z" fill="rgb(0,0,88)"/><path d="M381.5 387.3L-310.95 584.55L-312.13 580.38z" fill="rgb(0,0,175)"/><path d="M381.5 387.3L-311.98 580.92L-313.13 576.74z" fill="rgb(0,0,160)"/><path d="M381.5 387.3L-312.98 577.29L-314.11 573.1z" fill="rgb(0,0,153)"/><path d="M381.5 387.3L-313.97 573.65L-315.08 569.46z" fill="rgb(0,0,24)"/><path d="M381.5 387.3L-314.93 570.01L-316.02 565.81z" fill="rgb(0,0,153)"/><path d="M381.5 387.3L-315.88 566.36L-316.95 562.15z" fill="rgb(0,0,156)"/><path d="M381.5 387.3L-316.81 562.7L-317.85 558.49z" fill="rgb(0,0,75)"/><path d="M381.5 387.3L-317.72 559.04L-318.74 554.83z" fill="rgb(0,0,167)"/><path d="M381.5 387.3L-318.61 555.38L-319.61 551.16z" fill="rgb(0,0,131)"/><path d="M381.5 387.3L-319.48 551.71L-320.45 547.49z" fill="rgb(0,0,120)"/><path d="M381.5 387.3L-320.33 548.04L-321.28 543.81z" fill="rgb(0,0,98)"/><path d="M381.5 387.3L-321.16 544.36L-322.09 540.13z" fill="rgb(0,0,86)"/><path d="M381.5 387.3L-321.97 540.68L-322.88 536.44z" fill="rgb(0,0,110)"/><path d="M381.5 387.3L-322.77 537L-323.65 532.75z" fill="rgb(0,0,253)"/><path d="M381.5 387.3L-323.54 533.31L-324.41 529.06z" fill="rgb(0,0,136)"/><path d="M381.5 387.3L-324.3 529.61L-325.14 525.36z" fill="rgb(0,0,136)"/><path d="M381.5 387.3L-325.03 525.92L-325.85 521.66z" fill="rgb(0,0,101)"/><path d="M381.5 387.3L-325.75 522.21L-326.55 517.95z" fill="rgb(0,0,102)"/><path d="M381.5 387.3L-326.44 518.51L-327.22 514.24z" fill="rgb(0,0,105)"/><path d="M381.5 387.3L-327.12 514.8L-327.88 510.53z" fill="rgb(0,0,91)"/><path d="M381.5 387.3L-327.78 511.09L-328.51 506.82z" fill="rgb(0,0,163)"/><path d="M381.5 387.3L-328.42 507.37L-329.13 503.1z" fill="rgb(0,0,116)"/><path d="M381.5 387.3L-329.04 503.65L-329.72 499.37z" fill="rgb(0,0,163)"/><path d="M381.5 387.3L-329.64 499.93L-330.3 495.65z" fill="rgb(0,0,80)"/><path d="M381.5 387.3L-330.22 496.21L-330.86 491.92z" fill="rgb(0,0,165)"/><path d="M381.5 387.3L-330.78 492.48L-331.4 488.19z" fill="rgb(0,0,126)"/><path d="M381.5 387.3L-331.32 488.75L-331.91 484.45z" fill="rgb(0,0,155)"/><path d="M381.5 387.3L-331.84 485.02L-332.41 480.72z" fill="rgb(0,0,123)"/><path d="M381.5 387.3L-332.34 481.28L-332.89 476.98z" fill="rgb(0,0,91)"/><path d="M381.5 387.3L-332.82 477.54L-333.35 473.24z" fill="rgb(0,0,177)"/><path d="M381.5 387.3L-333.29 473.8L-333.79 469.49z" fill="rgb(0,0,110)"/><path d="M381.5 387.3L-333.73 470.05L-334.21 465.75z" fill="rgb(0,0,121)"/><path d="M381.5 387.3L-334.15 466.31L-334.61 462z" fill="rgb(0,0,91)"/><path d="M381.5 387.3L-334.56 462.56L-335 458.25z" fill="rgb(0,0,136)"/><path d="M381.5 387.3L-334.94 458.81L-335.36 454.49z" fill="rgb(0,0,112)"/><path d="M381.5 387.3L-335.3 455.06L-335.7 450.74z" fill="rgb(0,0,139)"/><path d="M381.5 387.3L-335.65 451.3L-336.02 446.98z" fill="rgb(0,0,142)"/><path d="M381.5 387.3L-335.97 447.55L-336.32 443.23z" fill="rgb(0,0,99)"/><path d="M381.5 387.3L-336.28 443.79L-336.61 439.47z" fill="rgb(0,0,70)"/><path d="M381.5 387.3L-336.57 440.03L-336.87 435.71z" fill="rgb(0,0,145)"/><path d="M381.5 387.3L-336.83 436.27L-337.11 431.94z" fill="rgb(0,0,165)"/><path d="M381.5 387.3L-337.08 432.51L-337.34 428.18z" fill="rgb(0,0,156)"/><path d="M381.5 387.3L-337.31 428.75L-337.54 424.42z" fill="rgb(0,0,81)"/><path d="M381.5 387.3L-337.51 424.98L-337.73 420.65z" fill="rgb(0,0,152)"/><path d="M381.5 387.3L-337.7 421.22L-337.89 416.89z" fill="rgb(0,0,143)"/><path d="M381.5 387.3L-337.87 417.45L-338.04 413.12z" fill="rgb(0,0,139)"/><path d="M381.5 387.3L-338.02 413.68L-338.16 409.35z" fill="rgb(0,0,145)"/><path d="M381.5 387.3L-338.14 409.92L-338.27 405.58z" fill="rgb(0,0,114)"/><path d="M381.5 387.3L-338.25 406.15L-338.35 401.81z" fill="rgb(0,0,136)"/><path d="M381.5 387.3L-338.34 402.38L-338.42 398.04z" fill="rgb(0,0,165)"/><path d="M381.5 387.3L-338.41 398.61L-338.47 394.27z" fill="rgb(0,0,107)"/><path d="M381.5 387.3L-338.46 394.84L-338.49 390.5z" fill="rgb(0,0,69)"/><path d="M381.5 387.3L-338.49 391.07L-338.5 386.73z" fill="rgb(0,0,123)"/><path d="M381.5 387.3L-338.5 387.3L-338.49 382.96z" fill="rgb(0,0,136)"/><path d="M381.5 387.3L-338.49 383.53L-338.45 379.19z" fill="rgb(0,0,52)"/><path d="M381.5 387.3L-338.46 379.76L-338.4 375.43z" fill="rgb(0,0,100)"/><path d="M381.5 387.3L-338.41 375.99L-338.33 371.66z" fill="rgb(0,0,152)"/><path d="M381.5 387.3L-338.34 372.22L-338.24 367.89z" fill="rgb(0,0,121)"/><path d="M381.5 387.3L-338.25 368.45L-338.13 364.12z" fill="rgb(0,0,131)"/><path d="M381.5 387.3L-338.14 364.68L-338 360.35z" fill="rgb(0,0,76)"/><path d="M381.5 387.3L-338.02 360.92L-337.84 356.58z" fill="rgb(0,0,164)"/><path d="M381.5 387.3L-337.87 357.15L-337.67 352.82z" fill="rgb(0,0,199)"/><path d="M381.5 387.3L-337.7 353.38L-337.48 349.05z" fill="rgb(0,0,119)"/><path d="M381.5 387.3L-337.51 349.62L-337.27 345.29z" fill="rgb(0,0,98)"/><path d="M381.5 387.3L-337.31 345.85L-337.04 341.53z" fill="rgb(0,0,80)"/><path d="M381.5 387.3L-337.08 342.09L-336.79 337.76z" fill="rgb(0,0,164)"/><path d="M381.5 387.3L-336.83 338.33L-336.52 334z" fill="rgb(0,0,132)"/><path d="M381.5 387.3L-336.57 334.57L-336.24 330.25z" fill="rgb(0,0,95)"/><path d="M381.5 387.3L-336.28 330.81L-335.93 326.49z" fill="rgb(0,0,177)"/><path d="M381.5 387.3L-335.97 327.05L-335.6 322.73z" fill="rgb(0,0,159)"/><path d="M381.5 387.3L-335.65 323.3L-335.25 318.98z" fill="rgb(0,0,152)"/><path d="M381.5 387.3L-335.3 319.54L-334.88 315.23z" fill="rgb(0,0,56)"/><path d="M381.5 387.3L-334.94 315.79L-334.5 311.48z" fill="rgb(0,0,123)"/><path d="M381.5 387.3L-334.56 312.04L-334.09 307.73z" fill="rgb(0,0,153)"/><path d="M381.5 387.3L-334.15 308.29L-333.66 303.98z" fill="rgb(0,0,78)"/><path d="M381.5 387.3L-333.73 304.55L-333.22 300.24z" fill="rgb(0,0,165)"/><path d="M381.5 387.3L-333.29 300.8L-332.75 296.5z" fill="rgb(0,0,186)"/><path d="M381.5 387.3L-332.82 297.06L-332.27 292.76z" fill="rgb(0,0,170)"/><path d="M381.5 387.3L-332.34 293.32L-331.76 289.02z" fill="rgb(0,0,98)"/><path d="M381.5 387.3L-331.84 289.58L-331.24 285.29z" fill="rgb(0,0,99)"/><path d="M381.5 387.3L-331.32 285.85L-330.69 281.56z" fill="rgb(0,0,166)"/><path d="M381.5 387.3L-330.78 282.12L-330.13 277.83z" fill="rgb(0,0,168)"/><path d="M381.5 387.3L-330.22 278.39L-329.55 274.11z" fill="rgb(0,0,178)"/><path d="M381.5 387.3L-329.64 274.67L-328.94 270.39z" fill="rgb(0,0,176)"/><path d="M381.5 387.3L-329.04 270.95L-328.32 266.67z" fill="rgb(0,0,123)"/><path d="M381.5 387.3L-328.42 267.23L-327.68 262.95z" fill="rgb(0,0,111)"/><path d="M381.5 387.3L-327.78 263.51L-327.02 259.24z" fill="rgb(0,0,52)"/><path d="M381.5 387.3L-327.12 259.8L-326.34 255.53z" fill="rgb(0,0,159)"/><path d="M381.5 387.3L-326.44 256.09L-325.64 251.83z" fill="rgb(0,0,220)"/><path d="M381.5 387.3L-325.75 252.39L-324.92 248.13z" fill="rgb(0,0,109)"/><path d="M381.5 387.3L-325.03 248.68L-324.18 244.43z" fill="rgb(0,0,108)"/><path d="M381.5 387.3L-324.3 244.99L-323.43 240.74z" fill="rgb(0,0,154)"/><path d="M381.5 387.3L-323.54 241.29L-322.65 237.05z" fill="rgb(0,0,143)"/><path d="M381.5 387.3L-322.77 237.6L-321.85 233.37z" fill="rgb(0,0,72)"/><path d="M381.5 387.3L-321.97 233.92L-321.04 229.69z" fill="rgb(0,0,98)"/><path d="M381.5 387.3L-321.16 230.24L-320.2 226.01z" fill="rgb(0,0,83)"/><path d="M381.5 387.3L-320.33 226.56L-319.35 222.34z" fill="rgb(0,0,210)"/><path d="M381.5 387.3L-319.48 222.89L-318.47 218.67z" fill="rgb(0,0,98)"/><path d="M381.5 387.3L-318.61 219.22L-317.58 215.01z" fill="rgb(0,0,162)"/><path d="M381.5 387.3L-317.72 215.56L-316.67 211.35z" fill="rgb(0,0,206)"/><path d="M381.5 387.3L-316.81 211.9L-315.74 207.7z" fill="rgb(0,0,205)"/><path d="M381.5 387.3L-315.88 208.24L-314.79 204.05z" fill="rgb(0,0,186)"/><path d="M381.5 387.3L-314.93 204.59L-313.82 200.4z" fill="rgb(0,0,194)"/><path d="M381.5 387.3L-313.97 200.95L-312.83 196.77z" fill="rgb(0,0,77)"/><path d="M381.5 387.3L-312.98 197.31L-311.82 193.13z" fill="rgb(0,0,113)"/><path d="M381.5 387.3L-311.98 193.68L-310.8 189.51z" fill="rgb(0,0,98)"/><path d="M381.5 387.3L-310.95 190.05L-309.75 185.88z" fill="rgb(0,0,116)"/><path d="M381.5 387.3L-309.91 186.43L-308.69 182.27z" fill="rgb(0,0,234)"/><path d="M381.5 387.3L-308.85 182.81L-307.61 178.66z" fill="rgb(0,0,59)"/><path d="M381.5 387.3L-307.77 179.2L-306.5 175.05z" fill="rgb(0,0,150)"/><path d="M381.5 387.3L-306.67 175.59L-305.38 171.45z" fill="rgb(0,0,77)"/><path d="M381.5 387.3L-305.55 171.99L-304.24 167.86z" fill="rgb(0,0,182)"/><path d="M381.5 387.3L-304.42 168.4L-303.09 164.27z" fill="rgb(0,0,181)"/><path d="M381.5 387.3L-303.26 164.81L-301.91 160.69z" fill="rgb(0,0,107)"/><path d="M381.5 387.3L-302.09 161.23L-300.71 157.11z" fill="rgb(0,0,212)"/><path d="M381.5 387.3L-300.89 157.65L-299.5 153.54z" fill="rgb(0,0,131)"/><path d="M381.5 387.3L-299.68 154.08L-298.26 149.98z" fill="rgb(0,0,181)"/><path d="M381.5 387.3L-298.45 150.52L-297.01 146.43z" fill="rgb(0,0,140)"/><path d="M381.5 387.3L-297.2 146.96L-295.74 142.88z" fill="rgb(0,0,105)"/><path d="M381.5 387.3L-295.93 143.41L-294.45 139.33z" fill="rgb(0,0,112)"/><path d="M381.5 387.3L-294.65 139.87L-293.15 135.8z" fill="rgb(0,0,123)"/><path d="M381.5 387.3L-293.34 136.33L-291.82 132.27z" fill="rgb(0,0,153)"/><path d="M381.5 387.3L-292.02 132.8L-290.48 128.75z" fill="rgb(0,0,133)"/><path d="M381.5 387.3L-290.68 129.28L-289.11 125.23z" fill="rgb(0,0,224)"/><path d="M381.5 387.3L-289.32 125.76L-287.73 121.72z" fill="rgb(0,0,120)"/><path d="M381.5 387.3L-287.94 122.25L-286.33 118.22z" fill="rgb(0,0,108)"/><path d="M381.5 387.3L-286.54 118.75L-284.91 114.73z" fill="rgb(0,0,98)"/><path d="M381.5 387.3L-285.13 115.25L-283.48 111.25z" fill="rgb(0,0,96)"/><path d="M381.5 387.3L-283.69 111.77L-282.02 107.77z" fill="rgb(0,0,69)"/><path d="M381.5 387.3L-282.24 108.29L-280.55 104.3z" fill="rgb(0,0,87)"/><path d="M381.5 387.3L-280.77 104.82L-279.06 100.83z" fill="rgb(0,0,164)"/><path d="M381.5 387.3L-279.28 101.35L-277.55 97.38z" fill="rgb(0,0,130)"/><path d="M381.5 387.3L-277.78 97.9L-276.02 93.93z" fill="rgb(0,0,121)"/><path d="M381.5 387.3L-276.25 94.45L-274.48 90.49z" fill="rgb(0,0,142)"/><path d="M381.5 387.3L-274.71 91.01L-272.91 87.06z" fill="rgb(0,0,171)"/><path d="M381.5 387.3L-273.15 87.58L-271.33 83.64z" fill="rgb(0,0,153)"/><path d="M381.5 387.3L-271.57 84.15L-269.73 80.23z" fill="rgb(0,0,159)"/><path d="M381.5 387.3L-269.98 80.74L-268.12 76.82z" fill="rgb(0,0,105)"/><path d="M381.5 387.3L-268.36 77.33L-266.48 73.42z" fill="rgb(0,0,117)"/><path d="M381.5 387.3L-266.73 73.93L-264.83 70.04z" fill="rgb(0,0,96)"/><path d="M381.5 387.3L-265.08 70.54L-263.16 66.66z" fill="rgb(0,0,124)"/><path d="M381.5 387.3L-263.41 67.16L-261.47 63.29z" fill="rgb(0,0,94)"/><path d="M381.5 387.3L-261.73 63.79L-259.77 59.92z" fill="rgb(0,0,112)"/><path d="M381.5 387.3L-260.02 60.43L-258.04 56.57z" fill="rgb(0,0,120)"/><path d="M381.5 387.3L-258.3 57.07L-256.3 53.23z" fill="rgb(0,0,119)"/><path d="M381.5 387.3L-256.57 53.73L-254.55 49.89z" fill="rgb(0,0,117)"/><path d="M381.5 387.3L-254.81 50.39L-252.77 46.57z" fill="rgb(0,0,107)"/><path d="M381.5 387.3L-253.04 47.06L-250.98 43.25z" fill="rgb(0,0,181)"/><path d="M381.5 387.3L-251.25 43.75L-249.17 39.94z" fill="rgb(0,0,114)"/><path d="M381.5 387.3L-249.44 40.44L-247.34 36.64z" fill="rgb(0,0,86)"/><path d="M381.5 387.3L-247.62 37.14L-245.5 33.36z" fill="rgb(0,0,135)"/><path d="M381.5 387.3L-245.77 33.85L-243.63 30.08z" fill="rgb(0,0,83)"/><path d="M381.5 387.3L-243.91 30.57L-241.76 26.81z" fill="rgb(0,0,84)"/><path d="M381.5 387.3L-242.04 27.3L-239.86 23.55z" fill="rgb(0,0,131)"/><path d="M381.5 387.3L-240.14 24.04L-237.95 20.3z" fill="rgb(0,0,59)"/><path d="M381.5 387.3L-238.23 20.79L-236.02 17.07z" fill="rgb(0,0,0)"/><path d="M381.5 387.3L-236.31 17.55L-234.07 13.84z" fill="rgb(0,0,139)"/><path d="M381.5 387.3L-234.36 14.32L-232.11 10.62z" fill="rgb(0,0,170)"/><path d="M381.5 387.3L-232.4 11.1L-230.12 7.41z" fill="rgb(0,0,59)"/><path d="M381.5 387.3L-230.42 7.89L-228.13 4.21z" fill="rgb(0,0,91)"/><path d="M381.5 387.3L-228.43 4.69L-226.11 1.03z" fill="rgb(0,0,151)"/><path d="M381.5 387.3L-226.42 1.5L-224.08 -2.15z" fill="rgb(0,0,46)"/><path d="M381.5 387.3L-224.39 -1.67L-222.03 -5.31z" fill="rgb(0,0,92)"/><path d="M381.5 387.3L-222.34 -4.84L-219.97 -8.47z" fill="rgb(0,0,78)"/><path d="M381.5 387.3L-220.28 -8L-217.89 -11.61z" fill="rgb(0,0,119)"/><path d="M381.5 387.3L-218.2 -11.14L-215.79 -14.75z" fill="rgb(0,0,47)"/><path d="M381.5 387.3L-216.11 -14.28L-213.68 -17.87z" fill="rgb(0,0,164)"/><path d="M381.5 387.3L-214 -17.4L-211.55 -20.98z" fill="rgb(0,0,122)"/><path d="M381.5 387.3L-211.87 -20.51L-209.4 -24.08z" fill="rgb(0,0,140)"/><path d="M381.5 387.3L-209.73 -23.61L-207.24 -27.17z" fill="rgb(0,0,114)"/><path d="M381.5 387.3L-207.57 -26.7L-205.06 -30.24z" fill="rgb(0,0,41)"/><path d="M381.5 387.3L-205.39 -29.78L-202.87 -33.31z" fill="rgb(0,0,121)"/><path d="M381.5 387.3L-203.2 -32.85L-200.66 -36.36z" fill="rgb(0,0,73)"/><path d="M381.5 387.3L-200.99 -35.91L-198.43 -39.41z" fill="rgb(0,0,128)"/><path d="M381.5 387.3L-198.77 -38.95L-196.19 -42.44z" fill="rgb(0,0,93)"/><path d="M381.5 387.3L-196.53 -41.98L-193.93 -45.45z" fill="rgb(0,0,115)"/><path d="M381.5 387.3L-194.27 -45L-191.66 -48.46z" fill="rgb(0,0,119)"/><path d="M381.5 387.3L-192 -48.01L-189.37 -51.46z" fill="rgb(0,0,159)"/><path d="M381.5 387.3L-189.71 -51.01L-187.06 -54.44z" fill="rgb(0,0,159)"/><path d="M381.5 387.3L-187.41 -53.99L-184.74 -57.41z" fill="rgb(0,0,86)"/><path d="M381.5 387.3L-185.09 -56.97L-182.41 -60.37z" fill="rgb(0,0,127)"/><path d="M381.5 387.3L-182.76 -59.93L-180.06 -63.32z" fill="rgb(0,0,187)"/><path d="M381.5 387.3L-180.41 -62.87L-177.69 -66.25z" fill="rgb(0,0,148)"/><path d="M381.5 387.3L-178.05 -65.81L-175.31 -69.17z" fill="rgb(0,0,98)"/><path d="M381.5 387.3L-175.66 -68.73L-172.91 -72.08z" fill="rgb(0,0,123)"/><path d="M381.5 387.3L-173.27 -71.65L-170.5 -74.98z" fill="rgb(0,0,113)"/><path d="M381.5 387.3L-170.86 -74.54L-168.07 -77.86z" fill="rgb(0,0,166)"/><path d="M381.5 387.3L-168.43 -77.43L-165.62 -80.73z" fill="rgb(0,0,129)"/><path d="M381.5 387.3L-165.99 -80.3L-163.17 -83.59z" fill="rgb(0,0,143)"/><path d="M381.5 387.3L-163.54 -83.16L-160.69 -86.44z" fill="rgb(0,0,218)"/><path d="M381.5 387.3L-161.07 -86.01L-158.21 -89.27z" fill="rgb(0,0,71)"/><path d="M381.5 387.3L-158.58 -88.84L-155.7 -92.09z" fill="rgb(0,0,86)"/><path d="M381.5 387.3L-156.08 -91.67L-153.19 -94.89z" fill="rgb(0,0,57)"/><path d="M381.5 387.3L-153.56 -94.47L-150.65 -97.69z" fill="rgb(0,0,63)"/><path d="M381.5 387.3L-151.03 -97.27L-148.11 -100.47z" fill="rgb(0,0,162)"/><path d="M381.5 387.3L-148.49 -100.05L-145.55 -103.23z" fill="rgb(0,0,139)"/><path d="M381.5 387.3L-145.93 -102.82L-142.97 -105.99z" fill="rgb(0,0,194)"/><path d="M381.5 387.3L-143.36 -105.57L-140.38 -108.73z" fill="rgb(0,0,47)"/><path d="M381.5 387.3L-140.77 -108.32L-137.78 -111.45z" fill="rgb(0,0,92)"/><path d="M381.5 387.3L-138.17 -111.04L-135.16 -114.16z" fill="rgb(0,0,186)"/><path d="M381.5 387.3L-135.55 -113.76L-132.52 -116.86z" fill="rgb(0,0,169)"/><path d="M381.5 387.3L-132.92 -116.46L-129.88 -119.55z" fill="rgb(0,0,164)"/><path d="M381.5 387.3L-130.28 -119.14L-127.22 -122.22z" fill="rgb(0,0,163)"/><path d="M381.5 387.3L-127.62 -121.82L-124.54 -124.87z" fill="rgb(0,0,129)"/><path d="M381.5 387.3L-124.94 -124.48L-121.85 -127.52z" fill="rgb(0,0,127)"/><path d="M381.5 387.3L-122.26 -127.12L-119.15 -130.14z" fill="rgb(0,0,129)"/><path d="M381.5 387.3L-119.56 -129.75L-116.43 -132.76z" fill="rgb(0,0,162)"/><path d="M381.5 387.3L-116.84 -132.37L-113.7 -135.36z" fill="rgb(0,0,121)"/><path d="M381.5 387.3L-114.12 -134.97L-110.96 -137.94z" fill="rgb(0,0,141)"/><path d="M381.5 387.3L-111.37 -137.56L-108.2 -140.52z" fill="rgb(0,0,187)"/><path d="M381.5 387.3L-108.62 -140.13L-105.43 -143.07z" fill="rgb(0,0,82)"/><path d="M381.5 387.3L-105.85 -142.69L-102.65 -145.61z" fill="rgb(0,0,97)"/><path d="M381.5 387.3L-103.07 -145.23L-99.85 -148.14z" fill="rgb(0,0,151)"/><path d="M381.5 387.3L-100.27 -147.76L-97.04 -150.66z" fill="rgb(0,0,117)"/><path d="M381.5 387.3L-97.47 -150.28L-94.22 -153.15z" fill="rgb(0,0,121)"/><path d="M381.5 387.3L-94.64 -152.78L-91.38 -155.64z" fill="rgb(0,0,213)"/><path d="M381.5 387.3L-91.81 -155.27L-88.53 -158.11z" fill="rgb(0,0,144)"/><path d="M381.5 387.3L-88.96 -157.74L-85.67 -160.56z" fill="rgb(0,0,110)"/><path d="M381.5 387.3L-86.1 -160.19L-82.8 -163z" fill="rgb(0,0,172)"/><path d="M381.5 387.3L-83.23 -162.63L-79.91 -165.42z" fill="rgb(0,0,230)"/><path d="M381.5 387.3L-80.34 -165.06L-77.01 -167.83z" fill="rgb(0,0,82)"/><path d="M381.5 387.3L-77.45 -167.47L-74.1 -170.22z" fill="rgb(0,0,100)"/><path d="M381.5 387.3L-74.53 -169.86L-71.17 -172.6z" fill="rgb(0,0,132)"/><path d="M381.5 387.3L-71.61 -172.25L-68.23 -174.96z" fill="rgb(0,0,102)"/><path d="M381.5 387.3L-68.67 -174.61L-65.28 -177.31z" fill="rgb(0,0,216)"/><path d="M381.5 387.3L-65.73 -176.96L-62.32 -179.64z" fill="rgb(0,0,149)"/><path d="M381.5 387.3L-62.77 -179.29L-59.35 -181.96z" fill="rgb(0,0,111)"/><path d="M381.5 387.3L-59.79 -181.61L-56.36 -184.26z" fill="rgb(0,0,148)"/><path d="M381.5 387.3L-56.81 -183.91L-53.36 -186.54z" fill="rgb(0,0,95)"/><path d="M381.5 387.3L-53.81 -186.2L-50.35 -188.81z" fill="rgb(0,0,103)"/><path d="M381.5 387.3L-50.8 -188.47L-47.33 -191.07z" fill="rgb(0,0,132)"/><path d="M381.5 387.3L-47.78 -190.73L-44.29 -193.3z" fill="rgb(0,0,225)"/><path d="M381.5 387.3L-44.75 -192.97L-41.25 -195.52z" fill="rgb(0,0,36)"/><path d="M381.5 387.3L-41.71 -195.19L-38.19 -197.73z" fill="rgb(0,0,145)"/><path d="M381.5 387.3L-38.65 -197.4L-35.12 -199.92z" fill="rgb(0,0,183)"/><path d="M381.5 387.3L-35.58 -199.59L-32.04 -202.09z" fill="rgb(0,0,158)"/><path d="M381.5 387.3L-32.5 -201.77L-28.95 -204.25z" fill="rgb(0,0,206)"/><path d="M381.5 387.3L-29.41 -203.93L-25.85 -206.39z" fill="rgb(0,0,146)"/><path d="M381.5 387.3L-26.31 -206.07L-22.73 -208.52z" fill="rgb(0,0,133)"/><path d="M381.5 387.3L-23.2 -208.2L-19.61 -210.62z" fill="rgb(0,0,122)"/><path d="M381.5 387.3L-20.08 -210.31L-16.47 -212.72z" fill="rgb(0,0,93)"/><path d="M381.5 387.3L-16.94 -212.4L-13.32 -214.79z" fill="rgb(0,0,194)"/><path d="M381.5 387.3L-13.8 -214.48L-10.17 -216.85z" fill="rgb(0,0,79)"/><path d="M381.5 387.3L-10.64 -216.54L-7 -218.89z" fill="rgb(0,0,122)"/><path d="M381.5 387.3L-7.47 -218.59L-3.82 -220.92z" fill="rgb(0,0,106)"/><path d="M381.5 387.3L-4.3 -220.62L-0.63 -222.93z" fill="rgb(0,0,95)"/><path d="M381.5 387.3L-1.11 -222.63L2.57 -224.92z" fill="rgb(0,0,37)"/><path d="M381.5 387.3L2.09 -224.62L5.78 -226.9z" fill="rgb(0,0,112)"/><path d="M381.5 387.3L5.3 -226.6L9 -228.86z" fill="rgb(0,0,133)"/><path d="M381.5 387.3L8.52 -228.56L12.24 -230.8z" fill="rgb(0,0,133)"/><path d="M381.5 387.3L11.75 -230.51L15.48 -232.72z" fill="rgb(0,0,162)"/><path d="M381.5 387.3L14.99 -232.43L18.73 -234.63z" fill="rgb(0,0,121)"/><path d="M381.5 387.3L18.24 -234.34L21.99 -236.52z" fill="rgb(0,0,101)"/><path d="M381.5 387.3L21.5 -236.24L25.26 -238.39z" fill="rgb(0,0,140)"/><path d="M381.5 387.3L24.77 -238.11L28.54 -240.25z" fill="rgb(0,0,155)"/><path d="M381.5 387.3L28.05 -239.97L31.83 -242.09z" fill="rgb(0,0,91)"/><path d="M381.5 387.3L31.34 -241.82L35.13 -243.91z" fill="rgb(0,0,66)"/><path d="M381.5 387.3L34.64 -243.64L38.44 -245.72z" fill="rgb(0,0,86)"/><path d="M381.5 387.3L37.95 -245.45L41.76 -247.51z" fill="rgb(0,0,171)"/><path d="M381.5 387.3L41.26 -247.24L45.09 -249.28z" fill="rgb(0,0,168)"/><path d="M381.5 387.3L44.59 -249.01L48.43 -251.03z" fill="rgb(0,0,91)"/><path d="M381.5 387.3L47.93 -250.77L51.77 -252.76z" fill="rgb(0,0,132)"/><path d="M381.5 387.3L51.27 -252.5L55.13 -254.48z" fill="rgb(0,0,162)"/><path d="M381.5 387.3L54.63 -254.22L58.5 -256.18z" fill="rgb(0,0,182)"/><path d="M381.5 387.3L57.99 -255.93L61.87 -257.86z" fill="rgb(0,0,101)"/><path d="M381.5 387.3L61.36 -257.61L65.25 -259.53z" fill="rgb(0,0,118)"/><path d="M381.5 387.3L64.74 -259.28L68.64 -261.18z" fill="rgb(0,0,185)"/><path d="M381.5 387.3L68.13 -260.93L72.04 -262.8z" fill="rgb(0,0,226)"/><path d="M381.5 387.3L71.53 -262.56L75.45 -264.42z" fill="rgb(0,0,190)"/><path d="M381.5 387.3L74.94 -264.18L78.87 -266.01z" fill="rgb(0,0,81)"/><path d="M381.5 387.3L78.35 -265.77L82.29 -267.59z" fill="rgb(0,0,146)"/><path d="M381.5 387.3L81.78 -267.35L85.73 -269.14z" fill="rgb(0,0,115)"/><path d="M381.5 387.3L85.21 -268.91L89.17 -270.68z" fill="rgb(0,0,125)"/><path d="M381.5 387.3L88.65 -270.45L92.62 -272.2z" fill="rgb(0,0,100)"/><path d="M381.5 387.3L92.1 -271.98L96.07 -273.71z" fill="rgb(0,0,108)"/><path d="M381.5 387.3L95.55 -273.48L99.54 -275.19z" fill="rgb(0,0,127)"/><path d="M381.5 387.3L99.02 -274.97L103.01 -276.66z" fill="rgb(0,0,201)"/><path d="M381.5 387.3L102.49 -276.44L106.49 -278.11z" fill="rgb(0,0,156)"/><path d="M381.5 387.3L105.97 -277.89L109.98 -279.54z" fill="rgb(0,0,145)"/><path d="M381.5 387.3L109.45 -279.33L113.47 -280.95z" fill="rgb(0,0,129)"/><path d="M381.5 387.3L112.95 -280.74L116.98 -282.35z" fill="rgb(0,0,97)"/><path d="M381.5 387.3L116.45 -282.14L120.49 -283.72z" fill="rgb(0,0,118)"/><path d="M381.5 387.3L119.96 -283.52L124 -285.08z" fill="rgb(0,0,178)"/><path d="M381.5 387.3L123.48 -284.88L127.53 -286.42z" fill="rgb(0,0,161)"/><path d="M381.5 387.3L127 -286.22L131.06 -287.74z" fill="rgb(0,0,208)"/><path d="M381.5 387.3L130.53 -287.54L134.6 -289.04z" fill="rgb(0,0,138)"/><path d="M381.5 387.3L134.07 -288.85L138.14 -290.33z" fill="rgb(0,0,127)"/><path d="M381.5 387.3L137.61 -290.13L141.69 -291.59z" fill="rgb(0,0,61)"/><path d="M381.5 387.3L141.16 -291.4L145.25 -292.84z" fill="rgb(0,0,144)"/><path d="M381.5 387.3L144.72 -292.65L148.81 -294.06z" fill="rgb(0,0,57)"/><path d="M381.5 387.3L148.28 -293.88L152.39 -295.27z" fill="rgb(0,0,190)"/><path d="M381.5 387.3L151.85 -295.09L155.96 -296.46z" fill="rgb(0,0,102)"/><path d="M381.5 387.3L155.43 -296.29L159.55 -297.64z" fill="rgb(0,0,128)"/><path d="M381.5 387.3L159.01 -297.46L163.13 -298.79z" fill="rgb(0,0,72)"/><path d="M381.5 387.3L162.6 -298.62L166.73 -299.92z" fill="rgb(0,0,107)"/><path d="M381.5 387.3L166.19 -299.75L170.33 -301.04z" fill="rgb(0,0,89)"/><path d="M381.5 387.3L169.79 -300.87L173.94 -302.13z" fill="rgb(0,0,174)"/><path d="M381.5 387.3L173.4 -301.97L177.55 -303.21z" fill="rgb(0,0,138)"/><path d="M381.5 387.3L177.01 -303.05L181.17 -304.27z" fill="rgb(0,0,79)"/><path d="M381.5 387.3L180.63 -304.11L184.79 -305.31z" fill="rgb(0,0,49)"/><path d="M381.5 387.3L184.25 -305.15L188.42 -306.33z" fill="rgb(0,0,125)"/><path d="M381.5 387.3L187.88 -306.18L192.06 -307.33z" fill="rgb(0,0,108)"/><path d="M381.5 387.3L191.51 -307.18L195.7 -308.31z" fill="rgb(0,0,82)"/><path d="M381.5 387.3L195.15 -308.17L199.34 -309.28z" fill="rgb(0,0,152)"/><path d="M381.5 387.3L198.79 -309.13L202.99 -310.22z" fill="rgb(0,0,120)"/><path d="M381.5 387.3L202.44 -310.08L206.65 -311.15z" fill="rgb(0,0,132)"/><path d="M381.5 387.3L206.1 -311.01L210.31 -312.05z" fill="rgb(0,0,103)"/><path d="M381.5 387.3L209.76 -311.92L213.97 -312.94z" fill="rgb(0,0,104)"/><path d="M381.5 387.3L213.42 -312.81L217.64 -313.81z" fill="rgb(0,0,109)"/><path d="M381.5 387.3L217.09 -313.68L221.31 -314.65z" fill="rgb(0,0,62)"/><path d="M381.5 387.3L220.76 -314.53L224.99 -315.48z" fill="rgb(0,0,153)"/><path d="M381.5 387.3L224.44 -315.36L228.67 -316.29z" fill="rgb(0,0,144)"/><path d="M381.5 387.3L228.12 -316.17L232.36 -317.08z" fill="rgb(0,0,57)"/><path d="M381.5 387.3L231.8 -316.97L236.05 -317.85z" fill="rgb(0,0,132)"/><path d="M381.5 387.3L235.49 -317.74L239.74 -318.61z" fill="rgb(0,0,175)"/><path d="M381.5 387.3L239.19 -318.5L243.44 -319.34z" fill="rgb(0,0,137)"/><path d="M381.5 387.3L242.88 -319.23L247.14 -320.05z" fill="rgb(0,0,180)"/><path d="M381.5 387.3L246.59 -319.95L250.85 -320.75z" fill="rgb(0,0,117)"/><path d="M381.5 387.3L250.29 -320.64L254.56 -321.42z" fill="rgb(0,0,128)"/><path d="M381.5 387.3L254 -321.32L258.27 -322.08z" fill="rgb(0,0,74)"/><path d="M381.5 387.3L257.71 -321.98L261.98 -322.71z" fill="rgb(0,0,91)"/><path d="M381.5 387.3L261.43 -322.62L265.7 -323.33z" fill="rgb(0,0,53)"/><path d="M381.5 387.3L265.15 -323.24L269.43 -323.92z" fill="rgb(0,0,91)"/><path d="M381.5 387.3L268.87 -323.84L273.15 -324.5z" fill="rgb(0,0,137)"/><path d="M381.5 387.3L272.59 -324.42L276.88 -325.06z" fill="rgb(0,0,149)"/><path d="M381.5 387.3L276.32 -324.98L280.61 -325.6z" fill="rgb(0,0,175)"/><path d="M381.5 387.3L280.05 -325.52L284.35 -326.11z" fill="rgb(0,0,133)"/><path d="M381.5 387.3L283.78 -326.04L288.08 -326.61z" fill="rgb(0,0,87)"/><path d="M381.5 387.3L287.52 -326.54L291.82 -327.09z" fill="rgb(0,0,145)"/><path d="M381.5 387.3L291.26 -327.02L295.56 -327.55z" fill="rgb(0,0,122)"/><path d="M381.5 387.3L295 -327.49L299.31 -327.99z" fill="rgb(0,0,200)"/><path d="M381.5 387.3L298.75 -327.93L303.05 -328.41z" fill="rgb(0,0,207)"/><path d="M381.5 387.3L302.49 -328.35L306.8 -328.81z" fill="rgb(0,0,167)"/><path d="M381.5 387.3L306.24 -328.76L310.55 -329.2z" fill="rgb(0,0,81)"/><path d="M381.5 387.3L309.99 -329.14L314.31 -329.56z" fill="rgb(0,0,106)"/><path d="M381.5 387.3L313.74 -329.5L318.06 -329.9z" fill="rgb(0,0,135)"/><path d="M381.5 387.3L317.5 -329.85L321.82 -330.22z" fill="rgb(0,0,98)"/><path d="M381.5 387.3L321.25 -330.17L325.57 -330.52z" fill="rgb(0,0,149)"/><path d="M381.5 387.3L325.01 -330.48L329.33 -330.81z" fill="rgb(0,0,155)"/><path d="M381.5 387.3L328.77 -330.77L333.09 -331.07z" fill="rgb(0,0,162)"/><path d="M381.5 387.3L332.53 -331.03L336.86 -331.31z" fill="rgb(0,0,137)"/><path d="M381.5 387.3L336.29 -331.28L340.62 -331.54z" fill="rgb(0,0,91)"/><path d="M381.5 387.3L340.05 -331.51L344.38 -331.74z" fill="rgb(0,0,93)"/><path d="M381.5 387.3L343.82 -331.71L348.15 -331.93z" fill="rgb(0,0,122)"/><path d="M381.5 387.3L347.58 -331.9L351.91 -332.09z" fill="rgb(0,0,182)"/><path d="M381.5 387.3L351.35 -332.07L355.68 -332.24z" fill="rgb(0,0,192)"/><path d="M381.5 387.3L355.12 -332.22L359.45 -332.36z" fill="rgb(0,0,167)"/><path d="M381.5 387.3L358.88 -332.34L363.22 -332.47z" fill="rgb(0,0,142)"/><path d="M381.5 387.3L362.65 -332.45L366.99 -332.55z" fill="rgb(0,0,155)"/><path d="M381.5 387.3L366.42 -332.54L370.76 -332.62z" fill="rgb(0,0,161)"/><path d="M381.5 387.3L370.19 -332.61L374.53 -332.67z" fill="rgb(0,0,180)"/><path d="M381.5 387.3L373.96 -332.66L378.3 -332.69z" fill="rgb(0,0,162)"/><path d="M381.5 387.3L377.73 -332.69L382.07 -332.7z" fill="rgb(0,0,65)"/><g mask="url(#nsm)"><path d="M381.5 387.3L381.5 317.3L386.11 317.45z" fill="rgb(0,0,238)"/><path d="M381.5 387.3L385.9 317.44L390.49 317.88z" fill="rgb(0,0,71)"/><path d="M381.5 387.3L390.27 317.85L394.83 318.58z" fill="rgb(0,0,144)"/><path d="M381.5 387.3L394.62 318.54L399.12 319.55z" fill="rgb(0,0,114)"/><path d="M381.5 387.3L398.91 319.5L403.34 320.79z" fill="rgb(0,0,83)"/><path d="M381.5 387.3L403.13 320.73L407.47 322.3z" fill="rgb(0,0,98)"/><path d="M381.5 387.3L407.27 322.22L411.5 324.06z" fill="rgb(0,0,101)"/><path d="M381.5 387.3L411.3 323.96L415.42 326.06z" fill="rgb(0,0,122)"/><path d="M381.5 387.3L415.22 325.96L419.19 328.32z" fill="rgb(0,0,147)"/><path d="M381.5 387.3L419.01 328.2L422.82 330.8z" fill="rgb(0,0,179)"/><path d="M381.5 387.3L422.64 330.67L426.29 333.5z" fill="rgb(0,0,138)"/><path d="M381.5 387.3L426.12 333.36L429.58 336.42z" fill="rgb(0,0,183)"/><path d="M381.5 387.3L429.42 336.27L432.68 339.54z" fill="rgb(0,0,149)"/><path d="M381.5 387.3L432.53 339.38L435.58 342.85z" fill="rgb(0,0,131)"/><path d="M381.5 387.3L435.44 342.68L438.26 346.33z" fill="rgb(0,0,114)"/><path d="M381.5 387.3L438.13 346.16L440.72 349.98z" fill="rgb(0,0,76)"/><path d="M381.5 387.3L440.6 349.79L442.95 353.77z" fill="rgb(0,0,45)"/><path d="M381.5 387.3L442.84 353.58L444.93 357.69z" fill="rgb(0,0,121)"/><path d="M381.5 387.3L444.84 357.5L446.66 361.74z" fill="rgb(0,0,116)"/><path d="M381.5 387.3L446.58 361.53L448.14 365.88z" fill="rgb(0,0,141)"/><path d="M381.5 387.3L448.07 365.67L449.36 370.1z" fill="rgb(0,0,142)"/><path d="M381.5 387.3L449.3 369.89L450.3 374.4z" fill="rgb(0,0,61)"/><path d="M381.5 387.3L450.26 374.18L450.98 378.74z" fill="rgb(0,0,89)"/><path d="M381.5 387.3L450.95 378.53L451.38 383.12z" fill="rgb(0,0,68)"/><path d="M381.5 387.3L451.36 382.9L451.5 387.52z" fill="rgb(0,0,175)"/><path d="M381.5 387.3L451.5 387.3L451.35 391.91z" fill="rgb(0,0,119)"/><path d="M381.5 387.3L451.36 391.7L450.92 396.29z" fill="rgb(0,0,131)"/><path d="M381.5 387.3L450.95 396.07L450.22 400.63z" fill="rgb(0,0,79)"/><path d="M381.5 387.3L450.26 400.42L449.25 404.92z" fill="rgb(0,0,60)"/><path d="M381.5 387.3L449.3 404.71L448.01 409.14z" fill="rgb(0,0,95)"/><path d="M381.5 387.3L448.07 408.93L446.5 413.27z" fill="rgb(0,0,119)"/><path d="M381.5 387.3L446.58 413.07L444.74 417.3z" fill="rgb(0,0,147)"/><path d="M381.5 387.3L444.84 417.1L442.74 421.22z" fill="rgb(0,0,47)"/><path d="M381.5 387.3L442.84 421.02L440.48 424.99z" fill="rgb(0,0,141)"/><path d="M381.5 387.3L440.6 424.81L438 428.62z" fill="rgb(0,0,81)"/><path d="M381.5 387.3L438.13 428.44L435.3 432.09z" fill="rgb(0,0,98)"/><path d="M381.5 387.3L435.44 431.92L432.38 435.38z" fill="rgb(0,0,107)"/><path d="M381.5 387.3L432.53 435.22L429.26 438.48z" fill="rgb(0,0,102)"/><path d="M381.5 387.3L429.42 438.33L425.95 441.38z" fill="rgb(0,0,147)"/><path d="M381.5 387.3L426.12 441.24L422.47 444.06z" fill="rgb(0,0,168)"/><path d="M381.5 387.3L422.64 443.93L418.82 446.52z" fill="rgb(0,0,141)"/><path d="M381.5 387.3L419.01 446.4L415.03 448.75z" fill="rgb(0,0,97)"/><path d="M381.5 387.3L415.22 448.64L411.11 450.73z" fill="rgb(0,0,145)"/><path d="M381.5 387.3L411.3 450.64L407.06 452.46z" fill="rgb(0,0,143)"/><path d="M381.5 387.3L407.27 452.38L402.92 453.94z" fill="rgb(0,0,167)"/><path d="M381.5 387.3L403.13 453.87L398.7 455.16z" fill="rgb(0,0,137)"/><path d="M381.5 387.3L398.91 455.1L394.4 456.1z" fill="rgb(0,0,43)"/><path d="M381.5 387.3L394.62 456.06L390.06 456.78z" fill="rgb(0,0,86)"/><path d="M381.5 387.3L390.27 456.75L385.68 457.18z" fill="rgb(0,0,104)"/><path d="M381.5 387.3L385.9 457.16L381.28 457.3z" fill="rgb(0,0,170)"/><path d="M381.5 387.3L381.5 457.3L376.89 457.15z" fill="rgb(0,0,117)"/><path d="M381.5 387.3L377.1 457.16L372.51 456.72z" fill="rgb(0,0,170)"/><path d="M381.5 387.3L372.73 456.75L368.17 456.02z" fill="rgb(0,0,139)"/><path d="M381.5 387.3L368.38 456.06L363.88 455.05z" fill="rgb(0,0,64)"/><path d="M381.5 387.3L364.09 455.1L359.66 453.81z" fill="rgb(0,0,126)"/><path d="M381.5 387.3L359.87 453.87L355.53 452.3z" fill="rgb(0,0,152)"/><path d="M381.5 387.3L355.73 452.38L351.5 450.54z" fill="rgb(0,0,144)"/><path d="M381.5 387.3L351.7 450.64L347.58 448.54z" fill="rgb(0,0,49)"/><path d="M381.5 387.3L347.78 448.64L343.81 446.28z" fill="rgb(0,0,145)"/><path d="M381.5 387.3L343.99 446.4L340.18 443.8z" fill="rgb(0,0,94)"/><path d="M381.5 387.3L340.36 443.93L336.71 441.1z" fill="rgb(0,0,18)"/><path d="M381.5 387.3L336.88 441.24L333.42 438.18z" fill="rgb(0,0,95)"/><path d="M381.5 387.3L333.58 438.33L330.32 435.06z" fill="rgb(0,0,25)"/><path d="M381.5 387.3L330.47 435.22L327.42 431.75z" fill="rgb(0,0,60)"/><path d="M381.5 387.3L327.56 431.92L324.74 428.27z" fill="rgb(0,0,196)"/><path d="M381.5 387.3L324.87 428.44L322.28 424.62z" fill="rgb(0,0,248)"/><path d="M381.5 387.3L322.4 424.81L320.05 420.83z" fill="rgb(0,0,177)"/><path d="M381.5 387.3L320.16 421.02L318.07 416.91z" fill="rgb(0,0,146)"/><path d="M381.5 387.3L318.16 417.1L316.34 412.86z" fill="rgb(0,0,219)"/><path d="M381.5 387.3L316.42 413.07L314.86 408.72z" fill="rgb(0,0,141)"/><path d="M381.5 387.3L314.93 408.93L313.64 404.5z" fill="rgb(0,0,75)"/><path d="M381.5 387.3L313.7 404.71L312.7 400.2z" fill="rgb(0,0,0)"/><path d="M381.5 387.3L312.74 400.42L312.02 395.86z" fill="rgb(0,0,170)"/><path d="M381.5 387.3L312.05 396.07L311.62 391.48z" fill="rgb(0,0,10)"/><path d="M381.5 387.3L311.64 391.7L311.5 387.08z" fill="rgb(0,0,0)"/><path d="M381.5 387.3L311.5 387.3L311.65 382.69z" fill="rgb(0,0,91)"/><path d="M381.5 387.3L311.64 382.9L312.08 378.31z" fill="rgb(0,0,127)"/><path d="M381.5 387.3L312.05 378.53L312.78 373.97z" fill="rgb(0,0,80)"/><path d="M381.5 387.3L312.74 374.18L313.75 369.68z" fill="rgb(0,0,176)"/><path d="M381.5 387.3L313.7 369.89L314.99 365.46z" fill="rgb(0,0,120)"/><path d="M381.5 387.3L314.93 365.67L316.5 361.33z" fill="rgb(0,0,135)"/><path d="M381.5 387.3L316.42 361.53L318.26 357.3z" fill="rgb(0,0,146)"/><path d="M381.5 387.3L318.16 357.5L320.26 353.38z" fill="rgb(0,0,95)"/><path d="M381.5 387.3L320.16 353.58L322.52 349.61z" fill="rgb(0,0,135)"/><path d="M381.5 387.3L322.4 349.79L325 345.98z" fill="rgb(0,0,242)"/><path d="M381.5 387.3L324.87 346.16L327.7 342.51z" fill="rgb(0,0,77)"/><path d="M381.5 387.3L327.56 342.68L330.62 339.22z" fill="rgb(0,0,133)"/><path d="M381.5 387.3L330.47 339.38L333.74 336.12z" fill="rgb(0,0,151)"/><path d="M381.5 387.3L333.58 336.27L337.05 333.22z" fill="rgb(0,0,97)"/><path d="M381.5 387.3L336.88 333.36L340.53 330.54z" fill="rgb(0,0,122)"/><path d="M381.5 387.3L340.36 330.67L344.18 328.08z" fill="rgb(0,0,38)"/><path d="M381.5 387.3L343.99 328.2L347.97 325.85z" fill="rgb(0,0,102)"/><path d="M381.5 387.3L347.78 325.96L351.89 323.87z" fill="rgb(0,0,126)"/><path d="M381.5 387.3L351.7 323.96L355.94 322.14z" fill="rgb(0,0,181)"/><path d="M381.5 387.3L355.73 322.22L360.08 320.66z" fill="rgb(0,0,172)"/><path d="M381.5 387.3L359.87 320.73L364.3 319.44z" fill="rgb(0,0,95)"/><path d="M381.5 387.3L364.09 319.5L368.6 318.5z" fill="rgb(0,0,68)"/><path d="M381.5 387.3L368.38 318.54L372.94 317.82z" fill="rgb(0,0,217)"/><path d="M381.5 387.3L372.73 317.85L377.32 317.42z" fill="rgb(0,0,170)"/><path d="M381.5 387.3L377.1 317.44L381.72 317.3z" fill="rgb(0,0,28)"/></g></g></g></g><rect x="89.5" y="32.5" width="427" height="426" fill="none" stroke="#262626" stroke-width="1"/><path d="M89.5 458.5v-4.3M89.5 32.5v4.3" stroke="#262626" fill="none"/><path d="M222.94 458.5v-4.3M222.94 32.5v4.3" stroke="#262626" fill="none"/><path d="M356.38 458.5v-4.3M356.38 32.5v4.3" stroke="#262626" fill="none"/><path d="M489.81 458.5v-4.3M489.81 32.5v4.3" stroke="#262626" fill="none"/><path d="M89.5 32.5h4.3M516.5 32.5h-4.3" stroke="#262626" fill="none"/><path d="M89.5 85.75h4.3M516.5 85.75h-4.3" stroke="#262626" fill="none"/><path d="M89.5 139h4.3M516.5 139h-4.3" stroke="#262626" fill="none"/><path d="M89.5 192.25h4.3M516.5 192.25h-4.3" stroke="#262626" fill="none"/><path d="M89.5 245.5h4.3M516.5 245.5h-4.3" stroke="#262626" fill="none"/><path d="M89.5 298.75h4.3M516.5 298.75h-4.3" stroke="#262626" fill="none"/><path d="M89.5 352h4.3M516.5 352h-4.3" stroke="#262626" fill="none"/><path d="M89.5 405.25h4.3M516.5 405.25h-4.3" stroke="#262626" fill="none"/><path d="M89.5 458.5h4.3M516.5 458.5h-4.3" stroke="#262626" fill="none"/><rect x="530" y="32" width="27" height="427" fill="url(#cb)"/><rect x="530.5" y="32.5" width="26" height="426" fill="none" stroke="#262626"/><path d="M556.5 58.45h-3.5" stroke="#262626" fill="none"/><path d="M556.5 108.19h-3.5" stroke="#262626" fill="none"/><path d="M556.5 157.93h-3.5" stroke="#262626" fill="none"/><path d="M556.5 207.67h-3.5" stroke="#262626" fill="none"/><path d="M556.5 257.41h-3.5" stroke="#262626" fill="none"/><path d="M556.5 307.15h-3.5" stroke="#262626" fill="none"/><path d="M556.5 356.89h-3.5" stroke="#262626" fill="none"/><path d="M556.5 406.63h-3.5" stroke="#262626" fill="none"/><path d="M556.5 456.37h-3.5" stroke="#262626" fill="none"/><g font-family="Liberation Sans, Arial, Helvetica, sans-serif" fill="#262626" font-size="17.3" style="opacity:0.999"><text x="88.6" y="484" text-anchor="middle">0</text><text x="222.94" y="484" text-anchor="middle">50</text><text x="356.38" y="484" text-anchor="middle">100</text><text x="489.81" y="484" text-anchor="middle">150</text><text x="81.8" y="38.9" text-anchor="end">0</text><text x="81.8" y="93.05" text-anchor="end">20</text><text x="81.8" y="146.4" text-anchor="end">40</text><text x="81.8" y="199.72" text-anchor="end">60</text><text x="81.8" y="253.26" text-anchor="end">80</text><text x="81.8" y="306.8" text-anchor="end">100</text><text x="81.8" y="360.34" text-anchor="end">120</text><text x="81.8" y="413.05" text-anchor="end">140</text><text x="81.8" y="467.2" text-anchor="end">160</text><text x="562.5" y="63.05" font-size="15.5">-4</text><text x="562.5" y="112.79" font-size="15.5">-5</text><text x="562.5" y="162.53" font-size="15.5">-6</text><text x="562.5" y="212.27" font-size="15.5">-7</text><text x="562.5" y="262.01" font-size="15.5">-8</text><text x="562.5" y="311.75" font-size="15.5">-9</text><text x="562.5" y="361.49" font-size="15.5">-10</text><text x="562.5" y="411.23" font-size="15.5">-11</text><text x="562.5" y="460.97" font-size="15.5">-12</text><text x="302.2" y="508" text-anchor="middle" font-size="18">x [λ]</text><text transform="translate(44 246.5) rotate(-90)" text-anchor="middle" font-size="18">y [λ]</text><text transform="translate(607 246.5) rotate(-90)" text-anchor="middle" font-size="15.9">log<tspan font-size="11.4" dy="7">10</tspan><tspan dy="-7"> I</tspan></text><text x="301.6" y="23.5" text-anchor="middle" font-weight="bold" font-size="17.6" fill="#000">FPS 101</text></g></svg></body></html>
